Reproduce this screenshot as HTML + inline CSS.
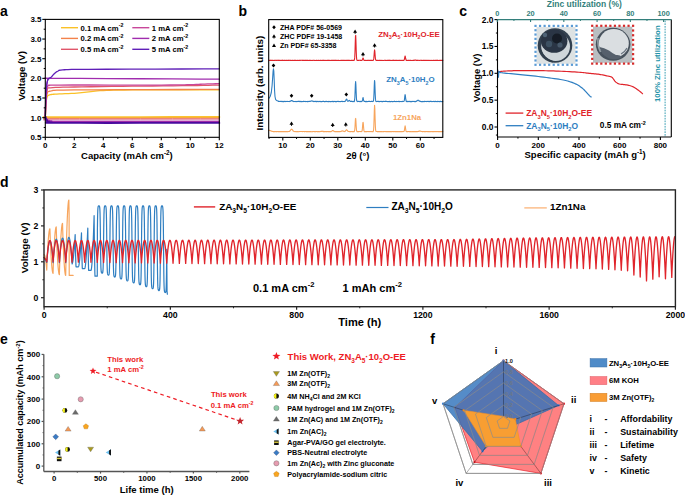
<!DOCTYPE html>
<html><head><meta charset="utf-8"><style>
html,body{margin:0;padding:0;background:#fff;width:685px;height:495px;overflow:hidden}
svg{display:block}
text{font-family:"Liberation Sans",sans-serif;font-weight:bold}
</style></head><body>
<svg width="685" height="495" viewBox="0 0 685 495">
<defs><filter id="pb" x="-10%" y="-10%" width="120%" height="120%"><feGaussianBlur stdDeviation="0.55"/></filter></defs>
<rect width="685" height="495" fill="#fff"/>
<text x="0.00" y="16.00" font-size="14" text-anchor="start" fill="#000" >a</text>
<path d="M45.30,116.47 L45.32,116.53 L45.25,116.62 L45.21,116.72 L45.35,116.83 L45.82,116.93 L46.75,117.00 L46.56,117.06 L44.82,117.11 L43.40,117.14 L44.17,117.17 L49.02,117.19 L59.80,117.20 L79.75,117.20 L108.03,117.18 L140.37,117.15 L172.52,117.12 L200.25,117.10 L219.30,117.08" stroke="#FBC22E" stroke-width="2.0" fill="none" stroke-linejoin="round" stroke-linecap="round" />
<path d="M45.30,116.47 L45.32,116.67 L45.25,116.95 L45.21,117.27 L45.35,117.61 L45.82,117.90 L46.75,118.10 L46.56,118.22 L44.82,118.29 L43.40,118.31 L44.17,118.31 L49.02,118.30 L59.80,118.30 L79.75,118.30 L108.03,118.28 L140.37,118.25 L172.52,118.22 L200.25,118.20 L219.30,118.18" stroke="#F2804F" stroke-width="1.0" fill="none" stroke-linejoin="round" stroke-linecap="round" />
<path d="M45.30,116.47 L45.32,116.77 L45.25,117.21 L45.21,117.72 L45.35,118.24 L45.82,118.69 L46.75,119.00 L46.56,119.18 L44.82,119.25 L43.40,119.27 L44.17,119.24 L49.02,119.21 L59.80,119.20 L79.75,119.20 L108.03,119.18 L140.37,119.15 L172.52,119.12 L200.25,119.10 L219.30,119.08" stroke="#E0586C" stroke-width="1.0" fill="none" stroke-linejoin="round" stroke-linecap="round" />
<path d="M45.30,116.47 L45.32,116.88 L45.25,117.48 L45.21,118.17 L45.35,118.87 L45.82,119.48 L46.75,119.90 L46.56,120.13 L44.82,120.22 L43.40,120.22 L44.17,120.18 L49.02,120.12 L59.80,120.10 L79.75,120.10 L108.03,120.08 L140.37,120.05 L172.52,120.02 L200.25,120.00 L219.30,119.98" stroke="#EBA8C8" stroke-width="0.9" fill="none" stroke-linejoin="round" stroke-linecap="round" />
<path d="M45.30,116.47 L45.51,116.85 L45.78,117.39 L46.12,118.03 L46.51,118.68 L46.96,119.27 L47.47,119.73 L48.03,120.05 L48.63,120.30 L49.29,120.50 L50.03,120.65 L50.87,120.78 L51.82,120.91 L51.19,121.02 L48.60,121.11 L46.12,121.18 L45.78,121.23 L49.66,121.27 L59.80,121.30 L79.46,121.32 L107.65,121.33 L140.05,121.32 L172.34,121.31 L200.19,121.30 L219.30,121.30" stroke="#A02CA8" stroke-width="1.3" fill="none" stroke-linejoin="round" stroke-linecap="round" />
<path d="M45.30,116.47 L45.51,117.04 L45.78,117.87 L46.12,118.83 L46.51,119.80 L46.96,120.68 L47.47,121.33 L48.03,121.75 L48.63,122.02 L49.29,122.20 L50.03,122.31 L50.87,122.40 L51.82,122.51 L51.19,122.62 L48.60,122.71 L46.12,122.78 L45.78,122.83 L49.66,122.87 L59.80,122.90 L79.46,122.92 L107.65,122.93 L140.05,122.92 L172.34,122.91 L200.19,122.90 L219.30,122.90" stroke="#4A0A9E" stroke-width="1.9" fill="none" stroke-linejoin="round" stroke-linecap="round" />
<path d="M45.30,117.65 L45.36,116.33 L45.43,114.48 L45.52,112.30 L45.62,109.99 L45.74,107.78 L45.88,105.86 L46.02,104.16 L46.17,102.51 L46.33,100.95 L46.52,99.51 L46.76,98.25 L47.04,97.21 L47.34,96.44 L47.63,95.90 L47.96,95.54 L48.38,95.29 L48.93,95.09 L49.65,94.86 L50.47,94.63 L51.35,94.48 L52.35,94.36 L53.56,94.27 L55.05,94.18 L56.90,94.07 L59.25,93.95 L62.06,93.83 L65.15,93.71 L68.34,93.59 L71.45,93.45 L74.30,93.28 L76.88,93.09 L79.35,92.87 L81.73,92.63 L84.07,92.39 L86.42,92.14 L88.80,91.91 L91.05,91.67 L93.10,91.42 L95.14,91.17 L97.39,90.93 L100.04,90.72 L103.30,90.53 L106.62,90.38 L109.74,90.26 L113.27,90.16 L117.80,90.08 L123.94,90.01 L132.30,89.94 L144.45,89.89 L160.23,89.84 L177.61,89.81 L194.60,89.78 L209.16,89.76 L219.30,89.75" stroke="#FAC127" stroke-width="1.3" fill="none" stroke-linejoin="round" stroke-linecap="round" />
<path d="M45.30,117.65 L45.36,116.11 L45.43,113.94 L45.52,111.39 L45.62,108.70 L45.74,106.12 L45.88,103.90 L46.01,101.95 L46.12,100.08 L46.24,98.32 L46.42,96.70 L46.67,95.28 L47.04,94.07 L47.33,93.13 L47.47,92.45 L47.69,91.95 L48.22,91.57 L49.28,91.25 L51.10,90.93 L52.45,90.63 L52.90,90.42 L53.89,90.28 L56.84,90.16 L63.16,90.06 L74.30,89.94 L93.10,89.82 L118.98,89.70 L148.25,89.59 L177.20,89.49 L202.11,89.41 L219.30,89.35" stroke="#F3824B" stroke-width="1.3" fill="none" stroke-linejoin="round" stroke-linecap="round" />
<path d="M45.30,117.65 L45.35,115.89 L45.42,113.43 L45.51,110.53 L45.61,107.46 L45.73,104.50 L45.88,101.93 L46.03,99.63 L46.19,97.36 L46.37,95.20 L46.58,93.23 L46.85,91.51 L47.18,90.14 L47.37,89.18 L47.34,88.60 L47.37,88.27 L47.71,88.10 L48.62,87.97 L50.38,87.78 L52.77,87.56 L55.55,87.40 L58.91,87.29 L63.03,87.20 L68.10,87.11 L74.30,87.00 L81.99,86.86 L91.11,86.73 L101.17,86.59 L111.70,86.46 L122.24,86.33 L132.30,86.21 L142.30,86.10 L152.71,86.00 L163.11,85.90 L173.11,85.81 L182.31,85.72 L190.30,85.62 L197.15,85.52 L203.19,85.40 L208.43,85.29 L212.86,85.18 L216.48,85.10 L219.30,85.03" stroke="#E0566A" stroke-width="1.3" fill="none" stroke-linejoin="round" stroke-linecap="round" />
<path d="M45.30,117.65 L45.36,115.66 L45.43,112.86 L45.52,109.57 L45.62,106.11 L45.74,102.80 L45.88,99.97 L46.02,97.50 L46.17,95.13 L46.33,92.92 L46.52,90.91 L46.76,89.18 L47.04,87.78 L47.30,86.80 L47.52,86.20 L47.78,85.87 L48.17,85.70 L48.76,85.59 L49.65,85.42 L49.85,85.24 L49.09,85.13 L48.54,85.08 L49.37,85.06 L52.73,85.05 L59.80,85.03 L72.27,85.01 L89.55,85.02 L109.37,85.03 L129.45,85.05 L147.52,85.05 L161.30,85.03 L170.50,84.99 L176.87,84.94 L181.24,84.87 L184.39,84.80 L187.14,84.72 L190.30,84.64 L193.56,84.55 L196.21,84.45 L198.46,84.34 L200.50,84.24 L202.55,84.14 L204.80,84.05 L207.38,83.97 L210.17,83.89 L212.96,83.82 L215.54,83.75 L217.72,83.70 L219.30,83.66" stroke="#C8479A" stroke-width="1.3" fill="none" stroke-linejoin="round" stroke-linecap="round" />
<path d="M45.30,117.65 L45.35,115.22 L45.42,111.78 L45.50,107.75 L45.60,103.52 L45.73,99.48 L45.88,96.03 L46.06,93.07 L46.28,90.23 L46.51,87.60 L46.77,85.22 L47.04,83.16 L47.33,81.49 L47.54,80.30 L47.65,79.55 L47.78,79.12 L48.04,78.90 L48.53,78.74 L49.36,78.55 L48.89,78.34 L46.70,78.24 L44.74,78.21 L44.97,78.24 L49.34,78.29 L59.80,78.35 L79.60,78.43 L107.83,78.57 L140.20,78.73 L172.43,78.90 L200.22,79.04 L219.30,79.14" stroke="#A02CAE" stroke-width="1.3" fill="none" stroke-linejoin="round" stroke-linecap="round" />
<path d="M45.30,119.62 L45.36,116.91 L45.44,113.06 L45.54,108.56 L45.64,103.89 L45.76,99.56 L45.88,96.03 L46.00,93.31 L46.12,91.00 L46.24,89.01 L46.38,87.27 L46.55,85.71 L46.75,84.25 L46.98,82.92 L47.23,81.80 L47.51,80.86 L47.81,80.05 L48.14,79.36 L48.49,78.74 L48.87,78.27 L49.28,77.99 L49.72,77.81 L50.18,77.67 L50.64,77.48 L51.10,77.17 L51.56,76.73 L52.02,76.22 L52.49,75.67 L52.97,75.10 L53.47,74.55 L54.00,74.03 L54.55,73.53 L55.10,73.03 L55.68,72.54 L56.28,72.08 L56.93,71.65 L57.62,71.28 L58.14,70.96 L58.43,70.69 L58.76,70.45 L59.40,70.25 L60.62,70.07 L62.70,69.90 L64.62,69.75 L65.98,69.64 L67.91,69.54 L71.59,69.46 L78.16,69.39 L88.80,69.31 L106.02,69.23 L129.40,69.15 L155.68,69.08 L181.60,69.01 L203.89,68.96 L219.30,68.92" stroke="#5F1FB8" stroke-width="1.3" fill="none" stroke-linejoin="round" stroke-linecap="round" />
<rect x="45.3" y="19.4" width="174.0" height="117.9" fill="none" stroke="#000" stroke-width="1.1"/>
<line x1="42.30" y1="137.30" x2="45.30" y2="137.30" stroke="#000" stroke-width="1.1" />
<text x="41.50" y="140.20" font-size="8" text-anchor="end" fill="#000" >0.5</text>
<line x1="43.70" y1="127.48" x2="45.30" y2="127.48" stroke="#000" stroke-width="1" />
<line x1="42.30" y1="117.65" x2="45.30" y2="117.65" stroke="#000" stroke-width="1.1" />
<text x="41.50" y="120.55" font-size="8" text-anchor="end" fill="#000" >1.0</text>
<line x1="43.70" y1="107.83" x2="45.30" y2="107.83" stroke="#000" stroke-width="1" />
<line x1="42.30" y1="98.00" x2="45.30" y2="98.00" stroke="#000" stroke-width="1.1" />
<text x="41.50" y="100.90" font-size="8" text-anchor="end" fill="#000" >1.5</text>
<line x1="43.70" y1="88.18" x2="45.30" y2="88.18" stroke="#000" stroke-width="1" />
<line x1="42.30" y1="78.35" x2="45.30" y2="78.35" stroke="#000" stroke-width="1.1" />
<text x="41.50" y="81.25" font-size="8" text-anchor="end" fill="#000" >2.0</text>
<line x1="43.70" y1="68.53" x2="45.30" y2="68.53" stroke="#000" stroke-width="1" />
<line x1="42.30" y1="58.70" x2="45.30" y2="58.70" stroke="#000" stroke-width="1.1" />
<text x="41.50" y="61.60" font-size="8" text-anchor="end" fill="#000" >2.5</text>
<line x1="43.70" y1="48.88" x2="45.30" y2="48.88" stroke="#000" stroke-width="1" />
<line x1="42.30" y1="39.05" x2="45.30" y2="39.05" stroke="#000" stroke-width="1.1" />
<text x="41.50" y="41.95" font-size="8" text-anchor="end" fill="#000" >3.0</text>
<line x1="43.70" y1="29.23" x2="45.30" y2="29.23" stroke="#000" stroke-width="1" />
<line x1="42.30" y1="19.40" x2="45.30" y2="19.40" stroke="#000" stroke-width="1.1" />
<text x="41.50" y="22.30" font-size="8" text-anchor="end" fill="#000" >3.5</text>
<line x1="45.30" y1="137.30" x2="45.30" y2="140.30" stroke="#000" stroke-width="1.1" />
<text x="45.30" y="147.80" font-size="8" text-anchor="middle" fill="#000" >0</text>
<line x1="59.80" y1="137.30" x2="59.80" y2="138.90" stroke="#000" stroke-width="1" />
<line x1="74.30" y1="137.30" x2="74.30" y2="140.30" stroke="#000" stroke-width="1.1" />
<text x="74.30" y="147.80" font-size="8" text-anchor="middle" fill="#000" >2</text>
<line x1="88.80" y1="137.30" x2="88.80" y2="138.90" stroke="#000" stroke-width="1" />
<line x1="103.30" y1="137.30" x2="103.30" y2="140.30" stroke="#000" stroke-width="1.1" />
<text x="103.30" y="147.80" font-size="8" text-anchor="middle" fill="#000" >4</text>
<line x1="117.80" y1="137.30" x2="117.80" y2="138.90" stroke="#000" stroke-width="1" />
<line x1="132.30" y1="137.30" x2="132.30" y2="140.30" stroke="#000" stroke-width="1.1" />
<text x="132.30" y="147.80" font-size="8" text-anchor="middle" fill="#000" >6</text>
<line x1="146.80" y1="137.30" x2="146.80" y2="138.90" stroke="#000" stroke-width="1" />
<line x1="161.30" y1="137.30" x2="161.30" y2="140.30" stroke="#000" stroke-width="1.1" />
<text x="161.30" y="147.80" font-size="8" text-anchor="middle" fill="#000" >8</text>
<line x1="175.80" y1="137.30" x2="175.80" y2="138.90" stroke="#000" stroke-width="1" />
<line x1="190.30" y1="137.30" x2="190.30" y2="140.30" stroke="#000" stroke-width="1.1" />
<text x="190.30" y="147.80" font-size="8" text-anchor="middle" fill="#000" >10</text>
<line x1="204.80" y1="137.30" x2="204.80" y2="138.90" stroke="#000" stroke-width="1" />
<line x1="219.30" y1="137.30" x2="219.30" y2="140.30" stroke="#000" stroke-width="1.1" />
<text x="219.30" y="147.80" font-size="8" text-anchor="middle" fill="#000" >12</text>
<text x="81.10" y="159.00" font-size="9.5" text-anchor="start" fill="#000" >Capacity (mAh cm<tspan font-size="6.3" dy="-3.8">-2</tspan><tspan dy="3.8">)</tspan></text>
<text transform="translate(25.4,75.8) rotate(-90)" font-size="9.6" text-anchor="middle">Voltage (V)</text>
<line x1="61.00" y1="27.70" x2="78.00" y2="27.70" stroke="#FAC127" stroke-width="1.4" />
<text x="80.50" y="30.50" font-size="7.7" text-anchor="start" fill="#000" >0.1 mA cm<tspan font-size="5.3" dy="-3.1">-2</tspan></text>
<line x1="61.00" y1="38.40" x2="78.00" y2="38.40" stroke="#F3824B" stroke-width="1.4" />
<text x="80.50" y="41.20" font-size="7.7" text-anchor="start" fill="#000" >0.2 mA cm<tspan font-size="5.3" dy="-3.1">-2</tspan></text>
<line x1="61.00" y1="49.30" x2="78.00" y2="49.30" stroke="#E0566A" stroke-width="1.4" />
<text x="80.50" y="52.10" font-size="7.7" text-anchor="start" fill="#000" >0.5 mA cm<tspan font-size="5.3" dy="-3.1">-2</tspan></text>
<line x1="132.30" y1="27.70" x2="149.30" y2="27.70" stroke="#C8479A" stroke-width="1.4" />
<text x="151.80" y="30.50" font-size="7.7" text-anchor="start" fill="#000" >1 mA cm<tspan font-size="5.3" dy="-3.1">-2</tspan></text>
<line x1="132.30" y1="38.40" x2="149.30" y2="38.40" stroke="#A02CAE" stroke-width="1.4" />
<text x="151.80" y="41.20" font-size="7.7" text-anchor="start" fill="#000" >2 mA cm<tspan font-size="5.3" dy="-3.1">-2</tspan></text>
<line x1="132.30" y1="49.30" x2="149.30" y2="49.30" stroke="#5F1FB8" stroke-width="1.4" />
<text x="151.80" y="52.10" font-size="7.7" text-anchor="start" fill="#000" >5 mA cm<tspan font-size="5.3" dy="-3.1">-2</tspan></text>
<text x="238.40" y="16.00" font-size="14" text-anchor="start" fill="#000" >b</text>
<path d="M269.05,60.36 L269.30,60.31 L269.55,60.44 L269.79,60.29 L270.04,60.41 L270.29,60.37 L270.54,60.29 L270.79,60.40 L271.04,60.28 L271.28,60.38 L271.53,60.29 L271.78,60.30 L272.03,60.38 L272.28,60.48 L272.53,60.31 L272.77,60.33 L273.02,60.43 L273.27,60.51 L273.52,60.42 L273.77,60.37 L274.02,60.52 L274.26,60.29 L274.51,60.49 L274.76,60.35 L275.01,60.31 L275.26,60.30 L275.51,60.35 L275.75,60.48 L276.00,60.32 L276.25,60.42 L276.50,60.43 L276.75,60.37 L277.00,60.41 L277.24,60.29 L277.49,60.29 L277.74,60.33 L277.99,60.45 L278.24,60.38 L278.48,60.35 L278.73,60.42 L278.98,60.39 L279.23,60.35 L279.48,60.47 L279.73,60.45 L279.97,60.34 L280.22,60.42 L280.47,60.41 L280.72,60.49 L280.97,60.46 L281.22,60.35 L281.46,60.52 L281.71,60.30 L281.96,60.38 L282.21,60.46 L282.46,60.31 L282.71,60.40 L282.95,60.28 L283.20,60.44 L283.45,60.47 L283.70,60.42 L283.95,60.49 L284.20,60.35 L284.44,60.45 L284.69,60.42 L284.94,60.42 L285.19,60.39 L285.44,60.48 L285.69,60.51 L285.93,60.39 L286.18,60.44 L286.43,60.29 L286.68,60.45 L286.93,60.44 L287.17,60.52 L287.42,60.48 L287.67,60.35 L287.92,60.37 L288.17,60.44 L288.42,60.28 L288.66,60.39 L288.91,60.32 L289.16,60.30 L289.41,60.29 L289.66,60.47 L289.91,60.31 L290.15,60.34 L290.40,60.37 L290.65,60.49 L290.90,60.30 L291.15,60.39 L291.40,60.41 L291.64,60.50 L291.89,60.48 L292.14,60.49 L292.39,60.34 L292.64,60.38 L292.89,60.36 L293.13,60.50 L293.38,60.51 L293.63,60.31 L293.88,60.32 L294.13,60.33 L294.38,60.33 L294.62,60.40 L294.87,60.42 L295.12,60.34 L295.37,60.28 L295.62,60.38 L295.86,60.37 L296.11,60.42 L296.36,60.51 L296.61,60.45 L296.86,60.40 L297.11,60.43 L297.35,60.44 L297.60,60.29 L297.85,60.50 L298.10,60.47 L298.35,60.49 L298.60,60.47 L298.84,60.37 L299.09,60.37 L299.34,60.30 L299.59,60.43 L299.84,60.29 L300.09,60.29 L300.33,60.33 L300.58,60.32 L300.83,60.36 L301.08,60.29 L301.33,60.28 L301.58,60.31 L301.82,60.30 L302.07,60.37 L302.32,60.28 L302.57,60.49 L302.82,60.43 L303.07,60.31 L303.31,60.34 L303.56,60.36 L303.81,60.37 L304.06,60.31 L304.31,60.49 L304.55,60.52 L304.80,60.39 L305.05,60.40 L305.30,60.30 L305.55,60.30 L305.80,60.36 L306.04,60.34 L306.29,60.48 L306.54,60.32 L306.79,60.28 L307.04,60.51 L307.29,60.41 L307.53,60.31 L307.78,60.41 L308.03,60.28 L308.28,60.41 L308.53,60.52 L308.78,60.49 L309.02,60.45 L309.27,60.34 L309.52,60.37 L309.77,60.32 L310.02,60.47 L310.27,60.41 L310.51,60.47 L310.76,60.36 L311.01,60.33 L311.26,60.48 L311.51,60.52 L311.76,60.49 L312.00,60.48 L312.25,60.48 L312.50,60.46 L312.75,60.33 L313.00,60.40 L313.24,60.36 L313.49,60.28 L313.74,60.28 L313.99,60.34 L314.24,60.34 L314.49,60.45 L314.73,60.51 L314.98,60.39 L315.23,60.51 L315.48,60.52 L315.73,60.51 L315.98,60.37 L316.22,60.33 L316.47,60.33 L316.72,60.32 L316.97,60.33 L317.22,60.43 L317.47,60.50 L317.71,60.49 L317.96,60.39 L318.21,60.44 L318.46,60.47 L318.71,60.30 L318.96,60.44 L319.20,60.50 L319.45,60.47 L319.70,60.46 L319.95,60.39 L320.20,60.32 L320.45,60.47 L320.69,60.36 L320.94,60.48 L321.19,60.52 L321.44,60.37 L321.69,60.38 L321.93,60.51 L322.18,60.46 L322.43,60.32 L322.68,60.31 L322.93,60.31 L323.18,60.50 L323.42,60.48 L323.67,60.31 L323.92,60.48 L324.17,60.52 L324.42,60.44 L324.67,60.36 L324.91,60.41 L325.16,60.31 L325.41,60.28 L325.66,60.52 L325.91,60.44 L326.16,60.41 L326.40,60.51 L326.65,60.38 L326.90,60.49 L327.15,60.48 L327.40,60.33 L327.65,60.34 L327.89,60.35 L328.14,60.34 L328.39,60.42 L328.64,60.34 L328.89,60.38 L329.14,60.31 L329.38,60.50 L329.63,60.36 L329.88,60.39 L330.13,60.42 L330.38,60.50 L330.62,60.38 L330.87,60.50 L331.12,60.40 L331.37,60.41 L331.62,60.41 L331.87,60.28 L332.11,60.39 L332.36,60.32 L332.61,60.28 L332.86,60.47 L333.11,60.32 L333.36,60.39 L333.60,60.46 L333.85,60.41 L334.10,60.36 L334.35,60.40 L334.60,60.41 L334.85,60.47 L335.09,60.30 L335.34,60.42 L335.59,60.34 L335.84,60.34 L336.09,60.47 L336.34,60.40 L336.58,60.42 L336.83,60.46 L337.08,60.50 L337.33,60.39 L337.58,60.43 L337.83,60.40 L338.07,60.40 L338.32,60.45 L338.57,60.39 L338.82,60.41 L339.07,60.39 L339.31,60.51 L339.56,60.45 L339.81,60.49 L340.06,60.51 L340.31,60.34 L340.56,60.41 L340.80,60.51 L341.05,60.48 L341.30,60.31 L341.55,60.31 L341.80,60.39 L342.05,60.29 L342.29,60.34 L342.54,60.29 L342.79,60.44 L343.04,60.47 L343.29,60.50 L343.54,60.31 L343.78,60.45 L344.03,60.44 L344.28,60.31 L344.53,60.50 L344.78,60.52 L345.03,60.33 L345.27,60.51 L345.52,60.37 L345.77,60.40 L346.02,60.52 L346.27,60.48 L346.52,60.32 L346.76,60.38 L347.01,60.40 L347.26,60.36 L347.51,60.32 L347.76,60.35 L348.00,60.46 L348.25,60.28 L348.50,60.41 L348.75,60.39 L349.00,60.28 L349.25,60.36 L349.49,60.43 L349.74,60.40 L349.99,60.29 L350.24,60.52 L350.49,60.47 L350.74,60.52 L350.98,60.30 L351.23,60.34 L351.48,60.28 L351.73,60.47 L351.98,60.34 L352.23,60.31 L352.47,60.38 L352.72,60.50 L352.97,60.48 L353.22,60.34 L353.47,60.31 L353.72,60.50 L353.96,60.40 L354.21,60.34 L354.46,59.65 L354.71,57.63 L354.96,52.72 L355.21,44.32 L355.45,36.47 L355.70,35.27 L355.95,41.35 L356.20,50.17 L356.45,56.32 L356.69,59.39 L356.94,60.08 L357.19,60.46 L357.44,60.39 L357.69,60.36 L357.94,60.41 L358.18,60.51 L358.43,60.34 L358.68,60.31 L358.93,60.41 L359.18,60.33 L359.43,60.30 L359.67,60.32 L359.92,60.29 L360.17,60.33 L360.42,60.35 L360.67,60.35 L360.92,60.46 L361.16,60.35 L361.41,60.40 L361.66,60.32 L361.91,60.33 L362.16,60.09 L362.41,59.69 L362.65,58.77 L362.90,58.12 L363.15,58.00 L363.40,58.67 L363.65,59.64 L363.90,60.28 L364.14,60.26 L364.39,60.47 L364.64,60.38 L364.89,60.40 L365.14,60.48 L365.38,60.37 L365.63,60.40 L365.88,60.45 L366.13,60.52 L366.38,60.36 L366.63,60.48 L366.87,60.45 L367.12,60.43 L367.37,60.38 L367.62,60.36 L367.87,60.29 L368.12,60.31 L368.36,60.29 L368.61,60.46 L368.86,60.34 L369.11,60.32 L369.36,60.30 L369.61,60.49 L369.85,60.49 L370.10,60.44 L370.35,60.35 L370.60,60.34 L370.85,60.35 L371.10,60.39 L371.34,60.31 L371.59,60.39 L371.84,60.34 L372.09,60.52 L372.34,60.52 L372.59,60.41 L372.83,60.33 L373.08,60.50 L373.33,60.22 L373.58,59.73 L373.83,58.16 L374.07,55.31 L374.32,51.73 L374.57,49.82 L374.82,51.09 L375.07,54.65 L375.32,57.72 L375.56,59.53 L375.81,60.11 L376.06,60.35 L376.31,60.28 L376.56,60.28 L376.81,60.35 L377.05,60.33 L377.30,60.42 L377.55,60.41 L377.80,60.46 L378.05,60.44 L378.30,60.45 L378.54,60.49 L378.79,60.37 L379.04,60.36 L379.29,60.52 L379.54,60.31 L379.79,60.46 L380.03,60.44 L380.28,60.29 L380.53,60.48 L380.78,60.50 L381.03,60.43 L381.28,60.46 L381.52,60.48 L381.77,60.31 L382.02,60.41 L382.27,60.40 L382.52,60.48 L382.76,60.48 L383.01,60.48 L383.26,60.42 L383.51,60.50 L383.76,60.45 L384.01,60.45 L384.25,60.33 L384.50,60.28 L384.75,60.31 L385.00,60.37 L385.25,60.30 L385.50,60.48 L385.74,60.41 L385.99,60.43 L386.24,60.43 L386.49,60.45 L386.74,60.40 L386.99,60.28 L387.23,60.47 L387.48,60.46 L387.73,60.40 L387.98,60.41 L388.23,60.44 L388.48,60.29 L388.72,60.46 L388.97,60.34 L389.22,60.29 L389.47,60.34 L389.72,60.46 L389.97,60.33 L390.21,60.46 L390.46,60.52 L390.71,60.40 L390.96,60.37 L391.21,60.39 L391.45,60.45 L391.70,60.47 L391.95,60.43 L392.20,60.44 L392.45,60.29 L392.70,60.31 L392.94,60.34 L393.19,60.46 L393.44,60.35 L393.69,60.42 L393.94,60.28 L394.19,60.29 L394.43,60.34 L394.68,60.44 L394.93,60.45 L395.18,60.44 L395.43,60.35 L395.68,60.40 L395.92,60.39 L396.17,60.39 L396.42,60.30 L396.67,60.50 L396.92,60.32 L397.17,60.52 L397.41,60.51 L397.66,60.28 L397.91,60.39 L398.16,60.48 L398.41,60.52 L398.66,60.39 L398.90,60.34 L399.15,60.33 L399.40,60.51 L399.65,60.33 L399.90,60.42 L400.14,60.31 L400.39,60.41 L400.64,60.51 L400.89,60.31 L401.14,60.48 L401.39,60.40 L401.63,60.50 L401.88,60.45 L402.13,60.33 L402.38,60.50 L402.63,60.40 L402.88,60.28 L403.12,60.28 L403.37,60.40 L403.62,60.38 L403.87,60.29 L404.12,60.03 L404.37,59.45 L404.61,58.22 L404.86,56.90 L405.11,55.98 L405.36,56.78 L405.61,58.24 L405.86,59.32 L406.10,60.20 L406.35,60.39 L406.60,60.49 L406.85,60.35 L407.10,60.37 L407.35,60.37 L407.59,60.52 L407.84,60.42 L408.09,60.37 L408.34,60.38 L408.59,60.34 L408.83,60.29 L409.08,60.30 L409.33,60.48 L409.58,60.35 L409.83,60.51 L410.08,60.34 L410.32,60.34 L410.57,60.40 L410.82,60.32 L411.07,60.37 L411.32,60.51 L411.57,60.50 L411.81,60.48 L412.06,60.43 L412.31,60.50 L412.56,60.51 L412.81,60.41 L413.06,60.45 L413.30,60.29 L413.55,60.45 L413.80,60.38 L414.05,60.43 L414.30,60.37 L414.55,60.22 L414.79,60.08 L415.04,60.23 L415.29,60.01 L415.54,60.12 L415.79,60.15 L416.04,60.22 L416.28,60.39 L416.53,60.49 L416.78,60.33 L417.03,60.44 L417.28,60.35 L417.52,60.41 L417.77,60.37 L418.02,60.32 L418.27,60.32 L418.52,60.33 L418.77,60.50 L419.01,60.40 L419.26,60.33 L419.51,60.50 L419.76,60.52 L420.01,60.39 L420.26,60.31 L420.50,60.32 L420.75,60.30 L421.00,60.36 L421.25,60.30 L421.50,60.33 L421.75,60.34 L421.99,60.42 L422.24,60.50 L422.49,60.46 L422.74,60.38 L422.99,60.38 L423.24,60.41 L423.48,60.37 L423.73,60.36 L423.98,60.29 L424.23,60.34 L424.48,60.52 L424.73,60.31 L424.97,60.40 L425.22,60.43 L425.47,60.49 L425.72,60.33 L425.97,60.34 L426.21,60.34 L426.46,60.37 L426.71,60.39 L426.96,60.51 L427.21,60.49 L427.46,60.49 L427.70,60.28 L427.95,60.28 L428.20,60.45 L428.45,60.50 L428.70,60.39 L428.95,60.42 L429.19,60.28 L429.44,60.37 L429.69,60.51 L429.94,60.48 L430.19,60.49 L430.44,60.52 L430.68,60.34 L430.93,60.30 L431.18,60.31 L431.43,60.41 L431.68,60.45 L431.93,60.51 L432.17,60.46 L432.42,60.44 L432.67,60.47 L432.92,60.39 L433.17,60.41 L433.42,60.28 L433.66,60.47 L433.91,60.33 L434.16,60.50 L434.41,60.44 L434.66,60.35 L434.90,60.31 L435.15,60.34 L435.40,60.43 L435.65,60.45 L435.90,60.30 L436.15,60.29 L436.39,60.41 L436.64,60.42 L436.89,60.37 L437.14,60.33 L437.39,60.43 L437.64,60.28 L437.88,60.35 L438.13,60.39 L438.38,60.51 L438.63,60.44 L438.88,60.50 L439.13,60.39 L439.37,60.33 L439.62,60.34 L439.87,60.52 L440.12,60.45 L440.37,60.35 L440.62,60.28 L440.86,60.40 L441.11,60.44 L441.36,60.38 L441.61,60.34 L441.86,60.44 L442.11,60.51 L442.35,60.33 L442.60,60.28 L442.85,60.36" stroke="#E0242B" stroke-width="1.1" fill="none" stroke-linejoin="round" stroke-linecap="round" />
<path d="M269.10,98.10 L270.30,96.20 L271.30,92.50 L272.10,85.50 L272.70,77.00 L273.10,71.00 L273.45,68.80 L273.80,71.00 L274.20,80.00 L274.60,91.00 L275.00,96.50 L275.60,99.30 L276.50,100.50 L278.00,101.00 L278.60,101.44 L278.85,101.38 L279.10,101.55 L279.35,101.35 L279.59,101.51 L279.84,101.45 L280.09,101.35 L280.34,101.50 L280.59,101.34 L280.84,101.48 L281.08,101.35 L281.33,101.36 L281.58,101.47 L281.83,101.61 L282.08,101.37 L282.33,101.40 L282.58,101.54 L282.82,101.66 L283.07,101.53 L283.32,101.46 L283.57,101.67 L283.82,101.34 L284.07,101.63 L284.32,101.43 L284.56,101.38 L284.81,101.37 L285.06,101.43 L285.31,101.61 L285.56,101.39 L285.81,101.53 L286.05,101.55 L286.30,101.46 L286.55,101.52 L286.80,101.35 L287.05,101.35 L287.30,101.40 L287.55,101.56 L287.79,101.47 L288.04,101.43 L288.29,101.53 L288.54,101.48 L288.79,101.43 L289.04,101.60 L289.28,101.56 L289.53,101.38 L289.78,101.46 L290.03,101.38 L290.28,101.39 L290.53,101.19 L290.78,100.86 L291.02,100.91 L291.27,100.45 L291.52,100.48 L291.77,100.61 L292.02,100.51 L292.27,100.80 L292.52,100.84 L292.76,101.23 L293.01,101.40 L293.26,101.42 L293.51,101.58 L293.76,101.41 L294.01,101.56 L294.25,101.53 L294.50,101.53 L294.75,101.48 L295.00,101.62 L295.25,101.66 L295.50,101.49 L295.75,101.56 L295.99,101.35 L296.24,101.57 L296.49,101.55 L296.74,101.67 L296.99,101.61 L297.24,101.42 L297.49,101.46 L297.73,101.56 L297.98,101.33 L298.23,101.49 L298.48,101.38 L298.73,101.37 L298.98,101.35 L299.22,101.59 L299.47,101.37 L299.72,101.41 L299.97,101.46 L300.22,101.63 L300.47,101.35 L300.72,101.48 L300.96,101.52 L301.21,101.63 L301.46,101.61 L301.71,101.63 L301.96,101.42 L302.21,101.47 L302.45,101.45 L302.70,101.63 L302.95,101.66 L303.20,101.38 L303.45,101.39 L303.70,101.41 L303.95,101.41 L304.19,101.49 L304.44,101.53 L304.69,101.42 L304.94,101.33 L305.19,101.47 L305.44,101.45 L305.69,101.52 L305.93,101.66 L306.18,101.57 L306.43,101.51 L306.68,101.54 L306.93,101.56 L307.18,101.34 L307.42,101.64 L307.67,101.60 L307.92,101.63 L308.17,101.60 L308.42,101.46 L308.67,101.46 L308.92,101.36 L309.16,101.55 L309.41,101.34 L309.66,101.34 L309.91,101.38 L310.16,101.35 L310.41,101.37 L310.65,101.22 L310.90,101.12 L311.15,101.08 L311.40,100.97 L311.65,100.99 L311.90,100.84 L312.15,101.15 L312.39,101.12 L312.64,101.04 L312.89,101.17 L313.14,101.29 L313.39,101.36 L313.64,101.32 L313.89,101.60 L314.13,101.66 L314.38,101.48 L314.63,101.49 L314.88,101.35 L315.13,101.36 L315.38,101.44 L315.62,101.42 L315.87,101.62 L316.12,101.38 L316.37,101.33 L316.62,101.66 L316.87,101.51 L317.12,101.38 L317.36,101.52 L317.61,101.33 L317.86,101.51 L318.11,101.67 L318.36,101.63 L318.61,101.57 L318.85,101.42 L319.10,101.45 L319.35,101.38 L319.60,101.60 L319.85,101.51 L320.10,101.60 L320.35,101.44 L320.59,101.40 L320.84,101.61 L321.09,101.67 L321.34,101.62 L321.59,101.61 L321.84,101.61 L322.09,101.58 L322.33,101.40 L322.58,101.51 L322.83,101.45 L323.08,101.34 L323.33,101.33 L323.58,101.42 L323.82,101.42 L324.07,101.57 L324.32,101.66 L324.57,101.48 L324.82,101.65 L325.07,101.67 L325.32,101.66 L325.56,101.45 L325.81,101.40 L326.06,101.40 L326.31,101.39 L326.56,101.40 L326.81,101.54 L327.05,101.64 L327.30,101.62 L327.55,101.49 L327.80,101.55 L328.05,101.60 L328.30,101.35 L328.55,101.56 L328.79,101.64 L329.04,101.60 L329.29,101.59 L329.54,101.49 L329.79,101.39 L330.04,101.60 L330.29,101.44 L330.53,101.61 L330.78,101.67 L331.03,101.46 L331.28,101.47 L331.53,101.66 L331.78,101.58 L332.02,101.38 L332.27,101.37 L332.52,101.38 L332.77,101.64 L333.02,101.61 L333.27,101.38 L333.52,101.61 L333.76,101.67 L334.01,101.56 L334.26,101.45 L334.51,101.52 L334.76,101.37 L335.01,101.33 L335.26,101.66 L335.50,101.55 L335.75,101.51 L336.00,101.65 L336.25,101.48 L336.50,101.63 L336.75,101.61 L336.99,101.40 L337.24,101.41 L337.49,101.43 L337.74,101.41 L337.99,101.53 L338.24,101.42 L338.49,101.47 L338.73,101.37 L338.98,101.64 L339.23,101.45 L339.48,101.49 L339.73,101.53 L339.98,101.64 L340.22,101.47 L340.47,101.65 L340.72,101.50 L340.97,101.51 L341.22,101.51 L341.47,101.33 L341.72,101.48 L341.96,101.39 L342.21,101.33 L342.46,101.60 L342.71,101.39 L342.96,101.49 L343.21,101.58 L343.46,101.52 L343.70,101.44 L343.95,101.51 L344.20,101.52 L344.45,101.60 L344.70,101.35 L344.95,101.46 L345.19,101.24 L345.44,101.00 L345.69,100.74 L345.94,100.04 L346.19,99.45 L346.44,99.13 L346.69,99.22 L346.93,99.48 L347.18,100.16 L347.43,100.71 L347.68,101.10 L347.93,101.34 L348.18,101.24 L348.42,101.10 L348.67,100.81 L348.92,100.68 L349.17,100.40 L349.42,100.46 L349.67,100.68 L349.92,100.73 L350.16,101.13 L350.41,101.46 L350.66,101.54 L350.91,101.35 L351.16,101.36 L351.41,101.48 L351.66,101.35 L351.90,101.41 L352.15,101.35 L352.40,101.56 L352.65,101.60 L352.90,101.64 L353.15,101.38 L353.39,101.58 L353.64,101.56 L353.89,101.37 L354.14,101.58 L354.39,101.34 L354.64,99.96 L354.89,97.03 L355.13,90.87 L355.38,84.18 L355.63,81.48 L355.88,84.81 L356.13,91.40 L356.38,97.25 L356.62,100.23 L356.87,101.17 L357.12,101.35 L357.37,101.43 L357.62,101.58 L357.87,101.33 L358.12,101.52 L358.36,101.48 L358.61,101.33 L358.86,101.44 L359.11,101.54 L359.36,101.50 L359.61,101.35 L359.86,101.67 L360.10,101.60 L360.35,101.67 L360.60,101.36 L360.85,101.42 L361.10,101.34 L361.35,101.60 L361.59,101.42 L361.84,101.34 L362.09,101.28 L362.34,100.91 L362.59,99.70 L362.84,98.12 L363.09,97.60 L363.33,98.76 L363.58,100.06 L363.83,101.08 L364.08,101.25 L364.33,101.33 L364.58,101.56 L364.83,101.47 L365.07,101.35 L365.32,101.65 L365.57,101.55 L365.82,101.61 L366.07,101.35 L366.32,101.62 L366.56,101.35 L366.81,101.63 L367.06,101.48 L367.31,101.44 L367.56,101.52 L367.81,101.65 L368.06,101.42 L368.30,101.37 L368.55,101.51 L368.80,101.41 L369.05,101.36 L369.30,101.38 L369.55,101.34 L369.79,101.40 L370.04,101.43 L370.29,101.43 L370.54,101.59 L370.79,101.43 L371.04,101.50 L371.29,101.39 L371.53,101.45 L371.78,101.33 L372.03,101.41 L372.28,101.33 L372.53,101.58 L372.78,101.52 L373.03,101.37 L373.27,101.31 L373.52,100.73 L373.77,98.02 L374.02,92.97 L374.27,85.51 L374.52,80.46 L374.76,81.83 L375.01,88.19 L375.26,95.14 L375.51,99.39 L375.76,101.14 L376.01,101.35 L376.26,101.60 L376.50,101.57 L376.75,101.55 L377.00,101.47 L377.25,101.45 L377.50,101.34 L377.75,101.37 L377.99,101.35 L378.24,101.58 L378.49,101.41 L378.74,101.38 L378.99,101.35 L379.24,101.62 L379.49,101.63 L379.73,101.56 L379.98,101.42 L380.23,101.41 L380.48,101.43 L380.73,101.49 L380.98,101.38 L381.23,101.48 L381.47,101.42 L381.72,101.66 L381.97,101.67 L382.22,101.52 L382.47,101.41 L382.72,101.66 L382.96,101.43 L383.21,101.45 L383.46,101.33 L383.71,101.46 L383.96,101.49 L384.21,101.50 L384.46,101.40 L384.70,101.50 L384.95,101.33 L385.20,101.42 L385.45,101.36 L385.70,101.46 L385.95,101.34 L386.19,101.33 L386.44,101.43 L386.69,101.41 L386.94,101.53 L387.19,101.51 L387.44,101.59 L387.69,101.56 L387.93,101.58 L388.18,101.63 L388.43,101.46 L388.68,101.44 L388.93,101.67 L389.18,101.38 L389.43,101.58 L389.67,101.55 L389.92,101.34 L390.17,101.62 L390.42,101.64 L390.67,101.54 L390.92,101.58 L391.16,101.61 L391.41,101.37 L391.66,101.51 L391.91,101.50 L392.16,101.62 L392.41,101.61 L392.66,101.61 L392.90,101.53 L393.15,101.64 L393.40,101.56 L393.65,101.57 L393.90,101.41 L394.15,101.34 L394.40,101.37 L394.64,101.45 L394.89,101.36 L395.14,101.62 L395.39,101.52 L395.64,101.54 L395.89,101.54 L396.13,101.56 L396.38,101.50 L396.63,101.33 L396.88,101.60 L397.13,101.59 L397.38,101.50 L397.63,101.51 L397.87,101.56 L398.12,101.35 L398.37,101.58 L398.62,101.41 L398.87,101.35 L399.12,101.42 L399.36,101.58 L399.61,101.40 L399.86,101.58 L400.11,101.67 L400.36,101.50 L400.61,101.46 L400.86,101.49 L401.10,101.56 L401.35,101.59 L401.60,101.54 L401.85,101.55 L402.10,101.35 L402.35,101.38 L402.60,101.41 L402.84,101.59 L403.09,101.43 L403.34,101.52 L403.59,101.32 L403.84,101.27 L404.09,101.05 L404.33,100.30 L404.58,98.47 L404.83,96.14 L405.08,94.66 L405.33,95.47 L405.58,97.64 L405.83,99.74 L406.07,100.80 L406.32,101.51 L406.57,101.37 L406.82,101.66 L407.07,101.65 L407.32,101.33 L407.56,101.49 L407.81,101.61 L408.06,101.66 L408.31,101.48 L408.56,101.42 L408.81,101.40 L409.06,101.66 L409.30,101.40 L409.55,101.53 L409.80,101.37 L410.05,101.51 L410.30,101.66 L410.55,101.37 L410.80,101.61 L411.04,101.50 L411.29,101.64 L411.54,101.57 L411.79,101.41 L412.04,101.64 L412.29,101.50 L412.53,101.33 L412.78,101.33 L413.03,101.50 L413.28,101.48 L413.53,101.43 L413.78,101.37 L414.03,101.45 L414.27,101.43 L414.52,101.62 L414.77,101.32 L415.02,101.58 L415.27,101.60 L415.52,101.33 L415.76,101.57 L416.01,101.44 L416.26,101.42 L416.51,101.08 L416.76,100.96 L417.01,100.78 L417.26,100.81 L417.50,100.50 L417.75,100.30 L418.00,100.28 L418.25,100.25 L418.50,100.27 L418.75,100.44 L419.00,100.87 L419.24,100.86 L419.49,101.26 L419.74,101.15 L419.99,101.26 L420.24,101.41 L420.49,101.34 L420.73,101.43 L420.98,101.65 L421.23,101.63 L421.48,101.61 L421.73,101.54 L421.98,101.64 L422.23,101.65 L422.47,101.52 L422.72,101.58 L422.97,101.34 L423.22,101.58 L423.47,101.48 L423.72,101.59 L423.96,101.55 L424.21,101.43 L424.46,101.34 L424.71,101.65 L424.96,101.37 L425.21,101.49 L425.46,101.45 L425.70,101.43 L425.95,101.58 L426.20,101.67 L426.45,101.42 L426.70,101.55 L426.95,101.43 L427.20,101.52 L427.44,101.46 L427.69,101.38 L427.94,101.38 L428.19,101.40 L428.44,101.64 L428.69,101.50 L428.93,101.40 L429.18,101.64 L429.43,101.67 L429.68,101.48 L429.93,101.37 L430.18,101.39 L430.43,101.36 L430.67,101.44 L430.92,101.36 L431.17,101.41 L431.42,101.42 L431.67,101.52 L431.92,101.64 L432.17,101.59 L432.41,101.47 L432.66,101.47 L432.91,101.51 L433.16,101.46 L433.41,101.44 L433.66,101.35 L433.90,101.42 L434.15,101.66 L434.40,101.37 L434.65,101.50 L434.90,101.55 L435.15,101.63 L435.40,101.40 L435.64,101.42 L435.89,101.41 L436.14,101.46 L436.39,101.48 L436.64,101.66 L436.89,101.62 L437.13,101.63 L437.38,101.33 L437.63,101.34 L437.88,101.57 L438.13,101.64 L438.38,101.49 L438.63,101.53 L438.87,101.33 L439.12,101.46 L439.37,101.65 L439.62,101.61 L439.87,101.62 L440.12,101.67 L440.37,101.41 L440.61,101.36 L440.86,101.38 L441.11,101.51 L441.36,101.56 L441.61,101.65 L441.86,101.58 L442.10,101.55 L442.35,101.59 L442.60,101.49 L442.85,101.52" stroke="#2E7EC1" stroke-width="1.1" fill="none" stroke-linejoin="round" stroke-linecap="round" />
<path d="M269.05,130.35 L269.30,130.31 L269.55,130.50 L269.79,130.40 L270.04,130.63 L270.29,130.69 L270.54,130.71 L270.79,130.96 L271.04,130.93 L271.28,131.15 L271.53,131.14 L271.78,131.22 L272.03,131.39 L272.28,131.56 L272.53,131.39 L272.77,131.45 L273.02,131.59 L273.27,131.70 L273.52,131.60 L273.77,131.56 L274.02,131.74 L274.26,131.46 L274.51,131.71 L274.76,131.54 L275.01,131.49 L275.26,131.48 L275.51,131.54 L275.75,131.69 L276.00,131.50 L276.25,131.62 L276.50,131.64 L276.75,131.56 L277.00,131.61 L277.24,131.47 L277.49,131.47 L277.74,131.51 L277.99,131.65 L278.24,131.58 L278.48,131.54 L278.73,131.63 L278.98,131.59 L279.23,131.54 L279.48,131.69 L279.73,131.66 L279.97,131.52 L280.22,131.62 L280.47,131.61 L280.72,131.71 L280.97,131.67 L281.22,131.54 L281.46,131.74 L281.71,131.49 L281.96,131.58 L282.21,131.68 L282.46,131.50 L282.71,131.60 L282.95,131.46 L283.20,131.65 L283.45,131.68 L283.70,131.62 L283.95,131.71 L284.20,131.54 L284.44,131.66 L284.69,131.63 L284.94,131.62 L285.19,131.59 L285.44,131.70 L285.69,131.73 L285.93,131.59 L286.18,131.65 L286.43,131.47 L286.68,131.66 L286.93,131.64 L287.17,131.75 L287.42,131.70 L287.67,131.53 L287.92,131.56 L288.17,131.65 L288.42,131.45 L288.66,131.56 L288.91,131.45 L289.16,131.38 L289.41,131.27 L289.66,131.34 L289.91,130.94 L290.15,130.70 L290.40,130.40 L290.65,130.16 L290.90,129.55 L291.15,129.34 L291.40,129.17 L291.64,129.22 L291.89,129.31 L292.14,129.57 L292.39,129.73 L292.64,130.16 L292.89,130.51 L293.13,130.99 L293.38,131.27 L293.63,131.21 L293.88,131.34 L294.13,131.43 L294.38,131.48 L294.62,131.58 L294.87,131.62 L295.12,131.53 L295.37,131.45 L295.62,131.58 L295.86,131.56 L296.11,131.62 L296.36,131.74 L296.61,131.66 L296.86,131.60 L297.11,131.64 L297.35,131.65 L297.60,131.47 L297.85,131.72 L298.10,131.68 L298.35,131.71 L298.60,131.69 L298.84,131.57 L299.09,131.57 L299.34,131.48 L299.59,131.64 L299.84,131.47 L300.09,131.47 L300.33,131.51 L300.58,131.50 L300.83,131.55 L301.08,131.47 L301.33,131.45 L301.58,131.50 L301.82,131.48 L302.07,131.56 L302.32,131.46 L302.57,131.71 L302.82,131.63 L303.07,131.49 L303.31,131.53 L303.56,131.55 L303.81,131.56 L304.06,131.49 L304.31,131.70 L304.55,131.75 L304.80,131.59 L305.05,131.60 L305.30,131.48 L305.55,131.48 L305.80,131.55 L306.04,131.53 L306.29,131.70 L306.54,131.50 L306.79,131.46 L307.04,131.74 L307.29,131.61 L307.53,131.49 L307.78,131.61 L308.03,131.46 L308.28,131.61 L308.53,131.74 L308.78,131.71 L309.02,131.66 L309.27,131.53 L309.52,131.56 L309.77,131.50 L310.02,131.68 L310.27,131.61 L310.51,131.68 L310.76,131.55 L311.01,131.52 L311.26,131.69 L311.51,131.75 L311.76,131.71 L312.00,131.69 L312.25,131.70 L312.50,131.67 L312.75,131.52 L313.00,131.61 L313.24,131.56 L313.49,131.46 L313.74,131.46 L313.99,131.53 L314.24,131.53 L314.49,131.66 L314.73,131.74 L314.98,131.58 L315.23,131.73 L315.48,131.75 L315.73,131.74 L315.98,131.56 L316.22,131.52 L316.47,131.52 L316.72,131.51 L316.97,131.51 L317.22,131.64 L317.47,131.72 L317.71,131.70 L317.96,131.59 L318.21,131.65 L318.46,131.69 L318.71,131.47 L318.96,131.64 L319.20,131.72 L319.45,131.67 L319.70,131.65 L319.95,131.55 L320.20,131.43 L320.45,131.58 L320.69,131.40 L320.94,131.50 L321.19,131.50 L321.44,131.29 L321.69,131.27 L321.93,131.44 L322.18,131.38 L322.43,131.25 L322.68,131.28 L322.93,131.33 L323.18,131.60 L323.42,131.61 L323.67,131.44 L323.92,131.67 L324.17,131.73 L324.42,131.64 L324.67,131.55 L324.91,131.61 L325.16,131.49 L325.41,131.45 L325.66,131.74 L325.91,131.64 L326.16,131.61 L326.40,131.73 L326.65,131.58 L326.90,131.71 L327.15,131.70 L327.40,131.51 L327.65,131.53 L327.89,131.54 L328.14,131.52 L328.39,131.63 L328.64,131.53 L328.89,131.58 L329.14,131.49 L329.38,131.72 L329.63,131.56 L329.88,131.59 L330.13,131.62 L330.38,131.71 L330.62,131.56 L330.87,131.69 L331.12,131.52 L331.37,131.45 L331.62,131.32 L331.87,131.01 L332.11,130.94 L332.36,130.68 L332.61,130.50 L332.86,130.69 L333.11,130.56 L333.36,130.78 L333.60,131.04 L333.85,131.18 L334.10,131.27 L334.35,131.45 L334.60,131.54 L334.85,131.65 L335.09,131.47 L335.34,131.61 L335.59,131.52 L335.84,131.53 L336.09,131.68 L336.34,131.60 L336.58,131.62 L336.83,131.68 L337.08,131.72 L337.33,131.58 L337.58,131.63 L337.83,131.60 L338.07,131.60 L338.32,131.66 L338.57,131.59 L338.82,131.61 L339.07,131.59 L339.31,131.73 L339.56,131.65 L339.81,131.70 L340.06,131.70 L340.31,131.47 L340.56,131.52 L340.80,131.58 L341.05,131.48 L341.30,131.18 L341.55,131.08 L341.80,131.09 L342.05,130.91 L342.29,130.93 L342.54,130.88 L342.79,131.09 L343.04,131.20 L343.29,131.32 L343.54,131.18 L343.78,131.44 L344.03,131.49 L344.28,131.37 L344.53,131.60 L344.78,131.57 L345.03,131.23 L345.27,131.25 L345.52,130.81 L345.77,130.50 L346.02,130.31 L346.27,130.01 L346.52,129.70 L346.76,129.85 L347.01,130.10 L347.26,130.37 L347.51,130.67 L347.76,131.01 L348.00,131.36 L348.25,131.29 L348.50,131.54 L348.75,131.55 L349.00,131.44 L349.25,131.55 L349.49,131.64 L349.74,131.60 L349.99,131.47 L350.24,131.75 L350.49,131.69 L350.74,131.74 L350.98,131.48 L351.23,131.53 L351.48,131.46 L351.73,131.68 L351.98,131.53 L352.23,131.49 L352.47,131.58 L352.72,131.72 L352.97,131.70 L353.22,131.53 L353.47,131.49 L353.72,131.73 L353.96,131.61 L354.21,131.60 L354.46,131.13 L354.71,130.06 L354.96,127.57 L355.21,123.08 L355.45,118.86 L355.70,118.38 L355.95,121.54 L356.20,126.24 L356.45,129.37 L356.69,131.13 L356.94,131.36 L357.19,131.69 L357.44,131.58 L357.69,131.55 L357.94,131.62 L358.18,131.73 L358.43,131.53 L358.68,131.49 L358.93,131.61 L359.18,131.52 L359.43,131.48 L359.67,131.50 L359.92,131.47 L360.17,131.51 L360.42,131.54 L360.67,131.54 L360.92,131.68 L361.16,131.54 L361.41,131.59 L361.66,131.45 L361.91,131.27 L362.16,130.34 L362.41,128.39 L362.65,125.14 L362.90,122.59 L363.15,122.30 L363.40,124.68 L363.65,128.02 L363.90,130.40 L364.14,131.13 L364.39,131.63 L364.64,131.57 L364.89,131.60 L365.14,131.70 L365.38,131.57 L365.63,131.60 L365.88,131.66 L366.13,131.74 L366.38,131.55 L366.63,131.70 L366.87,131.66 L367.12,131.64 L367.37,131.57 L367.62,131.55 L367.87,131.47 L368.12,131.49 L368.36,131.47 L368.61,131.67 L368.86,131.53 L369.11,131.50 L369.36,131.48 L369.61,131.70 L369.85,131.71 L370.10,131.65 L370.35,131.53 L370.60,131.52 L370.85,131.54 L371.10,131.59 L371.34,131.50 L371.59,131.58 L371.84,131.53 L372.09,131.74 L372.34,131.74 L372.59,131.61 L372.83,131.52 L373.08,131.69 L373.33,131.21 L373.58,130.00 L373.83,126.21 L374.07,119.01 L374.32,110.10 L374.57,105.34 L374.82,108.60 L375.07,117.33 L375.32,125.10 L375.56,129.51 L375.81,131.02 L376.06,131.50 L376.31,131.45 L376.56,131.46 L376.81,131.54 L377.05,131.52 L377.30,131.63 L377.55,131.61 L377.80,131.68 L378.05,131.65 L378.30,131.66 L378.54,131.71 L378.79,131.57 L379.04,131.55 L379.29,131.75 L379.54,131.49 L379.79,131.67 L380.03,131.64 L380.28,131.46 L380.53,131.70 L380.78,131.72 L381.03,131.64 L381.28,131.67 L381.52,131.69 L381.77,131.49 L382.02,131.61 L382.27,131.60 L382.52,131.70 L382.76,131.69 L383.01,131.70 L383.26,131.63 L383.51,131.72 L383.76,131.65 L384.01,131.66 L384.25,131.52 L384.50,131.46 L384.75,131.49 L385.00,131.56 L385.25,131.48 L385.50,131.70 L385.74,131.62 L385.99,131.64 L386.24,131.64 L386.49,131.65 L386.74,131.60 L386.99,131.45 L387.23,131.69 L387.48,131.67 L387.73,131.60 L387.98,131.61 L388.23,131.65 L388.48,131.47 L388.72,131.67 L388.97,131.53 L389.22,131.47 L389.47,131.53 L389.72,131.67 L389.97,131.51 L390.21,131.67 L390.46,131.74 L390.71,131.60 L390.96,131.56 L391.21,131.59 L391.45,131.66 L391.70,131.68 L391.95,131.64 L392.20,131.64 L392.45,131.47 L392.70,131.49 L392.94,131.53 L393.19,131.67 L393.44,131.54 L393.69,131.62 L393.94,131.45 L394.19,131.47 L394.43,131.53 L394.68,131.65 L394.93,131.66 L395.18,131.65 L395.43,131.54 L395.68,131.60 L395.92,131.59 L396.17,131.59 L396.42,131.49 L396.67,131.72 L396.92,131.51 L397.17,131.74 L397.41,131.73 L397.66,131.46 L397.91,131.59 L398.16,131.70 L398.41,131.74 L398.66,131.58 L398.90,131.53 L399.15,131.51 L399.40,131.73 L399.65,131.51 L399.90,131.62 L400.14,131.49 L400.39,131.61 L400.64,131.74 L400.89,131.49 L401.14,131.70 L401.39,131.60 L401.63,131.72 L401.88,131.66 L402.13,131.52 L402.38,131.72 L402.63,131.60 L402.88,131.46 L403.12,131.45 L403.37,131.60 L403.62,131.57 L403.87,131.46 L404.12,131.13 L404.37,130.37 L404.61,128.76 L404.86,127.03 L405.11,125.85 L405.36,126.88 L405.61,128.77 L405.86,130.21 L406.10,131.33 L406.35,131.58 L406.60,131.71 L406.85,131.54 L407.10,131.56 L407.35,131.57 L407.59,131.75 L407.84,131.63 L408.09,131.56 L408.34,131.58 L408.59,131.53 L408.83,131.46 L409.08,131.48 L409.33,131.70 L409.58,131.54 L409.83,131.73 L410.08,131.52 L410.32,131.53 L410.57,131.60 L410.82,131.51 L411.07,131.56 L411.32,131.74 L411.57,131.72 L411.81,131.69 L412.06,131.64 L412.31,131.72 L412.56,131.73 L412.81,131.61 L413.06,131.67 L413.30,131.46 L413.55,131.67 L413.80,131.59 L414.05,131.68 L414.30,131.64 L414.55,131.54 L414.79,131.46 L415.04,131.73 L415.29,131.49 L415.54,131.59 L415.79,131.55 L416.04,131.54 L416.28,131.67 L416.53,131.74 L416.78,131.53 L417.03,131.65 L417.28,131.54 L417.52,131.60 L417.77,131.54 L418.02,131.44 L418.27,131.39 L418.52,131.32 L418.77,131.43 L419.01,131.19 L419.26,131.00 L419.51,131.14 L419.76,131.15 L420.01,131.03 L420.26,131.03 L420.50,131.16 L420.75,131.24 L421.00,131.41 L421.25,131.40 L421.50,131.48 L421.75,131.51 L421.99,131.61 L422.24,131.71 L422.49,131.67 L422.74,131.57 L422.99,131.57 L423.24,131.61 L423.48,131.56 L423.73,131.55 L423.98,131.47 L424.23,131.53 L424.48,131.74 L424.73,131.49 L424.97,131.60 L425.22,131.64 L425.47,131.71 L425.72,131.51 L425.97,131.53 L426.21,131.52 L426.46,131.57 L426.71,131.58 L426.96,131.74 L427.21,131.70 L427.46,131.71 L427.70,131.46 L427.95,131.46 L428.20,131.66 L428.45,131.72 L428.70,131.59 L428.95,131.63 L429.19,131.45 L429.44,131.57 L429.69,131.73 L429.94,131.70 L430.19,131.71 L430.44,131.74 L430.68,131.52 L430.93,131.48 L431.18,131.50 L431.43,131.61 L431.68,131.65 L431.93,131.73 L432.17,131.67 L432.42,131.64 L432.67,131.68 L432.92,131.59 L433.17,131.62 L433.42,131.46 L433.66,131.68 L433.91,131.52 L434.16,131.73 L434.41,131.64 L434.66,131.54 L434.90,131.49 L435.15,131.53 L435.40,131.64 L435.65,131.66 L435.90,131.48 L436.15,131.47 L436.39,131.61 L436.64,131.62 L436.89,131.57 L437.14,131.52 L437.39,131.63 L437.64,131.45 L437.88,131.54 L438.13,131.59 L438.38,131.74 L438.63,131.64 L438.88,131.72 L439.13,131.59 L439.37,131.52 L439.62,131.52 L439.87,131.74 L440.12,131.66 L440.37,131.54 L440.62,131.46 L440.86,131.60 L441.11,131.65 L441.36,131.58 L441.61,131.53 L441.86,131.65 L442.11,131.73 L442.35,131.52 L442.60,131.46 L442.85,131.55" stroke="#F7A55D" stroke-width="1.1" fill="none" stroke-linejoin="round" stroke-linecap="round" />
<rect x="268.7" y="19.6" width="174.10000000000002" height="117.80000000000001" fill="none" stroke="#000" stroke-width="1.1"/>
<line x1="269.05" y1="137.40" x2="269.05" y2="139.00" stroke="#000" stroke-width="1" />
<line x1="282.80" y1="137.40" x2="282.80" y2="140.40" stroke="#000" stroke-width="1.1" />
<text x="282.80" y="147.90" font-size="8" text-anchor="middle" fill="#000" >10</text>
<line x1="296.55" y1="137.40" x2="296.55" y2="139.00" stroke="#000" stroke-width="1" />
<line x1="310.30" y1="137.40" x2="310.30" y2="140.40" stroke="#000" stroke-width="1.1" />
<text x="310.30" y="147.90" font-size="8" text-anchor="middle" fill="#000" >20</text>
<line x1="324.05" y1="137.40" x2="324.05" y2="139.00" stroke="#000" stroke-width="1" />
<line x1="337.80" y1="137.40" x2="337.80" y2="140.40" stroke="#000" stroke-width="1.1" />
<text x="337.80" y="147.90" font-size="8" text-anchor="middle" fill="#000" >30</text>
<line x1="351.55" y1="137.40" x2="351.55" y2="139.00" stroke="#000" stroke-width="1" />
<line x1="365.30" y1="137.40" x2="365.30" y2="140.40" stroke="#000" stroke-width="1.1" />
<text x="365.30" y="147.90" font-size="8" text-anchor="middle" fill="#000" >40</text>
<line x1="379.05" y1="137.40" x2="379.05" y2="139.00" stroke="#000" stroke-width="1" />
<line x1="392.80" y1="137.40" x2="392.80" y2="140.40" stroke="#000" stroke-width="1.1" />
<text x="392.80" y="147.90" font-size="8" text-anchor="middle" fill="#000" >50</text>
<line x1="406.55" y1="137.40" x2="406.55" y2="139.00" stroke="#000" stroke-width="1" />
<line x1="420.30" y1="137.40" x2="420.30" y2="140.40" stroke="#000" stroke-width="1.1" />
<text x="420.30" y="147.90" font-size="8" text-anchor="middle" fill="#000" >60</text>
<line x1="434.05" y1="137.40" x2="434.05" y2="139.00" stroke="#000" stroke-width="1" />
<text x="357.90" y="158.60" font-size="9.5" text-anchor="middle" fill="#000" >2θ (°)</text>
<text transform="translate(262.6,83.1) rotate(-90)" font-size="9.95" text-anchor="middle">Intensity (arb. units)</text>
<path d="M274,25.2 L275.8,27.2 L274,29.2 L272.2,27.2 Z" fill="#000"/>
<text x="280.00" y="29.80" font-size="7.05" text-anchor="start" fill="#000" >ZHA PDF# 56-0569</text>
<path d="M274,34.3 L276.0,37.5 L272.0,37.5 Z" fill="#000"/>
<rect x="273.5" y="36.3" width="1" height="2.2" fill="#000"/>
<text x="280.00" y="38.90" font-size="7.05" text-anchor="start" fill="#000" >ZHC PDF# 19-1458</text>
<path d="M274,43.5 L276.0,46.9 L272.0,46.9 Z" fill="#000"/>
<text x="280.00" y="48.10" font-size="7.05" text-anchor="start" fill="#000" >Zn PDF# 65-3358</text>
<path d="M355.1,29.6 L357.1,32.800000000000004 L353.1,32.800000000000004 Z" fill="#000"/>
<rect x="354.6" y="31.6" width="1" height="2.2" fill="#000"/>
<path d="M363,52.1 L365.0,55.300000000000004 L361.0,55.300000000000004 Z" fill="#000"/>
<rect x="362.5" y="54.1" width="1" height="2.2" fill="#000"/>
<path d="M374.6,43.3 L376.6,46.5 L372.6,46.5 Z" fill="#000"/>
<rect x="374.1" y="45.3" width="1" height="2.2" fill="#000"/>
<path d="M273.5,63.5 L275.3,65.5 L273.5,67.5 L271.7,65.5 Z" fill="#000"/>
<path d="M291.5,93.8 L293.3,95.8 L291.5,97.8 L289.7,95.8 Z" fill="#000"/>
<path d="M311.7,93.8 L313.5,95.8 L311.7,97.8 L309.9,95.8 Z" fill="#000"/>
<path d="M346.3,92.5 L348.1,94.5 L346.3,96.5 L344.5,94.5 Z" fill="#000"/>
<path d="M291.5,121.6 L293.5,124.8 L289.5,124.8 Z" fill="#000"/>
<rect x="291.0" y="123.6" width="1" height="2.2" fill="#000"/>
<path d="M332.7,122.8 L334.7,126.0 L330.7,126.0 Z" fill="#000"/>
<rect x="332.2" y="124.8" width="1" height="2.2" fill="#000"/>
<path d="M345.8,122.3 L347.8,125.5 L343.8,125.5 Z" fill="#000"/>
<rect x="345.3" y="124.3" width="1" height="2.2" fill="#000"/>
<text x="378.30" y="36.80" font-size="7.9" text-anchor="start" fill="#E0242B" >ZN<tspan font-size="5.37" dy="2.37">3</tspan><tspan dy="-2.37">A</tspan><tspan font-size="5.37" dy="2.37">5</tspan><tspan dy="-2.37">·10H</tspan><tspan font-size="5.37" dy="2.37">2</tspan><tspan dy="-2.37">O-EE</tspan></text>
<text x="386.20" y="82.30" font-size="7.9" text-anchor="start" fill="#2E7EC1" >ZN<tspan font-size="5.37" dy="2.37">3</tspan><tspan dy="-2.37">A</tspan><tspan font-size="5.37" dy="2.37">5</tspan><tspan dy="-2.37">·10H</tspan><tspan font-size="5.37" dy="2.37">2</tspan><tspan dy="-2.37">O</tspan></text>
<text x="393.00" y="119.80" font-size="7.8" text-anchor="start" fill="#F7A55D" >1Zn1Na</text>
<text x="459.20" y="16.00" font-size="14" text-anchor="start" fill="#000" >c</text>
<rect x="536.5" y="27" width="39" height="36.8" fill="#dde2e3"/>
<g filter="url(#pb)">
<circle cx="555" cy="45.5" r="17.3" fill="#33414f"/>
<circle cx="555.6" cy="46.6" r="14.4" fill="#cfd6da"/>
<ellipse cx="554.2" cy="41.2" rx="13.2" ry="11.6" fill="#2a3644"/>
<circle cx="557" cy="38.5" r="5" fill="#151d27"/>
<circle cx="549" cy="44" r="3.2" fill="#3d5164"/>
<circle cx="560" cy="45" r="2.6" fill="#46596b"/>
<circle cx="545" cy="35" r="2.2" fill="#4f6477"/>
<path d="M540.5,50 Q544,59 553,61.8" stroke="#2f3d4b" stroke-width="1.6" fill="none"/>
</g>
<rect x="534.40" y="24.80" width="2.2" height="2.2" fill="#5A9BD5"/>
<rect x="534.40" y="63.70" width="2.2" height="2.2" fill="#5A9BD5"/>
<rect x="538.96" y="24.80" width="2.2" height="2.2" fill="#5A9BD5"/>
<rect x="538.96" y="63.70" width="2.2" height="2.2" fill="#5A9BD5"/>
<rect x="543.51" y="24.80" width="2.2" height="2.2" fill="#5A9BD5"/>
<rect x="543.51" y="63.70" width="2.2" height="2.2" fill="#5A9BD5"/>
<rect x="548.07" y="24.80" width="2.2" height="2.2" fill="#5A9BD5"/>
<rect x="548.07" y="63.70" width="2.2" height="2.2" fill="#5A9BD5"/>
<rect x="552.62" y="24.80" width="2.2" height="2.2" fill="#5A9BD5"/>
<rect x="552.62" y="63.70" width="2.2" height="2.2" fill="#5A9BD5"/>
<rect x="557.18" y="24.80" width="2.2" height="2.2" fill="#5A9BD5"/>
<rect x="557.18" y="63.70" width="2.2" height="2.2" fill="#5A9BD5"/>
<rect x="561.73" y="24.80" width="2.2" height="2.2" fill="#5A9BD5"/>
<rect x="561.73" y="63.70" width="2.2" height="2.2" fill="#5A9BD5"/>
<rect x="566.29" y="24.80" width="2.2" height="2.2" fill="#5A9BD5"/>
<rect x="566.29" y="63.70" width="2.2" height="2.2" fill="#5A9BD5"/>
<rect x="570.84" y="24.80" width="2.2" height="2.2" fill="#5A9BD5"/>
<rect x="570.84" y="63.70" width="2.2" height="2.2" fill="#5A9BD5"/>
<rect x="575.40" y="24.80" width="2.2" height="2.2" fill="#5A9BD5"/>
<rect x="575.40" y="63.70" width="2.2" height="2.2" fill="#5A9BD5"/>
<rect x="534.40" y="29.12" width="2.2" height="2.2" fill="#5A9BD5"/>
<rect x="575.40" y="29.12" width="2.2" height="2.2" fill="#5A9BD5"/>
<rect x="534.40" y="33.44" width="2.2" height="2.2" fill="#5A9BD5"/>
<rect x="575.40" y="33.44" width="2.2" height="2.2" fill="#5A9BD5"/>
<rect x="534.40" y="37.77" width="2.2" height="2.2" fill="#5A9BD5"/>
<rect x="575.40" y="37.77" width="2.2" height="2.2" fill="#5A9BD5"/>
<rect x="534.40" y="42.09" width="2.2" height="2.2" fill="#5A9BD5"/>
<rect x="575.40" y="42.09" width="2.2" height="2.2" fill="#5A9BD5"/>
<rect x="534.40" y="46.41" width="2.2" height="2.2" fill="#5A9BD5"/>
<rect x="575.40" y="46.41" width="2.2" height="2.2" fill="#5A9BD5"/>
<rect x="534.40" y="50.73" width="2.2" height="2.2" fill="#5A9BD5"/>
<rect x="575.40" y="50.73" width="2.2" height="2.2" fill="#5A9BD5"/>
<rect x="534.40" y="55.06" width="2.2" height="2.2" fill="#5A9BD5"/>
<rect x="575.40" y="55.06" width="2.2" height="2.2" fill="#5A9BD5"/>
<rect x="534.40" y="59.38" width="2.2" height="2.2" fill="#5A9BD5"/>
<rect x="575.40" y="59.38" width="2.2" height="2.2" fill="#5A9BD5"/>
<rect x="593" y="26.6" width="39.3" height="36.2" fill="#b9bec1"/>
<g filter="url(#pb)">
<ellipse cx="613.1" cy="44.3" rx="17.3" ry="16.5" fill="#46515c"/>
<ellipse cx="613.8" cy="43.4" rx="15.0" ry="14.3" fill="#dadee1"/>
<path d="M599.5,47 Q601,55 609,58.5 Q617,60.5 622,57 Q620,54.5 616,55 Q612,53 609,50.5 Q604,47.5 599.5,47 Z" fill="#56616c"/>
<path d="M598,38 Q597.3,46 600.5,52" stroke="#98a2a8" stroke-width="1.5" fill="none"/>
<path d="M621,54 Q625,52 627,48" stroke="#6a7580" stroke-width="1.3" fill="none"/>
</g>
<rect x="591.10" y="24.70" width="2.2" height="2.2" fill="#D42A2A"/>
<rect x="591.10" y="62.50" width="2.2" height="2.2" fill="#D42A2A"/>
<rect x="595.64" y="24.70" width="2.2" height="2.2" fill="#D42A2A"/>
<rect x="595.64" y="62.50" width="2.2" height="2.2" fill="#D42A2A"/>
<rect x="600.19" y="24.70" width="2.2" height="2.2" fill="#D42A2A"/>
<rect x="600.19" y="62.50" width="2.2" height="2.2" fill="#D42A2A"/>
<rect x="604.73" y="24.70" width="2.2" height="2.2" fill="#D42A2A"/>
<rect x="604.73" y="62.50" width="2.2" height="2.2" fill="#D42A2A"/>
<rect x="609.28" y="24.70" width="2.2" height="2.2" fill="#D42A2A"/>
<rect x="609.28" y="62.50" width="2.2" height="2.2" fill="#D42A2A"/>
<rect x="613.82" y="24.70" width="2.2" height="2.2" fill="#D42A2A"/>
<rect x="613.82" y="62.50" width="2.2" height="2.2" fill="#D42A2A"/>
<rect x="618.37" y="24.70" width="2.2" height="2.2" fill="#D42A2A"/>
<rect x="618.37" y="62.50" width="2.2" height="2.2" fill="#D42A2A"/>
<rect x="622.91" y="24.70" width="2.2" height="2.2" fill="#D42A2A"/>
<rect x="622.91" y="62.50" width="2.2" height="2.2" fill="#D42A2A"/>
<rect x="627.46" y="24.70" width="2.2" height="2.2" fill="#D42A2A"/>
<rect x="627.46" y="62.50" width="2.2" height="2.2" fill="#D42A2A"/>
<rect x="632.00" y="24.70" width="2.2" height="2.2" fill="#D42A2A"/>
<rect x="632.00" y="62.50" width="2.2" height="2.2" fill="#D42A2A"/>
<rect x="591.10" y="29.42" width="2.2" height="2.2" fill="#D42A2A"/>
<rect x="632.00" y="29.42" width="2.2" height="2.2" fill="#D42A2A"/>
<rect x="591.10" y="34.15" width="2.2" height="2.2" fill="#D42A2A"/>
<rect x="632.00" y="34.15" width="2.2" height="2.2" fill="#D42A2A"/>
<rect x="591.10" y="38.88" width="2.2" height="2.2" fill="#D42A2A"/>
<rect x="632.00" y="38.88" width="2.2" height="2.2" fill="#D42A2A"/>
<rect x="591.10" y="43.60" width="2.2" height="2.2" fill="#D42A2A"/>
<rect x="632.00" y="43.60" width="2.2" height="2.2" fill="#D42A2A"/>
<rect x="591.10" y="48.32" width="2.2" height="2.2" fill="#D42A2A"/>
<rect x="632.00" y="48.32" width="2.2" height="2.2" fill="#D42A2A"/>
<rect x="591.10" y="53.05" width="2.2" height="2.2" fill="#D42A2A"/>
<rect x="632.00" y="53.05" width="2.2" height="2.2" fill="#D42A2A"/>
<rect x="591.10" y="57.77" width="2.2" height="2.2" fill="#D42A2A"/>
<rect x="632.00" y="57.77" width="2.2" height="2.2" fill="#D42A2A"/>
<path d="M497.60,70.08 L497.65,70.22 L497.69,70.42 L497.73,70.66 L497.79,70.92 L497.89,71.17 L498.05,71.40 L498.29,71.58 L498.62,71.69 L499.00,71.72 L499.39,71.71 L499.82,71.64 L500.33,71.55 L500.95,71.45 L501.69,71.34 L502.60,71.23 L503.71,71.15 L505.01,71.08 L506.48,71.01 L508.11,70.93 L509.87,70.85 L511.76,70.78 L513.74,70.71 L515.81,70.66 L517.95,70.61 L520.20,70.59 L522.61,70.56 L525.13,70.55 L527.74,70.55 L530.40,70.55 L533.07,70.56 L535.71,70.59 L538.30,70.61 L540.84,70.65 L543.39,70.70 L545.93,70.75 L548.47,70.82 L551.02,70.89 L553.56,70.97 L556.11,71.06 L558.65,71.15 L561.26,71.26 L563.98,71.38 L566.73,71.52 L569.46,71.66 L572.11,71.80 L574.63,71.94 L576.94,72.09 L579.00,72.23 L580.76,72.36 L582.26,72.49 L583.56,72.63 L584.72,72.76 L585.81,72.90 L586.87,73.03 L587.97,73.17 L589.17,73.30 L590.46,73.43 L591.77,73.56 L593.08,73.68 L594.39,73.80 L595.68,73.93 L596.95,74.07 L598.18,74.21 L599.35,74.37 L600.49,74.55 L601.62,74.75 L602.73,74.96 L603.80,75.18 L604.83,75.40 L605.79,75.61 L606.68,75.81 L607.49,75.98 L608.21,76.14 L608.85,76.28 L609.42,76.40 L609.93,76.52 L610.39,76.64 L610.81,76.77 L611.20,76.90 L611.56,77.06 L611.87,77.22 L612.12,77.39 L612.31,77.55 L612.48,77.73 L612.63,77.92 L612.78,78.14 L612.96,78.39 L613.19,78.67 L613.44,79.00 L613.70,79.39 L613.97,79.81 L614.26,80.25 L614.56,80.69 L614.89,81.12 L615.24,81.53 L615.63,81.89 L616.03,82.22 L616.44,82.53 L616.86,82.82 L617.31,83.10 L617.80,83.36 L618.36,83.60 L618.99,83.83 L619.70,84.04 L620.54,84.22 L621.50,84.36 L622.54,84.47 L623.64,84.58 L624.76,84.68 L625.85,84.80 L626.89,84.94 L627.84,85.11 L628.70,85.32 L629.51,85.53 L630.28,85.75 L631.02,85.99 L631.75,86.25 L632.47,86.55 L633.20,86.88 L633.95,87.26 L634.73,87.71 L635.56,88.24 L636.40,88.81 L637.23,89.41 L638.03,90.01 L638.78,90.58 L639.46,91.11 L640.05,91.56 L640.55,91.94 L640.98,92.30 L641.34,92.62 L641.65,92.90 L641.92,93.15 L642.14,93.37 L642.33,93.55 L642.49,93.71" stroke="#E0242B" stroke-width="1.2" fill="none" stroke-linejoin="round" stroke-linecap="round" />
<path d="M497.60,69.54 L497.63,70.07 L497.67,70.82 L497.72,71.72 L497.78,72.70 L497.84,73.68 L497.90,74.60 L497.95,75.39 L498.01,75.98 L498.06,76.42 L498.11,76.77 L498.16,77.04 L498.21,77.23 L498.26,77.32 L498.31,77.33 L498.36,77.24 L498.41,77.06 L498.46,76.71 L498.51,76.17 L498.55,75.49 L498.59,74.74 L498.64,73.98 L498.69,73.27 L498.75,72.66 L498.82,72.23 L498.89,71.94 L498.97,71.75 L499.04,71.64 L499.13,71.59 L499.22,71.58 L499.34,71.61 L499.47,71.65 L499.64,71.69 L499.73,71.74 L499.72,71.83 L499.68,71.95 L499.69,72.09 L499.81,72.25 L500.13,72.42 L500.73,72.59 L501.67,72.76 L503.00,72.94 L504.64,73.12 L506.55,73.30 L508.67,73.50 L510.92,73.71 L513.26,73.92 L515.62,74.14 L517.95,74.37 L520.30,74.61 L522.75,74.86 L525.28,75.12 L527.87,75.38 L530.49,75.65 L533.12,75.93 L535.73,76.22 L538.30,76.52 L540.91,76.84 L543.63,77.17 L546.38,77.51 L549.11,77.86 L551.76,78.22 L554.28,78.56 L556.59,78.89 L558.65,79.21 L560.42,79.49 L561.96,79.76 L563.30,80.00 L564.50,80.25 L565.61,80.49 L566.66,80.76 L567.72,81.04 L568.83,81.35 L569.95,81.70 L571.05,82.06 L572.12,82.44 L573.15,82.83 L574.15,83.24 L575.12,83.67 L576.06,84.12 L576.97,84.58 L577.84,85.06 L578.68,85.58 L579.49,86.11 L580.27,86.66 L581.02,87.21 L581.73,87.77 L582.42,88.33 L583.07,88.87 L583.68,89.42 L584.25,89.97 L584.79,90.53 L585.30,91.09 L585.78,91.64 L586.24,92.17 L586.69,92.68 L587.14,93.17 L587.58,93.64 L588.02,94.11 L588.45,94.57 L588.86,95.01 L589.24,95.43 L589.60,95.80 L589.92,96.12 L590.19,96.39 L590.42,96.59 L590.61,96.73 L590.77,96.81 L590.89,96.86 L590.99,96.88 L591.07,96.89 L591.15,96.90 L591.21,96.93" stroke="#2E7EC1" stroke-width="1.2" fill="none" stroke-linejoin="round" stroke-linecap="round" />
<line x1="665.10" y1="20.60" x2="665.10" y2="137.00" stroke="#3A9EB2" stroke-width="1.0" stroke-dasharray="1.7,1.0"/>
<text transform="translate(660.4,63.7) rotate(-90)" font-size="7.8" text-anchor="middle" fill="#1E93A8">100% Zinc utilization</text>
<line x1="497.50" y1="137.00" x2="671.30" y2="137.00" stroke="#000" stroke-width="1.1" />
<line x1="497.50" y1="19.60" x2="497.50" y2="137.00" stroke="#000" stroke-width="1.1" />
<line x1="671.30" y1="19.60" x2="671.30" y2="137.00" stroke="#000" stroke-width="1.1" />
<line x1="497.50" y1="19.60" x2="671.30" y2="19.60" stroke="#337F7B" stroke-width="1.1" />
<line x1="494.50" y1="127.00" x2="497.50" y2="127.00" stroke="#000" stroke-width="1.1" />
<text x="493.50" y="130.00" font-size="8.4" text-anchor="end" fill="#000" >0.0</text>
<line x1="495.90" y1="113.58" x2="497.50" y2="113.58" stroke="#000" stroke-width="1" />
<line x1="494.50" y1="100.15" x2="497.50" y2="100.15" stroke="#000" stroke-width="1.1" />
<text x="493.50" y="103.15" font-size="8.4" text-anchor="end" fill="#000" >0.5</text>
<line x1="495.90" y1="86.72" x2="497.50" y2="86.72" stroke="#000" stroke-width="1" />
<line x1="494.50" y1="73.30" x2="497.50" y2="73.30" stroke="#000" stroke-width="1.1" />
<text x="493.50" y="76.30" font-size="8.4" text-anchor="end" fill="#000" >1.0</text>
<line x1="495.90" y1="59.88" x2="497.50" y2="59.88" stroke="#000" stroke-width="1" />
<line x1="494.50" y1="46.45" x2="497.50" y2="46.45" stroke="#000" stroke-width="1.1" />
<text x="493.50" y="49.45" font-size="8.4" text-anchor="end" fill="#000" >1.5</text>
<line x1="495.90" y1="33.02" x2="497.50" y2="33.02" stroke="#000" stroke-width="1" />
<line x1="494.50" y1="19.60" x2="497.50" y2="19.60" stroke="#000" stroke-width="1.1" />
<text x="493.50" y="22.60" font-size="8.4" text-anchor="end" fill="#000" >2.0</text>
<line x1="495.90" y1="135.06" x2="497.50" y2="135.06" stroke="#000" stroke-width="1" />
<line x1="497.60" y1="137.00" x2="497.60" y2="140.00" stroke="#000" stroke-width="1.1" />
<text x="497.60" y="147.60" font-size="8" text-anchor="middle" fill="#000" >0</text>
<line x1="517.95" y1="137.00" x2="517.95" y2="138.60" stroke="#000" stroke-width="1" />
<line x1="538.30" y1="137.00" x2="538.30" y2="140.00" stroke="#000" stroke-width="1.1" />
<text x="538.30" y="147.60" font-size="8" text-anchor="middle" fill="#000" >200</text>
<line x1="558.65" y1="137.00" x2="558.65" y2="138.60" stroke="#000" stroke-width="1" />
<line x1="579.00" y1="137.00" x2="579.00" y2="140.00" stroke="#000" stroke-width="1.1" />
<text x="579.00" y="147.60" font-size="8" text-anchor="middle" fill="#000" >400</text>
<line x1="599.35" y1="137.00" x2="599.35" y2="138.60" stroke="#000" stroke-width="1" />
<line x1="619.70" y1="137.00" x2="619.70" y2="140.00" stroke="#000" stroke-width="1.1" />
<text x="619.70" y="147.60" font-size="8" text-anchor="middle" fill="#000" >600</text>
<line x1="640.05" y1="137.00" x2="640.05" y2="138.60" stroke="#000" stroke-width="1" />
<line x1="660.40" y1="137.00" x2="660.40" y2="140.00" stroke="#000" stroke-width="1.1" />
<text x="660.40" y="147.60" font-size="8" text-anchor="middle" fill="#000" >800</text>
<line x1="497.30" y1="19.60" x2="497.30" y2="22.00" stroke="#337F7B" stroke-width="1.1" />
<text x="497.30" y="15.80" font-size="7.4" text-anchor="middle" fill="#337F7B" >0</text>
<line x1="513.93" y1="19.60" x2="513.93" y2="21.00" stroke="#337F7B" stroke-width="1" />
<line x1="530.56" y1="19.60" x2="530.56" y2="22.00" stroke="#337F7B" stroke-width="1.1" />
<text x="530.56" y="15.80" font-size="7.4" text-anchor="middle" fill="#337F7B" >20</text>
<line x1="547.19" y1="19.60" x2="547.19" y2="21.00" stroke="#337F7B" stroke-width="1" />
<line x1="563.82" y1="19.60" x2="563.82" y2="22.00" stroke="#337F7B" stroke-width="1.1" />
<text x="563.82" y="15.80" font-size="7.4" text-anchor="middle" fill="#337F7B" >40</text>
<line x1="580.45" y1="19.60" x2="580.45" y2="21.00" stroke="#337F7B" stroke-width="1" />
<line x1="597.08" y1="19.60" x2="597.08" y2="22.00" stroke="#337F7B" stroke-width="1.1" />
<text x="597.08" y="15.80" font-size="7.4" text-anchor="middle" fill="#337F7B" >60</text>
<line x1="613.71" y1="19.60" x2="613.71" y2="21.00" stroke="#337F7B" stroke-width="1" />
<line x1="630.34" y1="19.60" x2="630.34" y2="22.00" stroke="#337F7B" stroke-width="1.1" />
<text x="630.34" y="15.80" font-size="7.4" text-anchor="middle" fill="#337F7B" >80</text>
<line x1="646.97" y1="19.60" x2="646.97" y2="21.00" stroke="#337F7B" stroke-width="1" />
<line x1="663.60" y1="19.60" x2="663.60" y2="22.00" stroke="#337F7B" stroke-width="1.1" />
<text x="663.60" y="15.80" font-size="7.4" text-anchor="middle" fill="#337F7B" >100</text>
<text x="584.30" y="6.90" font-size="8.5" text-anchor="middle" fill="#337F7B" >Zinc utilization (%)</text>
<text x="524.50" y="158.00" font-size="9.5" text-anchor="start" fill="#000" >Specific capacity (mAh g<tspan font-size="6.3" dy="-3.8">-1</tspan><tspan dy="3.8">)</tspan></text>
<text transform="translate(480.2,77.8) rotate(-90)" font-size="9.4" text-anchor="middle">Voltage (V)</text>
<line x1="505.60" y1="113.10" x2="523.30" y2="113.10" stroke="#E0242B" stroke-width="1.3" />
<line x1="505.60" y1="125.70" x2="523.30" y2="125.70" stroke="#2E7EC1" stroke-width="1.3" />
<text x="526.20" y="116.40" font-size="8.45" text-anchor="start" fill="#E0242B" >ZA<tspan font-size="5.75" dy="2.53">3</tspan><tspan dy="-2.53">N</tspan><tspan font-size="5.75" dy="2.53">5</tspan><tspan dy="-2.53">·10H</tspan><tspan font-size="5.75" dy="2.53">2</tspan><tspan dy="-2.53">O-EE</tspan></text>
<text x="526.20" y="128.80" font-size="8.45" text-anchor="start" fill="#2E7EC1" >ZA<tspan font-size="5.75" dy="2.53">3</tspan><tspan dy="-2.53">N</tspan><tspan font-size="5.75" dy="2.53">5</tspan><tspan dy="-2.53">·10H</tspan><tspan font-size="5.75" dy="2.53">2</tspan><tspan dy="-2.53">O</tspan></text>
<text x="599.80" y="128.00" font-size="8.3" text-anchor="start" fill="#000" >0.5 mA cm<tspan font-size="5.4" dy="-3.3">-2</tspan></text>
<text x="0.00" y="186.70" font-size="14" text-anchor="start" fill="#000" >d</text>
<path d="M44.10,254.62 L44.23,254.65 L44.35,254.76 L44.48,254.93 L44.61,255.18 L44.73,255.49 L44.86,255.88 L44.98,256.33 L45.11,256.86 L45.24,257.45 L45.36,258.12 L45.49,258.85 L45.62,259.66 L45.74,260.53 L45.87,261.48 L45.99,262.49 L46.12,263.58 L46.25,264.73 L46.37,265.95 L46.50,267.25 L46.63,268.61 L46.75,270.05 L46.88,266.80 L47.00,263.31 L47.13,260.23 L47.26,257.41 L47.38,254.77 L47.51,252.29 L47.64,249.95 L47.76,247.73 L47.89,245.64 L48.01,243.67 L48.14,241.81 L48.27,240.08 L48.39,238.46 L48.52,236.97 L48.65,235.59 L48.77,234.34 L48.90,233.21 L49.02,232.21 L49.15,231.33 L49.28,230.58 L49.40,229.96 L49.53,229.47 L49.66,229.10 L49.78,228.87 L49.91,228.78 L50.03,232.64 L50.16,236.37 L50.29,239.66 L50.41,242.67 L50.54,245.49 L50.67,248.15 L50.79,250.65 L50.92,253.02 L51.04,255.26 L51.17,257.36 L51.30,259.35 L51.42,261.20 L51.55,262.93 L51.68,264.53 L51.80,266.00 L51.93,267.34 L52.05,268.54 L52.18,269.62 L52.31,270.56 L52.43,271.36 L52.56,272.02 L52.69,272.55 L52.81,272.93 L52.94,273.18 L53.06,273.28 L53.19,269.27 L53.32,265.38 L53.44,261.96 L53.57,258.83 L53.70,255.89 L53.82,253.13 L53.95,250.53 L54.07,248.06 L54.20,245.74 L54.33,243.54 L54.45,241.48 L54.58,239.55 L54.71,237.75 L54.83,236.09 L54.96,234.56 L55.08,233.17 L55.21,231.91 L55.34,230.80 L55.46,229.82 L55.59,228.99 L55.72,228.29 L55.84,227.75 L55.97,227.35 L56.09,227.09 L56.22,226.98 L56.35,231.12 L56.47,235.13 L56.60,238.65 L56.73,241.89 L56.85,244.91 L56.98,247.76 L57.10,250.44 L57.23,252.98 L57.36,255.38 L57.48,257.64 L57.61,259.77 L57.74,261.76 L57.86,263.61 L57.99,265.33 L58.11,266.91 L58.24,268.34 L58.37,269.64 L58.49,270.79 L58.62,271.79 L58.75,272.65 L58.87,273.37 L59.00,273.93 L59.12,274.34 L59.25,274.61 L59.38,274.72 L59.50,270.27 L59.63,265.96 L59.76,262.17 L59.88,258.69 L60.01,255.44 L60.14,252.38 L60.26,249.49 L60.39,246.76 L60.51,244.18 L60.64,241.75 L60.77,239.47 L60.89,237.33 L61.02,235.33 L61.15,233.49 L61.27,231.79 L61.40,230.25 L61.52,228.86 L61.65,227.62 L61.78,226.54 L61.90,225.61 L62.03,224.85 L62.16,224.24 L62.28,223.80 L62.41,223.51 L62.53,223.39 L62.66,227.90 L62.79,232.27 L62.91,236.11 L63.04,239.64 L63.17,242.94 L63.29,246.04 L63.42,248.97 L63.54,251.74 L63.67,254.36 L63.80,256.82 L63.92,259.14 L64.05,261.31 L64.18,263.33 L64.30,265.20 L64.43,266.92 L64.55,268.48 L64.68,269.90 L64.81,271.15 L64.93,272.25 L65.06,273.18 L65.19,273.96 L65.31,274.57 L65.44,275.03 L65.56,275.31 L65.69,275.44 L65.82,268.90 L65.94,262.57 L66.07,257.01 L66.20,251.90 L66.32,247.13 L66.45,242.63 L66.57,238.39 L66.70,234.38 L66.83,230.59 L66.95,227.02 L67.08,223.66 L67.21,220.52 L67.33,217.60 L67.46,214.89 L67.58,212.40 L67.71,210.13 L67.84,208.09 L67.96,206.27 L68.09,204.68 L68.22,203.32 L68.34,202.20 L68.47,201.31 L68.59,200.65 L68.72,200.24 L68.85,200.06 L68.97,206.60 L69.10,212.92 L69.23,275.44 L69.35,275.44 L69.48,275.44 L69.60,275.44 L69.73,275.44 L69.86,275.44 L69.98,275.44 L70.11,275.44 L70.24,275.44 L70.36,275.44 L70.49,275.44 L70.61,275.44 L70.74,275.44 L70.87,275.44 L70.99,275.44 L71.12,275.44 L71.25,275.44 L71.37,275.44 L71.50,275.44 L71.62,275.44 L71.75,275.44 L71.88,275.44 L72.00,275.44 L72.13,275.44 L72.26,275.44 L72.38,275.44 L72.51,275.44 L72.63,275.44 L72.76,275.44 L72.89,275.44 L73.01,275.44 L73.14,275.44" stroke="#F7A55D" stroke-width="1.2" fill="none" stroke-linejoin="round" stroke-linecap="round" />
<path d="M44.10,257.49 L44.23,257.73 L44.35,257.97 L44.48,258.20 L44.61,258.44 L44.73,258.67 L44.86,258.91 L44.98,259.15 L45.11,259.38 L45.24,259.62 L45.36,259.86 L45.49,260.09 L45.62,260.33 L45.74,260.57 L45.87,260.80 L45.99,261.04 L46.12,261.28 L46.25,261.51 L46.37,261.75 L46.50,261.99 L46.63,262.22 L46.75,262.46 L46.88,261.57 L47.00,259.82 L47.13,258.24 L47.26,256.76 L47.38,255.36 L47.51,254.03 L47.64,252.76 L47.76,251.56 L47.89,250.41 L48.02,249.32 L48.14,248.30 L48.27,247.33 L48.39,246.43 L48.52,245.59 L48.65,244.82 L48.77,244.12 L48.90,243.48 L49.03,242.92 L49.15,242.42 L49.28,242.00 L49.40,241.65 L49.53,241.37 L49.66,241.16 L49.78,241.04 L49.91,240.98 L50.04,241.00 L50.16,241.09 L50.29,241.26 L50.41,241.51 L50.54,241.82 L50.67,242.21 L50.79,242.67 L50.92,243.21 L51.05,243.81 L51.17,244.48 L51.30,245.22 L51.42,246.02 L51.55,246.89 L51.68,247.83 L51.80,248.83 L51.93,249.88 L52.06,251.00 L52.18,252.18 L52.31,253.42 L52.44,254.72 L52.56,256.09 L52.69,257.53 L52.81,259.06 L52.94,260.71 L53.07,262.62 L53.19,261.41 L53.32,259.53 L53.45,257.82 L53.57,256.22 L53.70,254.71 L53.82,253.27 L53.95,251.90 L54.08,250.60 L54.20,249.36 L54.33,248.18 L54.46,247.08 L54.58,246.04 L54.71,245.06 L54.83,244.16 L54.96,243.33 L55.09,242.57 L55.21,241.88 L55.34,241.27 L55.47,240.74 L55.59,240.28 L55.72,239.90 L55.85,239.60 L55.97,239.38 L56.10,239.24 L56.22,239.19 L56.35,239.21 L56.48,239.31 L56.60,239.49 L56.73,239.76 L56.86,240.10 L56.98,240.52 L57.11,241.02 L57.23,241.60 L57.36,242.25 L57.49,242.98 L57.61,243.78 L57.74,244.65 L57.87,245.59 L57.99,246.60 L58.12,247.68 L58.24,248.82 L58.37,250.03 L58.50,251.31 L58.62,252.65 L58.75,254.05 L58.88,255.53 L59.00,257.09 L59.13,258.74 L59.26,260.53 L59.38,262.61 L59.51,261.30 L59.63,259.34 L59.76,257.55 L59.89,255.89 L60.01,254.31 L60.14,252.81 L60.27,251.38 L60.39,250.01 L60.52,248.72 L60.64,247.50 L60.77,246.34 L60.90,245.25 L61.02,244.24 L61.15,243.29 L61.28,242.43 L61.40,241.63 L61.53,240.92 L61.65,240.28 L61.78,239.72 L61.91,239.25 L62.03,238.85 L62.16,238.54 L62.29,238.31 L62.41,238.17 L62.54,238.11 L62.66,238.13 L62.79,238.24 L62.92,238.43 L63.04,238.71 L63.17,239.07 L63.30,239.51 L63.42,240.03 L63.55,240.64 L63.68,241.32 L63.80,242.08 L63.93,242.92 L64.05,243.83 L64.18,244.81 L64.31,245.87 L64.43,247.00 L64.56,248.19 L64.69,249.46 L64.81,250.79 L64.94,252.19 L65.06,253.66 L65.19,255.21 L65.32,256.83 L65.44,258.56 L65.57,260.43 L65.70,262.61 L65.82,261.21 L65.95,259.20 L66.07,257.37 L66.20,255.66 L66.33,254.03 L66.45,252.49 L66.58,251.02 L66.71,249.62 L66.83,248.29 L66.96,247.03 L67.09,245.84 L67.21,244.72 L67.34,243.68 L67.46,242.71 L67.59,241.82 L67.72,241.01 L67.84,240.27 L67.97,239.62 L68.10,239.04 L68.22,238.56 L68.35,238.15 L68.47,237.83 L68.60,237.60 L68.73,237.45 L68.85,237.39 L68.98,237.42 L69.11,237.53 L69.23,237.73 L69.36,238.01 L69.48,238.38 L69.61,238.84 L69.74,239.38 L69.86,240.00 L69.99,240.70 L70.12,241.49 L70.24,242.35 L70.37,243.29 L70.50,244.30 L70.62,245.39 L70.75,246.55 L70.87,247.78 L71.00,249.08 L71.13,250.45 L71.25,251.89 L71.38,253.41 L71.51,255.00 L71.63,256.67 L71.76,258.45 L71.88,260.38 L72.01,262.63 L72.14,263.89 L72.26,263.69 L72.39,263.37 L72.52,262.95 L72.64,262.42 L72.77,261.80 L72.89,261.09 L73.02,260.28 L73.15,259.40 L73.27,258.42 L73.40,257.37 L73.53,256.23 L73.65,255.01 L73.78,253.71 L73.91,252.34 L74.03,250.89 L74.16,249.37 L74.28,247.77 L74.41,246.10 L74.54,244.35 L74.66,242.53 L74.79,240.64 L74.92,238.68 L75.04,236.65 L75.17,234.56 L75.29,242.00 L75.42,247.90 L75.55,252.84 L75.67,257.28 L75.80,261.37 L75.93,265.22 L76.05,266.83 L76.18,266.83 L76.30,266.83 L76.43,266.83 L76.56,266.83 L76.68,266.83 L76.81,266.83 L76.94,266.83 L77.06,266.83 L77.19,266.83 L77.31,266.83 L77.44,266.83 L77.57,266.83 L77.69,266.83 L77.82,266.83 L77.95,266.83 L78.07,266.83 L78.20,266.83 L78.33,266.83 L78.45,266.75 L78.58,266.52 L78.70,266.15 L78.83,265.65 L78.96,265.04 L79.08,264.33 L79.21,263.50 L79.34,262.57 L79.46,261.54 L79.59,260.41 L79.71,259.19 L79.84,257.87 L79.97,256.46 L80.09,254.96 L80.22,253.37 L80.35,251.70 L80.47,249.93 L80.60,248.08 L80.72,246.14 L80.85,244.12 L80.98,242.02 L81.10,239.84 L81.23,237.57 L81.36,235.22 L81.48,232.79 L81.61,241.16 L81.74,247.69 L81.86,253.17 L81.99,258.08 L82.11,262.62 L82.24,266.89 L82.37,268.62 L82.49,268.62 L82.62,268.62 L82.75,268.62 L82.87,268.62 L83.00,268.62 L83.12,268.62 L83.25,268.62 L83.38,268.62 L83.50,268.62 L83.63,268.62 L83.76,268.62 L83.88,268.62 L84.01,268.62 L84.13,268.62 L84.26,268.62 L84.39,268.62 L84.51,268.62 L84.64,268.62 L84.77,268.53 L84.89,268.25 L85.02,267.81 L85.15,267.22 L85.27,266.50 L85.40,265.64 L85.52,264.66 L85.65,263.55 L85.78,262.33 L85.90,260.99 L86.03,259.53 L86.16,257.97 L86.28,256.29 L86.41,254.51 L86.53,252.62 L86.66,250.63 L86.79,248.53 L86.91,246.33 L87.04,244.03 L87.17,241.63 L87.29,239.13 L87.42,236.54 L87.54,233.84 L87.67,231.05 L87.80,228.17 L87.92,238.17 L88.05,245.84 L88.18,252.29 L88.30,258.07 L88.43,263.42 L88.55,268.44 L88.68,270.42 L88.81,270.42 L88.93,270.42 L89.06,270.42 L89.19,270.42 L89.31,270.42 L89.44,270.42 L89.57,270.42 L89.69,270.42 L89.82,270.42 L89.94,270.42 L90.07,270.42 L90.20,270.42 L90.32,270.42 L90.45,270.42 L90.58,270.42 L90.70,270.42 L90.83,270.42 L90.95,270.42 L91.08,270.29 L91.21,269.91 L91.33,269.31 L91.46,268.51 L91.59,267.53 L91.71,266.37 L91.84,265.04 L91.96,263.55 L92.09,261.89 L92.22,260.08 L92.34,258.11 L92.47,256.00 L92.60,253.73 L92.72,251.32 L92.85,248.77 L92.98,246.07 L93.10,243.24 L93.23,240.27 L93.35,237.16 L93.48,233.91 L93.61,230.54 L93.73,227.03 L93.86,223.39 L93.99,219.62 L94.11,215.72 L94.24,230.26 L94.36,241.18 L94.49,250.38 L94.62,258.63 L94.74,266.26 L94.87,273.42 L95.00,276.16 L95.12,276.16 L95.25,276.16 L95.37,276.16 L95.50,276.16 L95.63,276.16 L95.75,276.16 L95.88,276.16 L96.01,276.16 L96.13,276.16 L96.26,276.16 L96.39,276.16 L96.51,276.16 L96.64,276.16 L96.76,276.16 L96.89,276.16 L97.02,276.16 L97.14,276.16 L97.27,276.16 L97.40,229.67 L97.52,220.83 L97.65,214.67 L97.77,210.86 L97.90,208.65 L98.03,207.40 L98.15,206.70 L98.28,206.29 L98.41,206.05 L98.53,205.92 L98.66,205.84 L98.78,205.80 L98.91,205.80 L99.04,205.82 L99.16,205.89 L99.29,206.01 L99.42,206.21 L99.54,206.56 L99.67,207.18 L99.79,208.26 L99.92,210.17 L100.05,213.50 L100.17,219.01 L100.30,227.26 L100.43,237.74 L100.55,248.55 L100.68,257.54 L100.81,263.81 L100.93,267.70 L101.06,269.97 L101.18,271.28 L101.31,272.03 L101.44,272.48 L101.56,272.76 L101.69,272.94 L101.82,273.05 L101.94,273.13 L102.07,273.17 L102.19,273.18 L102.32,273.16 L102.45,273.07 L102.57,272.90 L102.70,272.58 L102.83,272.00 L102.95,270.94 L103.08,269.03 L103.20,265.68 L103.33,260.11 L103.46,251.76 L103.58,241.16 L103.71,230.24 L103.84,221.17 L103.96,214.87 L104.09,210.97 L104.22,208.72 L104.34,207.44 L104.47,206.71 L104.59,206.30 L104.72,206.06 L104.85,205.92 L104.97,205.84 L105.10,205.80 L105.23,205.80 L105.35,205.83 L105.48,205.89 L105.60,206.02 L105.73,206.23 L105.86,206.59 L105.98,207.23 L106.11,208.35 L106.24,210.33 L106.36,213.78 L106.49,219.49 L106.61,228.01 L106.74,238.81 L106.87,249.92 L106.99,259.14 L107.12,265.56 L107.25,269.53 L107.37,271.85 L107.50,273.18 L107.63,273.95 L107.75,274.41 L107.88,274.69 L108.00,274.87 L108.13,274.99 L108.26,275.07 L108.38,275.11 L108.51,275.12 L108.64,275.09 L108.76,275.00 L108.89,274.83 L109.01,274.49 L109.14,273.89 L109.27,272.79 L109.39,270.81 L109.52,267.34 L109.65,261.57 L109.77,252.95 L109.90,242.02 L110.02,230.80 L110.15,221.51 L110.28,215.06 L110.40,211.08 L110.53,208.78 L110.66,207.47 L110.78,206.73 L110.91,206.31 L111.04,206.06 L111.16,205.92 L111.29,205.84 L111.41,205.80 L111.54,205.80 L111.67,205.83 L111.79,205.90 L111.92,206.02 L112.05,206.24 L112.17,206.62 L112.30,207.28 L112.42,208.44 L112.55,210.49 L112.68,214.06 L112.80,219.97 L112.93,228.77 L113.06,239.89 L113.18,251.30 L113.31,260.74 L113.43,267.30 L113.56,271.36 L113.69,273.73 L113.81,275.08 L113.94,275.87 L114.07,276.34 L114.19,276.62 L114.32,276.81 L114.44,276.93 L114.57,277.00 L114.70,277.05 L114.82,277.05 L114.95,277.02 L115.08,276.93 L115.20,276.75 L115.33,276.40 L115.46,275.77 L115.58,274.63 L115.71,272.58 L115.83,268.99 L115.96,263.02 L116.09,254.12 L116.21,242.87 L116.34,231.35 L116.47,221.84 L116.59,215.25 L116.72,211.19 L116.84,208.84 L116.97,207.51 L117.10,206.75 L117.22,206.32 L117.35,206.07 L117.48,205.92 L117.60,205.84 L117.73,205.80 L117.85,205.80 L117.98,205.83 L118.11,205.90 L118.23,206.03 L118.36,206.26 L118.49,206.65 L118.61,207.33 L118.74,208.53 L118.87,210.65 L118.99,214.35 L119.12,220.45 L119.24,229.53 L119.37,240.98 L119.50,252.69 L119.62,262.35 L119.75,269.05 L119.88,273.19 L120.00,275.61 L120.13,276.99 L120.25,277.79 L120.38,278.26 L120.51,278.56 L120.63,278.74 L120.76,278.86 L120.89,278.94 L121.01,278.98 L121.14,278.99 L121.26,278.96 L121.39,278.86 L121.52,278.67 L121.64,278.31 L121.77,277.66 L121.90,276.48 L122.02,274.36 L122.15,270.64 L122.28,264.47 L122.40,255.29 L122.53,243.72 L122.65,231.90 L122.78,222.17 L122.91,215.44 L123.03,211.29 L123.16,208.90 L123.29,207.54 L123.41,206.77 L123.54,206.33 L123.66,206.07 L123.79,205.92 L123.92,205.84 L124.04,205.80 L124.17,205.80 L124.30,205.83 L124.42,205.91 L124.55,206.04 L124.67,206.28 L124.80,206.68 L124.93,207.38 L125.05,208.62 L125.18,210.82 L125.31,214.64 L125.43,220.94 L125.56,230.30 L125.68,242.08 L125.81,254.08 L125.94,263.97 L126.06,270.80 L126.19,275.03 L126.32,277.48 L126.44,278.89 L126.57,279.71 L126.70,280.19 L126.82,280.49 L126.95,280.68 L127.07,280.80 L127.20,280.88 L127.33,280.92 L127.45,280.93 L127.58,280.89 L127.71,280.79 L127.83,280.59 L127.96,280.22 L128.08,279.54 L128.21,278.32 L128.34,276.13 L128.46,272.28 L128.59,265.92 L128.72,256.45 L128.84,244.56 L128.97,232.44 L129.09,222.49 L129.22,215.62 L129.35,211.40 L129.47,208.95 L129.60,207.57 L129.73,206.79 L129.85,206.34 L129.98,206.08 L130.11,205.93 L130.23,205.84 L130.36,205.80 L130.48,205.80 L130.61,205.83 L130.74,205.91 L130.86,206.05 L130.99,206.29 L131.12,206.71 L131.24,207.44 L131.37,208.72 L131.49,210.99 L131.62,214.93 L131.75,221.44 L131.87,231.08 L132.00,243.18 L132.13,255.48 L132.25,265.58 L132.38,272.56 L132.50,276.86 L132.63,279.36 L132.76,280.80 L132.88,281.63 L133.01,282.12 L133.14,282.42 L133.26,282.61 L133.39,282.74 L133.52,282.82 L133.64,282.86 L133.77,282.86 L133.89,282.82 L134.02,282.72 L134.15,282.51 L134.27,282.12 L134.40,281.42 L134.53,280.16 L134.65,277.89 L134.78,273.92 L134.90,267.35 L135.03,257.61 L135.16,245.39 L135.28,232.97 L135.41,222.80 L135.54,215.80 L135.66,211.50 L135.79,209.01 L135.91,207.60 L136.04,206.81 L136.17,206.35 L136.29,206.08 L136.42,205.93 L136.55,205.84 L136.67,205.80 L136.80,205.80 L136.92,205.83 L137.05,205.91 L137.18,206.06 L137.30,206.31 L137.43,206.74 L137.56,207.49 L137.68,208.81 L137.81,211.16 L137.94,215.23 L138.06,221.94 L138.19,231.87 L138.31,244.29 L138.44,256.89 L138.57,267.21 L138.69,274.32 L138.82,278.70 L138.95,281.25 L139.07,282.70 L139.20,283.55 L139.32,284.05 L139.45,284.35 L139.58,284.55 L139.70,284.68 L139.83,284.75 L139.96,284.79 L140.08,284.80 L140.21,284.76 L140.33,284.65 L140.46,284.43 L140.59,284.03 L140.71,283.31 L140.84,282.00 L140.97,279.66 L141.09,275.56 L141.22,268.78 L141.35,258.75 L141.47,246.21 L141.60,233.50 L141.72,223.11 L141.85,215.98 L141.98,211.60 L142.10,209.07 L142.23,207.64 L142.36,206.82 L142.48,206.36 L142.61,206.09 L142.73,205.93 L142.86,205.84 L142.99,205.80 L143.11,205.80 L143.24,205.84 L143.37,205.92 L143.49,206.07 L143.62,206.33 L143.74,206.77 L143.87,207.55 L144.00,208.91 L144.12,211.33 L144.25,215.54 L144.38,222.45 L144.50,232.66 L144.63,245.42 L144.76,258.31 L144.88,268.84 L145.01,276.08 L145.13,280.54 L145.26,283.13 L145.39,284.61 L145.51,285.47 L145.64,285.98 L145.77,286.29 L145.89,286.49 L146.02,286.61 L146.14,286.69 L146.27,286.73 L146.40,286.73 L146.52,286.69 L146.65,286.57 L146.78,286.35 L146.90,285.94 L147.03,285.19 L147.15,283.84 L147.28,281.42 L147.41,277.19 L147.53,270.21 L147.66,259.89 L147.79,247.02 L147.91,234.02 L148.04,223.42 L148.17,216.15 L148.29,211.69 L148.42,209.12 L148.54,207.67 L148.67,206.84 L148.80,206.37 L148.92,206.09 L149.05,205.93 L149.18,205.84 L149.30,205.80 L149.43,205.80 L149.55,205.84 L149.68,205.92 L149.81,206.08 L149.93,206.34 L150.06,206.80 L150.19,207.60 L150.31,209.01 L150.44,211.51 L150.56,215.84 L150.69,222.97 L150.82,233.47 L150.94,246.54 L151.07,259.73 L151.20,270.47 L151.32,277.85 L151.45,282.38 L151.57,285.01 L151.70,286.52 L151.83,287.39 L151.95,287.90 L152.08,288.22 L152.21,288.42 L152.33,288.55 L152.46,288.63 L152.59,288.67 L152.71,288.67 L152.84,288.62 L152.96,288.50 L153.09,288.27 L153.22,287.84 L153.34,287.07 L153.47,285.68 L153.60,283.18 L153.72,278.82 L153.85,271.63 L153.97,261.02 L154.10,247.82 L154.23,234.53 L154.35,223.72 L154.48,216.32 L154.61,211.79 L154.73,209.18 L154.86,207.70 L154.98,206.86 L155.11,206.38 L155.24,206.10 L155.36,205.93 L155.49,205.84 L155.62,205.80 L155.74,205.80 L155.87,205.84 L156.00,205.93 L156.12,206.09 L156.25,206.36 L156.37,206.84 L156.50,207.66 L156.63,209.11 L156.75,211.68 L156.88,216.15 L157.01,223.49 L157.13,234.28 L157.26,247.68 L157.38,261.16 L157.51,272.11 L157.64,279.61 L157.76,284.22 L157.89,286.89 L158.02,288.42 L158.14,289.31 L158.27,289.83 L158.39,290.15 L158.52,290.36 L158.65,290.49 L158.77,290.57 L158.90,290.61 L159.03,290.61 L159.15,290.55 L159.28,290.43 L159.41,290.19 L159.53,289.75 L159.66,288.95 L159.78,287.52 L159.91,284.94 L160.04,280.45 L160.16,273.04 L160.29,262.15 L160.42,248.62 L160.54,235.04 L160.67,224.02 L160.79,216.49 L160.92,211.88 L161.05,209.23 L161.17,207.73 L161.30,206.87 L161.43,206.38 L161.55,206.10 L161.68,205.93 L161.80,205.84 L161.93,205.80 L162.06,205.80 L162.18,205.84 L162.31,205.93 L162.44,206.10 L162.56,206.38 L162.69,206.87 L162.81,207.72 L162.94,209.21 L163.07,211.86 L163.19,216.47 L163.32,224.01 L163.45,235.10 L163.57,248.83 L163.70,262.59 L163.83,273.75 L163.95,281.38 L164.08,286.06 L164.20,288.78 L164.33,290.33 L164.46,291.23 L164.58,291.76 L164.71,292.09 L164.84,292.29 L164.96,292.42 L165.09,292.50 L165.21,292.54 L165.34,292.54 L165.47,292.49 L165.59,292.36 L165.72,292.11 L165.85,291.65 L165.97,290.83 L166.10,289.35 L166.22,286.70 L166.35,282.07 L166.48,274.45 L166.60,263.26 L166.73,249.40 L167.05,291.24 L167.36,294.11" stroke="#2E7EC1" stroke-width="1.2" fill="none" stroke-linejoin="round" stroke-linecap="round" />
<path d="M44.10,257.49 L44.26,257.70 L44.42,257.91 L44.57,258.13 L44.73,258.34 L44.89,258.55 L45.05,258.76 L45.20,258.97 L45.36,259.18 L45.52,259.39 L45.68,259.60 L45.84,259.81 L45.99,260.03 L46.15,260.24 L46.31,260.45 L46.47,260.66 L46.63,260.87 L46.78,261.83 L46.94,259.39 L47.10,257.45 L47.26,255.67 L47.41,254.01 L47.57,252.45 L47.73,250.98 L47.89,249.61 L48.05,248.32 L48.20,247.13 L48.36,246.02 L48.52,245.02 L48.68,244.11 L48.83,243.30 L48.99,242.59 L49.15,241.99 L49.31,241.49 L49.47,241.10 L49.62,240.83 L49.78,240.66 L49.94,240.60 L50.10,240.66 L50.26,240.83 L50.41,241.10 L50.57,241.49 L50.73,241.99 L50.89,242.59 L51.04,243.30 L51.20,244.11 L51.36,245.02 L51.52,246.04 L51.68,247.14 L51.83,248.34 L51.99,249.63 L52.15,251.01 L52.31,252.49 L52.46,254.05 L52.62,255.72 L52.78,257.50 L52.94,259.45 L53.10,261.90 L53.25,259.45 L53.41,257.50 L53.57,255.71 L53.73,254.05 L53.89,252.48 L54.04,251.01 L54.20,249.63 L54.36,248.34 L54.52,247.14 L54.67,246.03 L54.83,245.02 L54.99,244.10 L55.15,243.29 L55.31,242.58 L55.46,241.98 L55.62,241.48 L55.78,241.09 L55.94,240.81 L56.09,240.64 L56.25,240.59 L56.41,240.64 L56.57,240.81 L56.73,241.09 L56.88,241.48 L57.04,241.98 L57.20,242.58 L57.36,243.29 L57.52,244.11 L57.67,245.03 L57.83,246.04 L57.99,247.15 L58.15,248.36 L58.30,249.65 L58.46,251.04 L58.62,252.52 L58.78,254.09 L58.94,255.76 L59.09,257.55 L59.25,259.52 L59.41,261.97 L59.57,259.52 L59.72,257.55 L59.88,255.76 L60.04,254.09 L60.20,252.52 L60.36,251.04 L60.51,249.65 L60.67,248.35 L60.83,247.15 L60.99,246.03 L61.15,245.02 L61.30,244.10 L61.46,243.29 L61.62,242.57 L61.78,241.97 L61.93,241.47 L62.09,241.08 L62.25,240.80 L62.41,240.63 L62.57,240.57 L62.72,240.63 L62.88,240.79 L63.04,241.07 L63.20,241.47 L63.35,241.97 L63.51,242.57 L63.67,243.29 L63.83,244.11 L63.99,245.03 L64.14,246.05 L64.30,247.16 L64.46,248.37 L64.62,249.67 L64.78,251.07 L64.93,252.55 L65.09,254.13 L65.25,255.81 L65.41,257.61 L65.56,259.58 L65.72,262.05 L65.88,259.58 L66.04,257.61 L66.20,255.81 L66.35,254.13 L66.51,252.55 L66.67,251.06 L66.83,249.67 L66.98,248.37 L67.14,247.16 L67.30,246.04 L67.46,245.02 L67.62,244.10 L67.77,243.28 L67.93,242.56 L68.09,241.95 L68.25,241.45 L68.41,241.06 L68.56,240.78 L68.72,240.61 L68.88,240.55 L69.04,240.61 L69.19,240.78 L69.35,241.06 L69.51,241.45 L69.67,241.96 L69.83,242.57 L69.98,243.28 L70.14,244.11 L70.30,245.03 L70.46,246.05 L70.61,247.17 L70.77,248.39 L70.93,249.70 L71.09,251.09 L71.25,252.58 L71.40,254.17 L71.56,255.85 L71.72,257.66 L71.88,259.64 L72.04,262.12 L72.19,259.64 L72.35,257.66 L72.51,255.85 L72.67,254.17 L72.82,252.58 L72.98,251.09 L73.14,249.69 L73.30,248.38 L73.46,247.17 L73.61,246.05 L73.77,245.02 L73.93,244.10 L74.09,243.27 L74.24,242.56 L74.40,241.94 L74.56,241.44 L74.72,241.05 L74.88,240.76 L75.03,240.59 L75.19,240.54 L75.35,240.59 L75.51,240.76 L75.66,241.05 L75.82,241.44 L75.98,241.94 L76.14,242.56 L76.30,243.28 L76.45,244.10 L76.61,245.03 L76.77,246.06 L76.93,247.18 L77.09,248.40 L77.24,249.72 L77.40,251.12 L77.56,252.62 L77.72,254.21 L77.87,255.90 L78.03,257.71 L78.19,259.70 L78.35,262.19 L78.51,259.70 L78.66,257.71 L78.82,255.90 L78.98,254.21 L79.14,252.61 L79.29,251.12 L79.45,249.71 L79.61,248.40 L79.77,247.18 L79.93,246.05 L80.08,245.02 L80.24,244.10 L80.40,243.27 L80.56,242.55 L80.72,241.93 L80.87,241.43 L81.03,241.03 L81.19,240.75 L81.35,240.58 L81.50,240.52 L81.66,240.58 L81.82,240.75 L81.98,241.03 L82.14,241.43 L82.29,241.93 L82.45,242.55 L82.61,243.27 L82.77,244.10 L82.92,245.03 L83.08,246.07 L83.24,247.19 L83.40,248.42 L83.56,249.74 L83.71,251.15 L83.87,252.65 L84.03,254.25 L84.19,255.95 L84.35,257.77 L84.50,259.76 L84.66,262.26 L84.82,259.76 L84.98,257.77 L85.13,255.95 L85.29,254.25 L85.45,252.65 L85.61,251.14 L85.77,249.73 L85.92,248.41 L86.08,247.19 L86.24,246.06 L86.40,245.03 L86.55,244.09 L86.71,243.26 L86.87,242.54 L87.03,241.92 L87.19,241.41 L87.34,241.02 L87.50,240.73 L87.66,240.56 L87.82,240.50 L87.98,240.56 L88.13,240.73 L88.29,241.02 L88.45,241.41 L88.61,241.92 L88.76,242.54 L88.92,243.27 L89.08,244.10 L89.24,245.04 L89.40,246.07 L89.55,247.21 L89.71,248.43 L89.87,249.76 L90.03,251.17 L90.18,252.68 L90.34,254.29 L90.50,255.99 L90.66,257.82 L90.82,259.82 L90.97,262.33 L91.13,259.82 L91.29,257.82 L91.45,255.99 L91.61,254.28 L91.76,252.68 L91.92,251.17 L92.08,249.75 L92.24,248.43 L92.39,247.20 L92.55,246.06 L92.71,245.03 L92.87,244.09 L93.03,243.26 L93.18,242.53 L93.34,241.91 L93.50,241.40 L93.66,241.00 L93.81,240.72 L93.97,240.55 L94.13,240.49 L94.29,240.54 L94.45,240.72 L94.60,241.00 L94.76,241.40 L94.92,241.91 L95.08,242.53 L95.24,243.26 L95.39,244.10 L95.55,245.04 L95.71,246.08 L95.87,247.22 L96.02,248.45 L96.18,249.78 L96.34,251.20 L96.50,252.71 L96.66,254.33 L96.81,256.04 L96.97,257.87 L97.13,259.88 L97.29,262.40 L97.44,259.88 L97.60,257.87 L97.76,256.04 L97.92,254.32 L98.08,252.71 L98.23,251.20 L98.39,249.78 L98.55,248.45 L98.71,247.21 L98.87,246.07 L99.02,245.03 L99.18,244.09 L99.34,243.25 L99.50,242.52 L99.65,241.90 L99.81,241.39 L99.97,240.99 L100.13,240.70 L100.29,240.53 L100.44,240.47 L100.60,240.53 L100.76,240.70 L100.92,240.99 L101.07,241.39 L101.23,241.90 L101.39,242.52 L101.55,243.26 L101.71,244.10 L101.86,245.04 L102.02,246.08 L102.18,247.23 L102.34,248.47 L102.50,249.80 L102.65,251.23 L102.81,252.75 L102.97,254.36 L103.13,256.08 L103.28,257.93 L103.44,259.95 L103.60,262.48 L103.76,259.95 L103.92,257.93 L104.07,256.08 L104.23,254.36 L104.39,252.75 L104.55,251.22 L104.70,249.80 L104.86,248.46 L105.02,247.22 L105.18,246.08 L105.34,245.03 L105.49,244.09 L105.65,243.25 L105.81,242.51 L105.97,241.89 L106.13,241.38 L106.28,240.97 L106.44,240.69 L106.60,240.51 L106.76,240.45 L106.91,240.51 L107.07,240.69 L107.23,240.97 L107.39,241.38 L107.55,241.89 L107.70,242.52 L107.86,243.25 L108.02,244.09 L108.18,245.04 L108.33,246.09 L108.49,247.24 L108.65,248.48 L108.81,249.82 L108.97,251.25 L109.12,252.78 L109.28,254.40 L109.44,256.13 L109.60,257.98 L109.76,260.01 L109.91,262.55 L110.07,260.01 L110.23,257.98 L110.39,256.13 L110.54,254.40 L110.70,252.78 L110.86,251.25 L111.02,249.82 L111.18,248.48 L111.33,247.23 L111.49,246.08 L111.65,245.03 L111.81,244.09 L111.96,243.24 L112.12,242.51 L112.28,241.88 L112.44,241.36 L112.60,240.96 L112.75,240.67 L112.91,240.50 L113.07,240.44 L113.23,240.50 L113.39,240.67 L113.54,240.96 L113.70,241.36 L113.86,241.88 L114.02,242.51 L114.17,243.25 L114.33,244.09 L114.49,245.04 L114.65,246.09 L114.81,247.25 L114.96,248.50 L115.12,249.84 L115.28,251.28 L115.44,252.81 L115.59,254.44 L115.75,256.18 L115.91,258.04 L116.07,260.07 L116.23,262.62 L116.38,260.07 L116.54,258.04 L116.70,256.18 L116.86,254.44 L117.02,252.81 L117.17,251.28 L117.33,249.84 L117.49,248.49 L117.65,247.24 L117.80,246.09 L117.96,245.04 L118.12,244.08 L118.28,243.24 L118.44,242.50 L118.59,241.87 L118.75,241.35 L118.91,240.95 L119.07,240.65 L119.22,240.48 L119.38,240.42 L119.54,240.48 L119.70,240.65 L119.86,240.94 L120.01,241.35 L120.17,241.87 L120.33,242.50 L120.49,243.24 L120.65,244.09 L120.80,245.04 L120.96,246.10 L121.12,247.26 L121.28,248.51 L121.43,249.86 L121.59,251.31 L121.75,252.85 L121.91,254.48 L122.07,256.22 L122.22,258.09 L122.38,260.13 L122.54,262.69 L122.70,260.13 L122.85,258.09 L123.01,256.22 L123.17,254.48 L123.33,252.84 L123.49,251.30 L123.64,249.86 L123.80,248.51 L123.96,247.25 L124.12,246.09 L124.28,245.04 L124.43,244.08 L124.59,243.23 L124.75,242.49 L124.91,241.86 L125.06,241.34 L125.22,240.93 L125.38,240.64 L125.54,240.46 L125.70,240.40 L125.85,240.46 L126.01,240.64 L126.17,240.93 L126.33,241.34 L126.48,241.86 L126.64,242.49 L126.80,243.24 L126.96,244.09 L127.12,245.05 L127.27,246.11 L127.43,247.27 L127.59,248.53 L127.75,249.88 L127.91,251.33 L128.06,252.88 L128.22,254.52 L128.38,256.27 L128.54,258.14 L128.69,260.19 L128.85,262.76 L129.01,260.19 L129.17,258.14 L129.33,256.27 L129.48,254.52 L129.64,252.88 L129.80,251.33 L129.96,249.88 L130.11,248.52 L130.27,247.26 L130.43,246.10 L130.59,245.04 L130.75,244.08 L130.90,243.23 L131.06,242.48 L131.22,241.85 L131.38,241.32 L131.54,240.92 L131.69,240.62 L131.85,240.45 L132.01,240.39 L132.17,240.45 L132.32,240.62 L132.48,240.92 L132.64,241.32 L132.80,241.85 L132.96,242.48 L133.11,243.23 L133.27,244.09 L133.43,245.05 L133.59,246.11 L133.74,247.28 L133.90,248.54 L134.06,249.90 L134.22,251.36 L134.38,252.91 L134.53,254.56 L134.69,256.32 L134.85,258.20 L135.01,260.25 L135.17,262.84 L135.32,260.25 L135.48,258.20 L135.64,256.31 L135.80,254.56 L135.95,252.91 L136.11,251.36 L136.27,249.90 L136.43,248.54 L136.59,247.27 L136.74,246.11 L136.90,245.04 L137.06,244.08 L137.22,243.22 L137.37,242.47 L137.53,241.84 L137.69,241.31 L137.85,240.90 L138.01,240.61 L138.16,240.43 L138.32,240.37 L138.48,240.43 L138.64,240.61 L138.79,240.90 L138.95,241.31 L139.11,241.84 L139.27,242.48 L139.43,243.23 L139.58,244.08 L139.74,245.05 L139.90,246.12 L140.06,247.29 L140.22,248.56 L140.37,249.93 L140.53,251.39 L140.69,252.94 L140.85,254.60 L141.00,256.36 L141.16,258.25 L141.32,260.32 L141.48,262.91 L141.64,260.32 L141.79,258.25 L141.95,256.36 L142.11,254.60 L142.27,252.94 L142.42,251.38 L142.58,249.92 L142.74,248.55 L142.90,247.28 L143.06,246.11 L143.21,245.04 L143.37,244.08 L143.53,243.22 L143.69,242.46 L143.85,241.82 L144.00,241.30 L144.16,240.89 L144.32,240.59 L144.48,240.41 L144.63,240.36 L144.79,240.41 L144.95,240.59 L145.11,240.89 L145.27,241.30 L145.42,241.83 L145.58,242.47 L145.74,243.22 L145.90,244.08 L146.05,245.05 L146.21,246.12 L146.37,247.30 L146.53,248.57 L146.69,249.95 L146.84,251.41 L147.00,252.98 L147.16,254.64 L147.32,256.41 L147.48,258.30 L147.63,260.38 L147.79,262.98 L147.95,260.38 L148.11,258.30 L148.26,256.41 L148.42,254.64 L148.58,252.98 L148.74,251.41 L148.90,249.94 L149.05,248.57 L149.21,247.29 L149.37,246.12 L149.53,245.04 L149.68,244.07 L149.84,243.21 L150.00,242.46 L150.16,241.81 L150.32,241.29 L150.47,240.87 L150.63,240.58 L150.79,240.40 L150.95,240.34 L151.11,240.40 L151.26,240.58 L151.42,240.87 L151.58,241.29 L151.74,241.81 L151.89,242.46 L152.05,243.21 L152.21,244.08 L152.37,245.05 L152.53,246.13 L152.68,247.31 L152.84,248.59 L153.00,249.97 L153.16,251.44 L153.31,253.01 L153.47,254.68 L153.63,256.45 L153.79,258.36 L153.95,260.44 L154.10,263.05 L154.26,260.44 L154.42,258.36 L154.58,256.45 L154.74,254.68 L154.89,253.01 L155.05,251.44 L155.21,249.96 L155.37,248.59 L155.52,247.31 L155.68,246.12 L155.84,245.05 L156.00,244.07 L156.16,243.20 L156.31,242.45 L156.47,241.80 L156.63,241.27 L156.79,240.86 L156.94,240.56 L157.10,240.38 L157.26,240.32 L157.42,240.38 L157.58,240.56 L157.73,240.86 L157.89,241.27 L158.05,241.80 L158.21,242.45 L158.37,243.21 L158.52,244.08 L158.68,245.05 L158.84,246.14 L159.00,247.32 L159.15,248.61 L159.31,249.99 L159.47,251.47 L159.63,253.04 L159.79,254.72 L159.94,256.50 L160.10,258.41 L160.26,260.50 L160.42,263.12 L160.57,260.50 L160.73,258.41 L160.89,256.50 L161.05,254.72 L161.21,253.04 L161.36,251.46 L161.52,249.98 L161.68,248.60 L161.84,247.32 L162.00,246.13 L162.15,245.05 L162.31,244.07 L162.47,243.20 L162.63,242.44 L162.78,241.79 L162.94,241.26 L163.10,240.84 L163.26,240.55 L163.42,240.37 L163.57,240.31 L163.73,240.37 L163.89,240.54 L164.05,240.84 L164.20,241.26 L164.36,241.79 L164.52,242.44 L164.68,243.20 L164.84,244.08 L164.99,245.06 L165.15,246.14 L165.31,247.33 L165.47,248.62 L165.63,250.01 L165.78,251.49 L165.94,253.08 L166.10,254.76 L166.26,256.55 L166.41,258.46 L166.57,260.56 L166.73,263.19 L166.89,260.56 L167.05,258.46 L167.20,256.55 L167.36,254.76 L167.52,253.07 L167.68,251.49 L167.83,250.01 L167.99,248.62 L168.15,247.33 L168.31,246.14 L168.47,245.05 L168.62,244.07 L168.78,243.19 L168.94,242.43 L169.10,241.78 L169.26,241.25 L169.41,240.83 L169.57,240.53 L169.73,240.35 L169.89,240.29 L170.04,240.35 L170.20,240.53 L170.36,240.83 L170.52,241.25 L170.68,241.78 L170.83,242.43 L170.99,243.20 L171.15,244.07 L171.31,245.06 L171.46,246.15 L171.62,247.34 L171.78,248.64 L171.94,250.03 L172.10,251.52 L172.25,253.11 L172.41,254.80 L172.57,256.59 L172.73,258.52 L172.89,260.62 L173.04,263.27 L173.20,260.62 L173.36,258.52 L173.52,256.59 L173.67,254.79 L173.83,253.11 L173.99,251.52 L174.15,250.03 L174.31,248.63 L174.46,247.34 L174.62,246.14 L174.78,245.05 L174.94,244.07 L175.09,243.19 L175.25,242.42 L175.41,241.77 L175.57,241.23 L175.73,240.81 L175.88,240.51 L176.04,240.33 L176.20,240.27 L176.36,240.33 L176.52,240.51 L176.67,240.81 L176.83,241.23 L176.99,241.77 L177.15,242.43 L177.30,243.19 L177.46,244.07 L177.62,245.06 L177.78,246.15 L177.94,247.35 L178.09,248.65 L178.25,250.05 L178.41,251.55 L178.57,253.14 L178.72,254.84 L178.88,256.64 L179.04,258.57 L179.20,260.69 L179.36,263.34 L179.51,260.69 L179.67,258.57 L179.83,256.64 L179.99,254.83 L180.15,253.14 L180.30,251.54 L180.46,250.05 L180.62,248.65 L180.78,247.35 L180.93,246.15 L181.09,245.05 L181.25,244.06 L181.41,243.18 L181.57,242.41 L181.72,241.76 L181.88,241.22 L182.04,240.80 L182.20,240.50 L182.35,240.32 L182.51,240.26 L182.67,240.32 L182.83,240.50 L182.99,240.80 L183.14,241.22 L183.30,241.76 L183.46,242.42 L183.62,243.19 L183.78,244.07 L183.93,245.06 L184.09,246.16 L184.25,247.36 L184.41,248.67 L184.56,250.07 L184.72,251.57 L184.88,253.17 L185.04,254.87 L185.20,256.68 L185.35,258.62 L185.51,260.75 L185.67,263.41 L185.83,260.75 L185.98,258.62 L186.14,256.68 L186.30,254.87 L186.46,253.17 L186.62,251.57 L186.77,250.07 L186.93,248.66 L187.09,247.36 L187.25,246.15 L187.41,245.05 L187.56,244.06 L187.72,243.18 L187.88,242.41 L188.04,241.75 L188.19,241.21 L188.35,240.79 L188.51,240.48 L188.67,240.30 L188.83,240.24 L188.98,240.30 L189.14,240.48 L189.30,240.78 L189.46,241.21 L189.61,241.75 L189.77,242.41 L189.93,243.18 L190.09,244.07 L190.25,245.06 L190.40,246.17 L190.56,247.37 L190.72,248.68 L190.88,250.09 L191.04,251.60 L191.19,253.21 L191.35,254.91 L191.51,256.73 L191.67,258.68 L191.82,260.81 L191.98,263.48 L192.14,260.81 L192.30,258.68 L192.46,256.73 L192.61,254.91 L192.77,253.20 L192.93,251.60 L193.09,250.09 L193.24,248.68 L193.40,247.37 L193.56,246.16 L193.72,245.06 L193.88,244.06 L194.03,243.17 L194.19,242.40 L194.35,241.74 L194.51,241.20 L194.67,240.77 L194.82,240.47 L194.98,240.28 L195.14,240.22 L195.30,240.28 L195.45,240.47 L195.61,240.77 L195.77,241.20 L195.93,241.74 L196.09,242.40 L196.24,243.18 L196.40,244.07 L196.56,245.07 L196.72,246.17 L196.87,247.38 L197.03,248.70 L197.19,250.11 L197.35,251.63 L197.51,253.24 L197.66,254.95 L197.82,256.78 L197.98,258.73 L198.14,260.87 L198.30,263.55 L198.45,260.87 L198.61,258.73 L198.77,256.78 L198.93,254.95 L199.08,253.24 L199.24,251.62 L199.40,250.11 L199.56,248.69 L199.72,247.38 L199.87,246.17 L200.03,245.06 L200.19,244.06 L200.35,243.17 L200.50,242.39 L200.66,241.73 L200.82,241.18 L200.98,240.76 L201.14,240.45 L201.29,240.27 L201.45,240.21 L201.61,240.27 L201.77,240.45 L201.92,240.76 L202.08,241.18 L202.24,241.73 L202.40,242.39 L202.56,243.17 L202.71,244.06 L202.87,245.07 L203.03,246.18 L203.19,247.39 L203.35,248.71 L203.50,250.13 L203.66,251.65 L203.82,253.27 L203.98,254.99 L204.13,256.82 L204.29,258.78 L204.45,260.93 L204.61,263.62 L204.77,260.93 L204.92,258.78 L205.08,256.82 L205.24,254.99 L205.40,253.27 L205.55,251.65 L205.71,250.13 L205.87,248.71 L206.03,247.39 L206.19,246.17 L206.34,245.06 L206.50,244.05 L206.66,243.16 L206.82,242.38 L206.98,241.72 L207.13,241.17 L207.29,240.74 L207.45,240.44 L207.61,240.25 L207.76,240.19 L207.92,240.25 L208.08,240.43 L208.24,240.74 L208.40,241.17 L208.55,241.72 L208.71,242.38 L208.87,243.16 L209.03,244.06 L209.18,245.07 L209.34,246.18 L209.50,247.40 L209.66,248.72 L209.82,250.15 L209.97,251.67 L210.13,253.30 L210.29,255.02 L210.45,256.86 L210.61,258.83 L210.76,260.98 L210.92,263.68 L211.08,260.98 L211.24,258.83 L211.39,256.86 L211.55,255.02 L211.71,253.29 L211.87,251.67 L212.03,250.15 L212.18,248.72 L212.34,247.40 L212.50,246.17 L212.66,245.06 L212.81,244.05 L212.97,243.15 L213.13,242.37 L213.29,241.70 L213.45,241.16 L213.60,240.73 L213.76,240.42 L213.92,240.23 L214.08,240.17 L214.24,240.23 L214.39,240.42 L214.55,240.73 L214.71,241.16 L214.87,241.71 L215.02,242.37 L215.18,243.16 L215.34,244.06 L215.50,245.07 L215.66,246.18 L215.81,247.41 L215.97,248.74 L216.13,250.17 L216.29,251.69 L216.44,253.32 L216.60,255.05 L216.76,256.90 L216.92,258.87 L217.08,261.03 L217.23,263.74 L217.39,261.03 L217.55,258.87 L217.71,256.90 L217.87,255.05 L218.02,253.32 L218.18,251.69 L218.34,250.16 L218.50,248.73 L218.65,247.40 L218.81,246.18 L218.97,245.06 L219.13,244.05 L219.29,243.15 L219.44,242.36 L219.60,241.69 L219.76,241.14 L219.92,240.71 L220.07,240.40 L220.23,240.22 L220.39,240.16 L220.55,240.22 L220.71,240.40 L220.86,240.71 L221.02,241.14 L221.18,241.69 L221.34,242.36 L221.50,243.15 L221.65,244.05 L221.81,245.07 L221.97,246.19 L222.13,247.42 L222.28,248.75 L222.44,250.18 L222.60,251.72 L222.76,253.35 L222.92,255.09 L223.07,256.94 L223.23,258.92 L223.39,261.09 L223.55,263.81 L223.70,261.09 L223.86,258.92 L224.02,256.94 L224.18,255.09 L224.34,253.35 L224.49,251.71 L224.65,250.18 L224.81,248.74 L224.97,247.41 L225.13,246.18 L225.28,245.06 L225.44,244.04 L225.60,243.14 L225.76,242.35 L225.91,241.68 L226.07,241.13 L226.23,240.70 L226.39,240.39 L226.55,240.20 L226.70,240.14 L226.86,240.20 L227.02,240.39 L227.18,240.70 L227.33,241.13 L227.49,241.68 L227.65,242.35 L227.81,243.14 L227.97,244.05 L228.12,245.07 L228.28,246.19 L228.44,247.42 L228.60,248.76 L228.76,250.20 L228.91,251.74 L229.07,253.38 L229.23,255.12 L229.39,256.98 L229.54,258.96 L229.70,261.14 L229.86,263.87 L230.02,261.14 L230.18,258.96 L230.33,256.97 L230.49,255.12 L230.65,253.38 L230.81,251.74 L230.96,250.20 L231.12,248.76 L231.28,247.42 L231.44,246.18 L231.60,245.06 L231.75,244.04 L231.91,243.13 L232.07,242.34 L232.23,241.67 L232.39,241.12 L232.54,240.68 L232.70,240.37 L232.86,240.19 L233.02,240.12 L233.17,240.19 L233.33,240.37 L233.49,240.68 L233.65,241.12 L233.81,241.67 L233.96,242.35 L234.12,243.14 L234.28,244.04 L234.44,245.06 L234.59,246.19 L234.75,247.43 L234.91,248.77 L235.07,250.22 L235.23,251.76 L235.38,253.40 L235.54,255.15 L235.70,257.01 L235.86,259.01 L236.02,261.19 L236.17,263.93 L236.33,261.19 L236.49,259.01 L236.65,257.01 L236.80,255.15 L236.96,253.40 L237.12,251.76 L237.28,250.21 L237.44,248.77 L237.59,247.43 L237.75,246.19 L237.91,245.06 L238.07,244.04 L238.22,243.13 L238.38,242.33 L238.54,241.66 L238.70,241.10 L238.86,240.67 L239.01,240.36 L239.17,240.17 L239.33,240.11 L239.49,240.17 L239.65,240.36 L239.80,240.67 L239.96,241.10 L240.12,241.66 L240.28,242.34 L240.43,243.13 L240.59,244.04 L240.75,245.06 L240.91,246.20 L241.07,247.44 L241.22,248.78 L241.38,250.23 L241.54,251.78 L241.70,253.43 L241.85,255.19 L242.01,257.05 L242.17,259.05 L242.33,261.24 L242.49,263.99 L242.64,261.24 L242.80,259.05 L242.96,257.05 L243.12,255.18 L243.28,253.43 L243.43,251.78 L243.59,250.23 L243.75,248.78 L243.91,247.43 L244.06,246.19 L244.22,245.06 L244.38,244.03 L244.54,243.12 L244.70,242.33 L244.85,241.65 L245.01,241.09 L245.17,240.65 L245.33,240.34 L245.48,240.15 L245.64,240.09 L245.80,240.15 L245.96,240.34 L246.12,240.65 L246.27,241.09 L246.43,241.65 L246.59,242.33 L246.75,243.12 L246.91,244.04 L247.06,245.06 L247.22,246.20 L247.38,247.45 L247.54,248.80 L247.69,250.25 L247.85,251.80 L248.01,253.46 L248.17,255.22 L248.33,257.09 L248.48,259.10 L248.64,261.30 L248.80,264.05 L248.96,261.30 L249.11,259.10 L249.27,257.09 L249.43,255.22 L249.59,253.46 L249.75,251.80 L249.90,250.25 L250.06,248.79 L250.22,247.44 L250.38,246.19 L250.54,245.06 L250.69,244.03 L250.85,243.11 L251.01,242.32 L251.17,241.64 L251.32,241.08 L251.48,240.64 L251.64,240.33 L251.80,240.14 L251.96,240.07 L252.11,240.14 L252.27,240.32 L252.43,240.64 L252.59,241.08 L252.74,241.64 L252.90,242.32 L253.06,243.12 L253.22,244.03 L253.38,245.06 L253.53,246.20 L253.69,247.45 L253.85,248.81 L254.01,250.26 L254.17,251.82 L254.32,253.49 L254.48,255.25 L254.64,257.13 L254.80,259.14 L254.95,261.35 L255.11,264.11 L255.27,261.35 L255.43,259.14 L255.59,257.13 L255.74,255.25 L255.90,253.48 L256.06,251.82 L256.22,250.26 L256.37,248.80 L256.53,247.45 L256.69,246.20 L256.85,245.06 L257.01,244.03 L257.16,243.11 L257.32,242.31 L257.48,241.62 L257.64,241.06 L257.80,240.62 L257.95,240.31 L258.11,240.12 L258.27,240.06 L258.43,240.12 L258.58,240.31 L258.74,240.62 L258.90,241.06 L259.06,241.62 L259.22,242.31 L259.37,243.11 L259.53,244.03 L259.69,245.06 L259.85,246.21 L260.00,247.46 L260.16,248.82 L260.32,250.28 L260.48,251.85 L260.64,253.51 L260.79,255.28 L260.95,257.17 L261.11,259.19 L261.27,261.40 L261.43,264.18 L261.58,261.40 L261.74,259.19 L261.90,257.17 L262.06,255.28 L262.21,253.51 L262.37,251.84 L262.53,250.28 L262.69,248.82 L262.85,247.46 L263.00,246.20 L263.16,245.06 L263.32,244.02 L263.48,243.10 L263.63,242.30 L263.79,241.61 L263.95,241.05 L264.11,240.61 L264.27,240.29 L264.42,240.10 L264.58,240.04 L264.74,240.10 L264.90,240.29 L265.06,240.61 L265.21,241.05 L265.37,241.61 L265.53,242.30 L265.69,243.10 L265.84,244.03 L266.00,245.06 L266.16,246.21 L266.32,247.47 L266.48,248.83 L266.63,250.30 L266.79,251.87 L266.95,253.54 L267.11,255.32 L267.26,257.21 L267.42,259.24 L267.58,261.45 L267.74,264.24 L267.90,261.45 L268.05,259.24 L268.21,257.21 L268.37,255.32 L268.53,253.54 L268.68,251.86 L268.84,250.29 L269.00,248.83 L269.16,247.46 L269.32,246.21 L269.47,245.06 L269.63,244.02 L269.79,243.09 L269.95,242.29 L270.11,241.60 L270.26,241.04 L270.42,240.59 L270.58,240.28 L270.74,240.09 L270.89,240.02 L271.05,240.09 L271.21,240.28 L271.37,240.59 L271.53,241.04 L271.68,241.60 L271.84,242.29 L272.00,243.10 L272.16,244.02 L272.31,245.06 L272.47,246.21 L272.63,247.48 L272.79,248.84 L272.95,250.31 L273.10,251.89 L273.26,253.57 L273.42,255.35 L273.58,257.25 L273.74,259.28 L273.89,261.51 L274.05,264.30 L274.21,261.51 L274.37,259.28 L274.52,257.25 L274.68,255.35 L274.84,253.56 L275.00,251.89 L275.16,250.31 L275.31,248.84 L275.47,247.47 L275.63,246.21 L275.79,245.06 L275.94,244.01 L276.10,243.09 L276.26,242.28 L276.42,241.59 L276.58,241.02 L276.73,240.58 L276.89,240.26 L277.05,240.07 L277.21,240.01 L277.37,240.07 L277.52,240.26 L277.68,240.58 L277.84,241.02 L278.00,241.59 L278.15,242.28 L278.31,243.09 L278.47,244.02 L278.63,245.06 L278.79,246.22 L278.94,247.48 L279.10,248.85 L279.26,250.33 L279.42,251.91 L279.57,253.59 L279.73,255.38 L279.89,257.29 L280.05,259.33 L280.21,261.56 L280.36,264.36 L280.52,261.56 L280.68,259.33 L280.84,257.29 L281.00,255.38 L281.15,253.59 L281.31,251.91 L281.47,250.33 L281.63,248.85 L281.78,247.48 L281.94,246.21 L282.10,245.06 L282.26,244.01 L282.42,243.08 L282.57,242.27 L282.73,241.58 L282.89,241.01 L283.05,240.57 L283.20,240.25 L283.36,240.05 L283.52,239.99 L283.68,240.05 L283.84,240.25 L283.99,240.56 L284.15,241.01 L284.31,241.58 L284.47,242.27 L284.63,243.08 L284.78,244.02 L284.94,245.06 L285.10,246.22 L285.26,247.49 L285.41,248.87 L285.57,250.35 L285.73,251.93 L285.89,253.62 L286.05,255.42 L286.20,257.33 L286.36,259.37 L286.52,261.61 L286.68,264.42 L286.83,261.61 L286.99,259.37 L287.15,257.32 L287.31,255.41 L287.47,253.62 L287.62,251.93 L287.78,250.34 L287.94,248.86 L288.10,247.49 L288.26,246.22 L288.41,245.05 L288.57,244.01 L288.73,243.07 L288.89,242.26 L289.04,241.57 L289.20,241.00 L289.36,240.55 L289.52,240.23 L289.68,240.04 L289.83,239.97 L289.99,240.04 L290.15,240.23 L290.31,240.55 L290.46,241.00 L290.62,241.57 L290.78,242.26 L290.94,243.08 L291.10,244.01 L291.25,245.06 L291.41,246.22 L291.57,247.50 L291.73,248.88 L291.89,250.36 L292.04,251.95 L292.20,253.65 L292.36,255.45 L292.52,257.36 L292.67,259.42 L292.83,261.66 L292.99,264.48 L293.15,261.66 L293.31,259.42 L293.46,257.36 L293.62,255.45 L293.78,253.65 L293.94,251.95 L294.09,250.36 L294.25,248.87 L294.41,247.49 L294.57,246.22 L294.73,245.05 L294.88,244.00 L295.04,243.07 L295.20,242.25 L295.36,241.56 L295.52,240.98 L295.67,240.54 L295.83,240.22 L295.99,240.02 L296.15,239.96 L296.30,240.02 L296.46,240.21 L296.62,240.53 L296.78,240.98 L296.94,241.56 L297.09,242.25 L297.25,243.07 L297.41,244.01 L297.57,245.06 L297.72,246.23 L297.88,247.51 L298.04,248.89 L298.20,250.38 L298.36,251.98 L298.51,253.67 L298.67,255.48 L298.83,257.40 L298.99,259.46 L299.15,261.72 L299.30,264.54 L299.46,261.72 L299.62,259.46 L299.78,257.40 L299.93,255.48 L300.09,253.67 L300.25,251.97 L300.41,250.38 L300.57,248.89 L300.72,247.50 L300.88,246.22 L301.04,245.05 L301.20,244.00 L301.35,243.06 L301.51,242.24 L301.67,241.54 L301.83,240.97 L301.99,240.52 L302.14,240.20 L302.30,240.01 L302.46,239.94 L302.62,240.01 L302.78,240.20 L302.93,240.52 L303.09,240.97 L303.25,241.54 L303.41,242.24 L303.56,243.06 L303.72,244.00 L303.88,245.06 L304.04,246.23 L304.20,247.51 L304.35,248.90 L304.51,250.40 L304.67,252.00 L304.83,253.70 L304.98,255.51 L305.14,257.44 L305.30,259.51 L305.46,261.77 L305.62,264.61 L305.77,261.77 L305.93,259.51 L306.09,257.44 L306.25,255.51 L306.41,253.70 L306.56,251.99 L306.72,250.39 L306.88,248.90 L307.04,247.51 L307.19,246.23 L307.35,245.05 L307.51,244.00 L307.67,243.05 L307.83,242.23 L307.98,241.53 L308.14,240.96 L308.30,240.51 L308.46,240.18 L308.61,239.99 L308.77,239.92 L308.93,239.99 L309.09,240.18 L309.25,240.51 L309.40,240.96 L309.56,241.53 L309.72,242.23 L309.88,243.06 L310.04,244.00 L310.19,245.06 L310.35,246.23 L310.51,247.52 L310.67,248.91 L310.82,250.41 L310.98,252.02 L311.14,253.73 L311.30,255.55 L311.46,257.48 L311.61,259.55 L311.77,261.82 L311.93,264.67 L312.09,261.82 L312.24,259.55 L312.40,257.48 L312.56,255.54 L312.72,253.73 L312.88,252.02 L313.03,250.41 L313.19,248.91 L313.35,247.51 L313.51,246.23 L313.67,245.05 L313.82,243.99 L313.98,243.05 L314.14,242.22 L314.30,241.52 L314.45,240.94 L314.61,240.49 L314.77,240.17 L314.93,239.97 L315.09,239.91 L315.24,239.97 L315.40,240.17 L315.56,240.49 L315.72,240.94 L315.87,241.52 L316.03,242.22 L316.19,243.05 L316.35,244.00 L316.51,245.06 L316.66,246.24 L316.82,247.53 L316.98,248.93 L317.14,250.43 L317.30,252.04 L317.45,253.76 L317.61,255.58 L317.77,257.52 L317.93,259.60 L318.08,261.88 L318.24,264.73 L318.40,261.88 L318.56,259.60 L318.72,257.52 L318.87,255.58 L319.03,253.75 L319.19,252.04 L319.35,250.43 L319.50,248.92 L319.66,247.52 L319.82,246.23 L319.98,245.05 L320.14,243.99 L320.29,243.04 L320.45,242.21 L320.61,241.51 L320.77,240.93 L320.93,240.48 L321.08,240.15 L321.24,239.96 L321.40,239.89 L321.56,239.96 L321.71,240.15 L321.87,240.48 L322.03,240.93 L322.19,241.51 L322.35,242.22 L322.50,243.04 L322.66,243.99 L322.82,245.06 L322.98,246.24 L323.13,247.53 L323.29,248.94 L323.45,250.45 L323.61,252.06 L323.77,253.78 L323.92,255.61 L324.08,257.56 L324.24,259.64 L324.40,261.93 L324.56,264.79 L324.71,261.93 L324.87,259.64 L325.03,257.56 L325.19,255.61 L325.34,253.78 L325.50,252.06 L325.66,250.44 L325.82,248.93 L325.98,247.53 L326.13,246.24 L326.29,245.05 L326.45,243.98 L326.61,243.03 L326.76,242.20 L326.92,241.50 L327.08,240.92 L327.24,240.46 L327.40,240.14 L327.55,239.94 L327.71,239.87 L327.87,239.94 L328.03,240.14 L328.19,240.46 L328.34,240.92 L328.50,241.50 L328.66,242.21 L328.82,243.04 L328.97,243.99 L329.13,245.06 L329.29,246.24 L329.45,247.54 L329.61,248.95 L329.76,250.46 L329.92,252.08 L330.08,253.81 L330.24,255.64 L330.39,257.60 L330.55,259.69 L330.71,261.98 L330.87,264.85 L331.03,261.98 L331.18,259.69 L331.34,257.60 L331.50,255.64 L331.66,253.81 L331.81,252.08 L331.97,250.46 L332.13,248.95 L332.29,247.54 L332.45,246.24 L332.60,245.05 L332.76,243.98 L332.92,243.03 L333.08,242.20 L333.24,241.49 L333.39,240.90 L333.55,240.45 L333.71,240.12 L333.87,239.92 L334.02,239.86 L334.18,239.92 L334.34,240.12 L334.50,240.45 L334.66,240.90 L334.81,241.49 L334.97,242.20 L335.13,243.03 L335.29,243.99 L335.44,245.06 L335.60,246.25 L335.76,247.55 L335.92,248.96 L336.08,250.48 L336.23,252.11 L336.39,253.84 L336.55,255.68 L336.71,257.64 L336.87,259.73 L337.02,262.03 L337.18,264.91 L337.34,262.03 L337.50,259.73 L337.65,257.64 L337.81,255.68 L337.97,253.83 L338.13,252.10 L338.29,250.48 L338.44,248.96 L338.60,247.54 L338.76,246.24 L338.92,245.05 L339.07,243.98 L339.23,243.02 L339.39,242.19 L339.55,241.48 L339.71,240.89 L339.86,240.43 L340.02,240.10 L340.18,239.91 L340.34,239.84 L340.50,239.91 L340.65,240.10 L340.81,240.43 L340.97,240.89 L341.13,241.48 L341.28,242.19 L341.44,243.02 L341.60,243.98 L341.76,245.06 L341.92,246.25 L342.07,247.56 L342.23,248.97 L342.39,250.50 L342.55,252.13 L342.70,253.86 L342.86,255.71 L343.02,257.67 L343.18,259.78 L343.34,262.09 L343.49,264.98 L343.65,262.09 L343.81,259.78 L343.97,257.67 L344.13,255.71 L344.28,253.86 L344.44,252.12 L344.60,250.49 L344.76,248.97 L344.91,247.55 L345.07,246.25 L345.23,245.05 L345.39,243.97 L345.55,243.01 L345.70,242.18 L345.86,241.46 L346.02,240.88 L346.18,240.42 L346.33,240.09 L346.49,239.89 L346.65,239.82 L346.81,239.89 L346.97,240.09 L347.12,240.42 L347.28,240.88 L347.44,241.46 L347.60,242.18 L347.76,243.02 L347.91,243.98 L348.07,245.06 L348.23,246.25 L348.39,247.56 L348.54,248.98 L348.70,250.51 L348.86,252.15 L349.02,253.89 L349.18,255.74 L349.33,257.71 L349.49,259.83 L349.65,262.14 L349.81,265.04 L349.96,262.14 L350.12,259.83 L350.28,257.71 L350.44,255.74 L350.60,253.89 L350.75,252.15 L350.91,250.51 L351.07,248.98 L351.23,247.56 L351.39,246.25 L351.54,245.05 L351.70,243.97 L351.86,243.01 L352.02,242.17 L352.17,241.45 L352.33,240.86 L352.49,240.40 L352.65,240.07 L352.81,239.87 L352.96,239.81 L353.12,239.87 L353.28,240.07 L353.44,240.40 L353.59,240.86 L353.75,241.45 L353.91,242.17 L354.07,243.01 L354.23,243.97 L354.38,245.06 L354.54,246.26 L354.70,247.57 L354.86,249.00 L355.02,250.53 L355.17,252.17 L355.33,253.92 L355.49,255.78 L355.65,257.75 L355.80,259.87 L355.96,262.19 L356.12,265.10 L356.28,262.19 L356.44,259.87 L356.59,257.75 L356.75,255.77 L356.91,253.92 L357.07,252.17 L357.22,250.53 L357.38,248.99 L357.54,247.57 L357.70,246.25 L357.86,245.05 L358.01,243.97 L358.17,243.00 L358.33,242.16 L358.49,241.44 L358.65,240.85 L358.80,240.39 L358.96,240.06 L359.12,239.86 L359.28,239.79 L359.43,239.86 L359.59,240.06 L359.75,240.39 L359.91,240.85 L360.07,241.44 L360.22,242.16 L360.38,243.00 L360.54,243.97 L360.70,245.06 L360.85,246.26 L361.01,247.58 L361.17,249.01 L361.33,250.55 L361.49,252.19 L361.64,253.94 L361.80,255.81 L361.96,257.79 L362.12,259.92 L362.28,262.24 L362.43,265.16 L362.59,262.24 L362.75,259.92 L362.91,257.79 L363.06,255.81 L363.22,253.94 L363.38,252.19 L363.54,250.54 L363.70,249.00 L363.85,247.57 L364.01,246.26 L364.17,245.05 L364.33,243.96 L364.48,242.99 L364.64,242.15 L364.80,241.43 L364.96,240.84 L365.12,240.37 L365.27,240.04 L365.43,239.84 L365.59,239.78 L365.75,239.84 L365.91,240.04 L366.06,240.37 L366.22,240.84 L366.38,241.43 L366.54,242.15 L366.69,243.00 L366.85,243.97 L367.01,245.06 L367.17,246.26 L367.33,247.59 L367.48,249.02 L367.64,250.56 L367.80,252.21 L367.96,253.97 L368.11,255.84 L368.27,257.83 L368.43,259.96 L368.59,262.30 L368.75,265.22 L368.90,262.30 L369.06,259.96 L369.22,257.83 L369.38,255.84 L369.54,253.97 L369.69,252.21 L369.85,250.56 L370.01,249.02 L370.17,247.58 L370.32,246.26 L370.48,245.05 L370.64,243.96 L370.80,242.99 L370.96,242.14 L371.11,241.42 L371.27,240.82 L371.43,240.36 L371.59,240.03 L371.74,239.83 L371.90,239.76 L372.06,239.83 L372.22,240.03 L372.38,240.36 L372.53,240.82 L372.69,241.42 L372.85,242.14 L373.01,242.99 L373.17,243.96 L373.32,245.06 L373.48,246.27 L373.64,247.59 L373.80,249.03 L373.95,250.58 L374.11,252.23 L374.27,254.00 L374.43,255.87 L374.59,257.87 L374.74,260.01 L374.90,262.35 L375.06,265.28 L375.22,262.35 L375.37,260.01 L375.53,257.87 L375.69,255.87 L375.85,254.00 L376.01,252.23 L376.16,250.58 L376.32,249.03 L376.48,247.59 L376.64,246.26 L376.80,245.05 L376.95,243.96 L377.11,242.98 L377.27,242.13 L377.43,241.41 L377.58,240.81 L377.74,240.34 L377.90,240.01 L378.06,239.81 L378.22,239.74 L378.37,239.81 L378.53,240.01 L378.69,240.34 L378.85,240.81 L379.00,241.41 L379.16,242.13 L379.32,242.98 L379.48,243.96 L379.64,245.06 L379.79,246.27 L379.95,247.60 L380.11,249.04 L380.27,250.60 L380.43,252.26 L380.58,254.03 L380.74,255.91 L380.90,257.91 L381.06,260.05 L381.21,262.40 L381.37,265.34 L381.53,262.40 L381.69,260.05 L381.85,257.91 L382.00,255.91 L382.16,254.02 L382.32,252.25 L382.48,250.59 L382.63,249.04 L382.79,247.60 L382.95,246.27 L383.11,245.05 L383.27,243.95 L383.42,242.97 L383.58,242.12 L383.74,241.39 L383.90,240.80 L384.06,240.33 L384.21,239.99 L384.37,239.79 L384.53,239.73 L384.69,239.79 L384.84,239.99 L385.00,240.33 L385.16,240.80 L385.32,241.39 L385.48,242.12 L385.63,242.98 L385.79,243.96 L385.95,245.06 L386.11,246.28 L386.26,247.61 L386.42,249.06 L386.58,250.61 L386.74,252.28 L386.90,254.05 L387.05,255.94 L387.21,257.95 L387.37,260.10 L387.53,262.45 L387.69,265.41 L387.84,262.45 L388.00,260.10 L388.16,257.95 L388.32,255.94 L388.47,254.05 L388.63,252.28 L388.79,250.61 L388.95,249.05 L389.11,247.60 L389.26,246.27 L389.42,245.05 L389.58,243.95 L389.74,242.97 L389.89,242.11 L390.05,241.38 L390.21,240.78 L390.37,240.31 L390.53,239.98 L390.68,239.78 L390.84,239.71 L391.00,239.78 L391.16,239.98 L391.31,240.31 L391.47,240.78 L391.63,241.38 L391.79,242.11 L391.95,242.97 L392.10,243.95 L392.26,245.06 L392.42,246.28 L392.58,247.62 L392.74,249.07 L392.89,250.63 L393.05,252.30 L393.21,254.08 L393.37,255.97 L393.52,257.99 L393.68,260.14 L393.84,262.51 L394.00,265.47 L394.16,262.51 L394.31,260.14 L394.47,257.99 L394.63,255.97 L394.79,254.08 L394.94,252.30 L395.10,250.63 L395.26,249.06 L395.42,247.61 L395.58,246.27 L395.73,245.05 L395.89,243.94 L396.05,242.96 L396.21,242.10 L396.37,241.37 L396.52,240.77 L396.68,240.30 L396.84,239.96 L397.00,239.76 L397.15,239.69 L397.31,239.76 L397.47,239.96 L397.63,240.30 L397.79,240.77 L397.94,241.37 L398.10,242.10 L398.26,242.96 L398.42,243.95 L398.57,245.06 L398.73,246.28 L398.89,247.62 L399.05,249.08 L399.21,250.65 L399.36,252.32 L399.52,254.11 L399.68,256.00 L399.84,258.02 L400.00,260.19 L400.15,262.56 L400.31,265.53 L400.47,262.56 L400.63,260.19 L400.78,258.02 L400.94,256.00 L401.10,254.10 L401.26,252.32 L401.42,250.64 L401.57,249.08 L401.73,247.62 L401.89,246.28 L402.05,245.05 L402.20,243.94 L402.36,242.95 L402.52,242.09 L402.68,241.36 L402.84,240.76 L402.99,240.29 L403.15,239.95 L403.31,239.74 L403.47,239.68 L403.63,239.74 L403.78,239.95 L403.94,240.28 L404.10,240.76 L404.26,241.36 L404.41,242.09 L404.57,242.96 L404.73,243.95 L404.89,245.06 L405.05,246.29 L405.20,247.63 L405.36,249.09 L405.52,250.66 L405.68,252.34 L405.83,254.13 L405.99,256.04 L406.15,258.06 L406.31,260.23 L406.47,262.61 L406.62,265.59 L406.78,262.61 L406.94,260.23 L407.10,258.06 L407.26,256.04 L407.41,254.13 L407.57,252.34 L407.73,250.66 L407.89,249.09 L408.04,247.63 L408.20,246.28 L408.36,245.05 L408.52,243.94 L408.68,242.95 L408.83,242.08 L408.99,241.35 L409.15,240.74 L409.31,240.27 L409.46,239.93 L409.62,239.73 L409.78,239.66 L409.94,239.73 L410.10,239.93 L410.25,240.27 L410.41,240.74 L410.57,241.35 L410.73,242.09 L410.89,242.95 L411.04,243.94 L411.20,245.06 L411.36,246.29 L411.52,247.64 L411.67,249.10 L411.83,250.68 L411.99,252.36 L412.15,254.16 L412.31,256.07 L412.46,258.10 L412.62,260.28 L412.78,262.66 L412.94,265.65 L413.09,262.66 L413.25,260.28 L413.41,258.10 L413.57,256.07 L413.73,254.16 L413.88,252.36 L414.04,250.68 L414.20,249.10 L414.36,247.63 L414.52,246.28 L414.67,245.05 L414.83,243.93 L414.99,242.94 L415.15,242.08 L415.30,241.34 L415.46,240.73 L415.62,240.26 L415.78,239.92 L415.94,239.71 L416.09,239.64 L416.25,239.71 L416.41,239.91 L416.57,240.26 L416.72,240.73 L416.88,241.34 L417.04,242.08 L417.20,242.94 L417.36,243.94 L417.51,245.05 L417.67,246.29 L417.83,247.65 L417.99,249.11 L418.15,250.70 L418.30,252.39 L418.46,254.19 L418.62,256.10 L418.78,258.14 L418.93,260.33 L419.09,262.72 L419.25,265.71 L419.41,262.72 L419.57,260.32 L419.72,258.14 L419.88,256.10 L420.04,254.19 L420.20,252.38 L420.35,250.69 L420.51,249.11 L420.67,247.64 L420.83,246.29 L420.99,245.05 L421.14,243.93 L421.30,242.93 L421.46,242.07 L421.62,241.33 L421.78,240.72 L421.93,240.24 L422.09,239.90 L422.25,239.69 L422.41,239.63 L422.56,239.69 L422.72,239.90 L422.88,240.24 L423.04,240.72 L423.20,241.33 L423.35,242.07 L423.51,242.94 L423.67,243.94 L423.83,245.06 L423.98,246.30 L424.14,247.66 L424.30,249.13 L424.46,250.72 L424.62,252.41 L424.77,254.22 L424.93,256.14 L425.09,258.19 L425.25,260.38 L425.41,262.78 L425.56,265.79 L425.72,262.78 L425.88,260.38 L426.04,258.19 L426.19,256.14 L426.35,254.22 L426.51,252.41 L426.67,250.71 L426.83,249.13 L426.98,247.65 L427.14,246.29 L427.30,245.05 L427.46,243.93 L427.61,242.93 L427.77,242.06 L427.93,241.32 L428.09,240.70 L428.25,240.23 L428.40,239.88 L428.56,239.68 L428.72,239.61 L428.88,239.68 L429.04,239.88 L429.19,240.23 L429.35,240.70 L429.51,241.32 L429.67,242.06 L429.82,242.94 L429.98,243.94 L430.14,245.06 L430.30,246.31 L430.46,247.67 L430.61,249.15 L430.77,250.75 L430.93,252.45 L431.09,254.26 L431.24,256.19 L431.40,258.25 L431.56,260.45 L431.72,262.86 L431.88,265.88 L432.03,262.86 L432.19,260.45 L432.35,258.25 L432.51,256.19 L432.67,254.26 L432.82,252.45 L432.98,250.74 L433.14,249.15 L433.30,247.67 L433.45,246.30 L433.61,245.06 L433.77,243.93 L433.93,242.93 L434.09,242.05 L434.24,241.31 L434.40,240.69 L434.56,240.21 L434.72,239.87 L434.87,239.66 L435.03,239.59 L435.19,239.66 L435.35,239.87 L435.51,240.21 L435.66,240.69 L435.82,241.31 L435.98,242.05 L436.14,242.93 L436.30,243.94 L436.45,245.07 L436.61,246.32 L436.77,247.69 L436.93,249.18 L437.08,250.77 L437.24,252.48 L437.40,254.31 L437.56,256.24 L437.72,258.31 L437.87,260.52 L438.03,262.93 L438.19,265.97 L438.35,262.93 L438.50,260.52 L438.66,258.31 L438.82,256.24 L438.98,254.31 L439.14,252.48 L439.29,250.77 L439.45,249.17 L439.61,247.68 L439.77,246.31 L439.93,245.06 L440.08,243.93 L440.24,242.92 L440.40,242.04 L440.56,241.30 L440.71,240.68 L440.87,240.20 L441.03,239.85 L441.19,239.65 L441.35,239.58 L441.50,239.65 L441.66,239.85 L441.82,240.20 L441.98,240.68 L442.13,241.30 L442.29,242.05 L442.45,242.93 L442.61,243.94 L442.77,245.07 L442.92,246.33 L443.08,247.71 L443.24,249.20 L443.40,250.80 L443.56,252.52 L443.71,254.35 L443.87,256.29 L444.03,258.37 L444.19,260.58 L444.34,263.01 L444.50,266.06 L444.66,263.01 L444.82,260.58 L444.98,258.36 L445.13,256.29 L445.29,254.35 L445.45,252.52 L445.61,250.80 L445.76,249.19 L445.92,247.70 L446.08,246.32 L446.24,245.07 L446.40,243.93 L446.55,242.92 L446.71,242.04 L446.87,241.29 L447.03,240.67 L447.19,240.18 L447.34,239.84 L447.50,239.63 L447.66,239.56 L447.82,239.63 L447.97,239.84 L448.13,240.18 L448.29,240.67 L448.45,241.29 L448.61,242.04 L448.76,242.93 L448.92,243.94 L449.08,245.08 L449.24,246.34 L449.39,247.72 L449.55,249.22 L449.71,250.83 L449.87,252.56 L450.03,254.39 L450.18,256.35 L450.34,258.42 L450.50,260.65 L450.66,263.09 L450.82,266.15 L450.97,263.09 L451.13,260.65 L451.29,258.42 L451.45,256.34 L451.60,254.39 L451.76,252.55 L451.92,250.83 L452.08,249.22 L452.24,247.72 L452.39,246.33 L452.55,245.07 L452.71,243.93 L452.87,242.92 L453.02,242.03 L453.18,241.28 L453.34,240.66 L453.50,240.17 L453.66,239.82 L453.81,239.61 L453.97,239.54 L454.13,239.61 L454.29,239.82 L454.44,240.17 L454.60,240.65 L454.76,241.27 L454.92,242.03 L455.08,242.91 L455.23,243.93 L455.39,245.07 L455.55,246.33 L455.71,247.72 L455.87,249.22 L456.02,250.84 L456.18,252.57 L456.34,254.42 L456.50,256.38 L456.65,258.47 L456.81,260.71 L456.97,263.16 L457.13,266.24 L457.29,263.16 L457.44,260.71 L457.60,258.46 L457.76,256.37 L457.92,254.40 L458.07,252.55 L458.23,250.81 L458.39,249.19 L458.55,247.68 L458.71,246.28 L458.86,245.01 L459.02,243.86 L459.18,242.83 L459.34,241.94 L459.50,241.17 L459.65,240.54 L459.81,240.05 L459.97,239.70 L460.13,239.48 L460.28,239.41 L460.44,239.48 L460.60,239.68 L460.76,240.03 L460.92,240.52 L461.07,241.14 L461.23,241.90 L461.39,242.80 L461.55,243.82 L461.70,244.97 L461.86,246.25 L462.02,247.65 L462.18,249.16 L462.34,250.80 L462.49,252.54 L462.65,254.40 L462.81,256.38 L462.97,258.49 L463.13,260.75 L463.28,263.22 L463.44,266.33 L463.60,263.22 L463.76,260.75 L463.91,258.49 L464.07,256.37 L464.23,254.39 L464.39,252.52 L464.55,250.77 L464.70,249.13 L464.86,247.60 L465.02,246.20 L465.18,244.91 L465.33,243.75 L465.49,242.72 L465.65,241.81 L465.81,241.04 L465.97,240.41 L466.12,239.91 L466.28,239.56 L466.44,239.34 L466.60,239.27 L466.76,239.33 L466.91,239.54 L467.07,239.89 L467.23,240.39 L467.39,241.02 L467.54,241.78 L467.70,242.68 L467.86,243.72 L468.02,244.88 L468.18,246.17 L468.33,247.58 L468.49,249.11 L468.65,250.75 L468.81,252.51 L468.96,254.39 L469.12,256.39 L469.28,258.51 L469.44,260.79 L469.60,263.29 L469.75,266.42 L469.91,263.29 L470.07,260.79 L470.23,258.51 L470.39,256.38 L470.54,254.38 L470.70,252.49 L470.86,250.72 L471.02,249.07 L471.17,247.53 L471.33,246.11 L471.49,244.82 L471.65,243.65 L471.81,242.60 L471.96,241.69 L472.12,240.92 L472.28,240.28 L472.44,239.77 L472.59,239.41 L472.75,239.20 L472.91,239.12 L473.07,239.19 L473.23,239.40 L473.38,239.76 L473.54,240.25 L473.70,240.89 L473.86,241.66 L474.02,242.57 L474.17,243.61 L474.33,244.78 L474.49,246.08 L474.65,247.50 L474.80,249.05 L474.96,250.71 L475.12,252.48 L475.28,254.38 L475.44,256.39 L475.59,258.54 L475.75,260.83 L475.91,263.35 L476.07,266.51 L476.22,263.35 L476.38,260.83 L476.54,258.53 L476.70,256.38 L476.86,254.36 L477.01,252.46 L477.17,250.68 L477.33,249.01 L477.49,247.46 L477.65,246.03 L477.80,244.72 L477.96,243.54 L478.12,242.49 L478.28,241.57 L478.43,240.79 L478.59,240.14 L478.75,239.64 L478.91,239.27 L479.07,239.05 L479.22,238.98 L479.38,239.05 L479.54,239.26 L479.70,239.62 L479.85,240.12 L480.01,240.76 L480.17,241.54 L480.33,242.46 L480.49,243.51 L480.64,244.69 L480.80,246.00 L480.96,247.43 L481.12,248.99 L481.28,250.66 L481.43,252.45 L481.59,254.36 L481.75,256.40 L481.91,258.56 L482.06,260.88 L482.22,263.41 L482.38,266.59 L482.54,263.41 L482.70,260.87 L482.85,258.55 L483.01,256.39 L483.17,254.35 L483.33,252.43 L483.48,250.63 L483.64,248.95 L483.80,247.39 L483.96,245.94 L484.12,244.63 L484.27,243.44 L484.43,242.37 L484.59,241.45 L484.75,240.66 L484.91,240.01 L485.06,239.50 L485.22,239.13 L485.38,238.91 L485.54,238.83 L485.69,238.90 L485.85,239.12 L486.01,239.48 L486.17,239.98 L486.33,240.63 L486.48,241.42 L486.64,242.34 L486.80,243.40 L486.96,244.59 L487.11,245.91 L487.27,247.36 L487.43,248.93 L487.59,250.62 L487.75,252.43 L487.90,254.35 L488.06,256.40 L488.22,258.58 L488.38,260.92 L488.54,263.48 L488.69,266.68 L488.85,263.48 L489.01,260.91 L489.17,258.57 L489.32,256.39 L489.48,254.34 L489.64,252.40 L489.80,250.59 L489.96,248.89 L490.11,247.32 L490.27,245.86 L490.43,244.53 L490.59,243.33 L490.74,242.26 L490.90,241.33 L491.06,240.53 L491.22,239.87 L491.38,239.36 L491.53,238.99 L491.69,238.77 L491.85,238.69 L492.01,238.76 L492.17,238.98 L492.32,239.34 L492.48,239.85 L492.64,240.50 L492.80,241.30 L492.95,242.23 L493.11,243.30 L493.27,244.50 L493.43,245.83 L493.59,247.29 L493.74,248.87 L493.90,250.57 L494.06,252.40 L494.22,254.34 L494.37,256.40 L494.53,258.60 L494.69,260.96 L494.85,263.54 L495.01,266.77 L495.16,263.54 L495.32,260.96 L495.48,258.60 L495.64,256.39 L495.80,254.32 L495.95,252.37 L496.11,250.54 L496.27,248.83 L496.43,247.24 L496.58,245.78 L496.74,244.44 L496.90,243.22 L497.06,242.15 L497.22,241.20 L497.37,240.40 L497.53,239.74 L497.69,239.22 L497.85,238.85 L498.00,238.63 L498.16,238.55 L498.32,238.62 L498.48,238.84 L498.64,239.20 L498.79,239.72 L498.95,240.37 L499.11,241.17 L499.27,242.11 L499.43,243.19 L499.58,244.40 L499.74,245.75 L499.90,247.22 L500.06,248.81 L500.21,250.53 L500.37,252.37 L500.53,254.32 L500.69,256.41 L500.85,258.62 L501.00,261.00 L501.16,263.60 L501.32,266.86 L501.48,263.60 L501.63,261.00 L501.79,258.62 L501.95,256.40 L502.11,254.31 L502.27,252.34 L502.42,250.50 L502.58,248.78 L502.74,247.17 L502.90,245.69 L503.06,244.34 L503.21,243.12 L503.37,242.03 L503.53,241.08 L503.69,240.27 L503.84,239.61 L504.00,239.08 L504.16,238.71 L504.32,238.48 L504.48,238.40 L504.63,238.48 L504.79,238.70 L504.95,239.07 L505.11,239.58 L505.26,240.25 L505.42,241.05 L505.58,242.00 L505.74,243.09 L505.90,244.31 L506.05,245.66 L506.21,247.14 L506.37,248.75 L506.53,250.48 L506.69,252.34 L506.84,254.31 L507.00,256.41 L507.16,258.65 L507.32,261.04 L507.47,263.66 L507.63,266.95 L507.79,263.66 L507.95,261.04 L508.11,258.64 L508.26,256.40 L508.42,254.30 L508.58,252.31 L508.74,250.46 L508.89,248.72 L509.05,247.10 L509.21,245.61 L509.37,244.25 L509.53,243.01 L509.68,241.92 L509.84,240.96 L510.00,240.14 L510.16,239.47 L510.32,238.95 L510.47,238.57 L510.63,238.34 L510.79,238.26 L510.95,238.33 L511.10,238.55 L511.26,238.93 L511.42,239.45 L511.58,240.12 L511.74,240.93 L511.89,241.89 L512.05,242.98 L512.21,244.21 L512.37,245.58 L512.52,247.07 L512.68,248.69 L512.84,250.44 L513.00,252.31 L513.16,254.30 L513.31,256.41 L513.47,258.67 L513.63,261.08 L513.79,263.73 L513.95,267.04 L514.10,263.73 L514.26,261.08 L514.42,258.66 L514.58,256.40 L514.73,254.28 L514.89,252.29 L515.05,250.41 L515.21,248.66 L515.37,247.03 L515.52,245.52 L515.68,244.15 L515.84,242.91 L516.00,241.80 L516.15,240.84 L516.31,240.02 L516.47,239.34 L516.63,238.81 L516.79,238.43 L516.94,238.20 L517.10,238.12 L517.26,238.19 L517.42,238.41 L517.57,238.79 L517.73,239.32 L517.89,239.99 L518.05,240.81 L518.21,241.78 L518.36,242.88 L518.52,244.13 L518.68,245.50 L518.84,247.01 L519.00,248.65 L519.15,250.41 L519.31,252.29 L519.47,254.29 L519.63,256.43 L519.78,258.70 L519.94,261.13 L520.10,263.79 L520.26,267.13 L520.42,263.79 L520.57,261.13 L520.73,258.69 L520.89,256.42 L521.05,254.29 L521.20,252.28 L521.36,250.39 L521.52,248.63 L521.68,246.99 L521.84,245.48 L521.99,244.10 L522.15,242.85 L522.31,241.74 L522.47,240.77 L522.63,239.94 L522.78,239.26 L522.94,238.73 L523.10,238.35 L523.26,238.12 L523.41,238.04 L523.57,238.11 L523.73,238.34 L523.89,238.72 L524.05,239.25 L524.20,239.93 L524.36,240.76 L524.52,241.73 L524.68,242.84 L524.83,244.09 L524.99,245.47 L525.15,246.99 L525.31,248.63 L525.47,250.40 L525.62,252.30 L525.78,254.31 L525.94,256.46 L526.10,258.74 L526.26,261.19 L526.41,263.87 L526.57,267.22 L526.73,263.86 L526.89,261.18 L527.04,258.74 L527.20,256.45 L527.36,254.30 L527.52,252.28 L527.68,250.39 L527.83,248.61 L527.99,246.97 L528.15,245.45 L528.31,244.06 L528.46,242.80 L528.62,241.69 L528.78,240.71 L528.94,239.88 L529.10,239.20 L529.25,238.66 L529.41,238.28 L529.57,238.05 L529.73,237.97 L529.89,238.04 L530.04,238.27 L530.20,238.65 L530.36,239.19 L530.52,239.87 L530.67,240.70 L530.83,241.68 L530.99,242.79 L531.15,244.05 L531.31,245.44 L531.46,246.97 L531.62,248.62 L531.78,250.40 L531.94,252.30 L532.09,254.33 L532.25,256.49 L532.41,258.78 L532.57,261.24 L532.73,263.94 L532.88,267.31 L533.04,263.94 L533.20,261.24 L533.36,258.78 L533.52,256.48 L533.67,254.32 L533.83,252.29 L533.99,250.38 L534.15,248.60 L534.30,246.94 L534.46,245.42 L534.62,244.02 L534.78,242.76 L534.94,241.63 L535.09,240.65 L535.25,239.82 L535.41,239.13 L535.57,238.59 L535.72,238.21 L535.88,237.97 L536.04,237.90 L536.20,237.97 L536.36,238.20 L536.51,238.59 L536.67,239.12 L536.83,239.81 L536.99,240.64 L537.15,241.62 L537.30,242.75 L537.46,244.01 L537.62,245.41 L537.78,246.94 L537.93,248.61 L538.09,250.40 L538.25,252.31 L538.41,254.35 L538.57,256.52 L538.72,258.83 L538.88,261.30 L539.04,264.01 L539.20,267.40 L539.35,264.01 L539.51,261.30 L539.67,258.82 L539.83,256.51 L539.99,254.34 L540.14,252.30 L540.30,250.38 L540.46,248.59 L540.62,246.92 L540.78,245.38 L540.93,243.98 L541.09,242.71 L541.25,241.58 L541.41,240.60 L541.56,239.76 L541.72,239.07 L541.88,238.53 L542.04,238.14 L542.20,237.90 L542.35,237.82 L542.51,237.90 L542.67,238.13 L542.83,238.52 L542.98,239.06 L543.14,239.75 L543.30,240.59 L543.46,241.57 L543.62,242.70 L543.77,243.97 L543.93,245.38 L544.09,246.92 L544.25,248.59 L544.41,250.39 L544.56,252.32 L544.72,254.37 L544.88,256.55 L545.04,258.87 L545.19,261.36 L545.35,264.08 L545.51,267.49 L545.67,264.08 L545.83,261.35 L545.98,258.87 L546.14,256.54 L546.30,254.36 L546.46,252.31 L546.61,250.38 L546.77,248.57 L546.93,246.90 L547.09,245.35 L547.25,243.94 L547.40,242.67 L547.56,241.53 L547.72,240.54 L547.88,239.70 L548.04,239.00 L548.19,238.46 L548.35,238.07 L548.51,237.83 L548.67,237.75 L548.82,237.83 L548.98,238.06 L549.14,238.45 L549.30,238.99 L549.46,239.69 L549.61,240.53 L549.77,241.53 L549.93,242.66 L550.09,243.94 L550.24,245.36 L550.40,246.91 L550.56,248.59 L550.72,250.40 L550.88,252.34 L551.03,254.40 L551.19,256.60 L551.35,258.94 L551.51,261.44 L551.67,264.18 L551.82,267.62 L551.98,264.18 L552.14,261.44 L552.30,258.93 L552.45,256.59 L552.61,254.40 L552.77,252.33 L552.93,250.39 L553.09,248.57 L553.24,246.89 L553.40,245.33 L553.56,243.91 L553.72,242.63 L553.87,241.49 L554.03,240.49 L554.19,239.64 L554.35,238.94 L554.51,238.39 L554.66,238.00 L554.82,237.76 L554.98,237.68 L555.14,237.76 L555.30,237.99 L555.45,238.38 L555.61,238.93 L555.77,239.63 L555.93,240.48 L556.08,241.48 L556.24,242.63 L556.40,243.92 L556.56,245.35 L556.72,246.91 L556.87,248.61 L557.03,250.43 L557.19,252.39 L557.35,254.47 L557.50,256.68 L557.66,259.03 L557.82,261.56 L557.98,264.32 L558.14,267.78 L558.29,264.32 L558.45,261.56 L558.61,259.03 L558.77,256.67 L558.93,254.46 L559.08,252.38 L559.24,250.42 L559.40,248.59 L559.56,246.89 L559.71,245.32 L559.87,243.89 L560.03,242.60 L560.19,241.44 L560.35,240.44 L560.50,239.58 L560.66,238.88 L560.82,238.32 L560.98,237.93 L561.13,237.69 L561.29,237.61 L561.45,237.69 L561.61,237.92 L561.77,238.32 L561.92,238.87 L562.08,239.58 L562.24,240.43 L562.40,241.44 L562.56,242.60 L562.71,243.90 L562.87,245.34 L563.03,246.91 L563.19,248.62 L563.34,250.46 L563.50,252.43 L563.66,254.53 L563.82,256.76 L563.98,259.13 L564.13,261.68 L564.29,264.46 L564.45,267.95 L564.61,264.46 L564.76,261.68 L564.92,259.13 L565.08,256.75 L565.24,254.52 L565.40,252.42 L565.55,250.45 L565.71,248.61 L565.87,246.89 L566.03,245.31 L566.19,243.87 L566.34,242.56 L566.50,241.40 L566.66,240.39 L566.82,239.52 L566.97,238.81 L567.13,238.26 L567.29,237.86 L567.45,237.62 L567.61,237.54 L567.76,237.62 L567.92,237.85 L568.08,238.25 L568.24,238.81 L568.39,239.52 L568.55,240.39 L568.71,241.40 L568.87,242.57 L569.03,243.88 L569.18,245.33 L569.34,246.92 L569.50,248.64 L569.66,250.49 L569.82,252.48 L569.97,254.59 L570.13,256.84 L570.29,259.23 L570.45,261.80 L570.60,264.60 L570.76,268.12 L570.92,264.60 L571.08,261.79 L571.24,259.23 L571.39,256.83 L571.55,254.58 L571.71,252.47 L571.87,250.48 L572.02,248.62 L572.18,246.89 L572.34,245.30 L572.50,243.85 L572.66,242.53 L572.81,241.36 L572.97,240.34 L573.13,239.47 L573.29,238.75 L573.45,238.19 L573.60,237.79 L573.76,237.55 L573.92,237.47 L574.08,237.54 L574.23,237.78 L574.39,238.19 L574.55,238.75 L574.71,239.46 L574.87,240.34 L575.02,241.36 L575.18,242.53 L575.34,243.86 L575.50,245.32 L575.65,246.92 L575.81,248.66 L575.97,250.52 L576.13,252.52 L576.29,254.65 L576.44,256.92 L576.60,259.33 L576.76,261.92 L576.92,264.74 L577.08,268.29 L577.23,264.74 L577.39,261.91 L577.55,259.33 L577.71,256.91 L577.86,254.65 L578.02,252.51 L578.18,250.51 L578.34,248.64 L578.50,246.90 L578.65,245.29 L578.81,243.82 L578.97,242.50 L579.13,241.32 L579.28,240.29 L579.44,239.41 L579.60,238.69 L579.76,238.13 L579.92,237.72 L580.07,237.48 L580.23,237.39 L580.39,237.47 L580.55,237.72 L580.71,238.12 L580.86,238.68 L581.02,239.41 L581.18,240.29 L581.34,241.32 L581.49,242.51 L581.65,243.84 L581.81,245.31 L581.97,246.92 L582.13,248.67 L582.28,250.56 L582.44,252.57 L582.60,254.72 L582.76,257.00 L582.91,259.43 L583.07,262.04 L583.23,264.89 L583.39,268.46 L583.55,264.89 L583.70,262.04 L583.86,259.43 L584.02,257.00 L584.18,254.72 L584.33,252.57 L584.49,250.55 L584.65,248.66 L584.81,246.91 L584.97,245.29 L585.12,243.82 L585.28,242.48 L585.44,241.29 L585.60,240.26 L585.76,239.37 L585.91,238.65 L586.07,238.08 L586.23,237.67 L586.39,237.43 L586.54,237.34 L586.70,237.42 L586.86,237.67 L587.02,238.08 L587.18,238.65 L587.33,239.37 L587.49,240.26 L587.65,241.30 L587.81,242.49 L587.96,243.83 L588.12,245.32 L588.28,246.94 L588.44,248.71 L588.60,250.60 L588.75,252.63 L588.91,254.79 L589.07,257.09 L589.23,259.54 L589.39,262.16 L589.54,265.03 L589.70,268.63 L589.86,265.03 L590.02,262.16 L590.17,259.54 L590.33,257.09 L590.49,254.79 L590.65,252.62 L590.81,250.59 L590.96,248.69 L591.12,246.93 L591.28,245.30 L591.44,243.81 L591.59,242.47 L591.75,241.27 L591.91,240.23 L592.07,239.34 L592.23,238.61 L592.38,238.04 L592.54,237.63 L592.70,237.38 L592.86,237.30 L593.02,237.38 L593.17,237.62 L593.33,238.03 L593.49,238.61 L593.65,239.34 L593.80,240.23 L593.96,241.28 L594.12,242.48 L594.28,243.83 L594.44,245.33 L594.59,246.96 L594.75,248.74 L594.91,250.65 L595.07,252.69 L595.22,254.87 L595.38,257.18 L595.54,259.64 L595.70,262.28 L595.86,265.18 L596.01,268.80 L596.17,265.17 L596.33,262.28 L596.49,259.64 L596.65,257.18 L596.80,254.86 L596.96,252.68 L597.12,250.64 L597.28,248.72 L597.43,246.95 L597.59,245.31 L597.75,243.81 L597.91,242.46 L598.07,241.25 L598.22,240.20 L598.38,239.31 L598.54,238.57 L598.70,237.99 L598.85,237.58 L599.01,237.33 L599.17,237.25 L599.33,237.33 L599.49,237.58 L599.64,237.99 L599.80,238.57 L599.96,239.31 L600.12,240.21 L600.28,241.26 L600.43,242.47 L600.59,243.83 L600.75,245.33 L600.91,246.98 L601.06,248.77 L601.22,250.69 L601.38,252.75 L601.54,254.94 L601.70,257.27 L601.85,259.75 L602.01,262.41 L602.17,265.32 L602.33,268.97 L602.48,265.32 L602.64,262.41 L602.80,259.75 L602.96,257.27 L603.12,254.93 L603.27,252.74 L603.43,250.68 L603.59,248.75 L603.75,246.97 L603.91,245.31 L604.06,243.81 L604.22,242.44 L604.38,241.23 L604.54,240.17 L604.69,239.27 L604.85,238.53 L605.01,237.95 L605.17,237.54 L605.33,237.28 L605.48,237.20 L605.64,237.28 L605.80,237.53 L605.96,237.95 L606.11,238.54 L606.27,239.29 L606.43,240.20 L606.59,241.27 L606.75,242.50 L606.90,243.88 L607.06,245.41 L607.22,247.08 L607.38,248.89 L607.54,250.84 L607.69,252.93 L607.85,255.16 L608.01,257.52 L608.17,260.04 L608.32,262.74 L608.48,265.69 L608.64,269.40 L608.80,265.69 L608.96,262.74 L609.11,260.04 L609.27,257.52 L609.43,255.15 L609.59,252.92 L609.74,250.83 L609.90,248.88 L610.06,247.06 L610.22,245.39 L610.38,243.86 L610.53,242.48 L610.69,241.25 L610.85,240.17 L611.01,239.26 L611.17,238.50 L611.32,237.91 L611.48,237.49 L611.64,237.24 L611.80,237.15 L611.95,237.24 L612.11,237.49 L612.27,237.92 L612.43,238.51 L612.59,239.27 L612.74,240.20 L612.90,241.29 L613.06,242.53 L613.22,243.93 L613.37,245.48 L613.53,247.18 L613.69,249.02 L613.85,251.01 L614.01,253.13 L614.16,255.39 L614.32,257.79 L614.48,260.35 L614.64,263.08 L614.80,266.08 L614.95,269.84 L615.11,266.08 L615.27,263.08 L615.43,260.34 L615.58,257.79 L615.74,255.38 L615.90,253.12 L616.06,251.00 L616.22,249.01 L616.37,247.17 L616.53,245.47 L616.69,243.91 L616.85,242.51 L617.00,241.26 L617.16,240.17 L617.32,239.24 L617.48,238.48 L617.64,237.88 L617.79,237.45 L617.95,237.19 L618.11,237.10 L618.27,237.19 L618.43,237.45 L618.58,237.88 L618.74,238.49 L618.90,239.26 L619.06,240.20 L619.21,241.30 L619.37,242.57 L619.53,243.99 L619.69,245.56 L619.85,247.29 L620.00,249.16 L620.16,251.17 L620.32,253.32 L620.48,255.62 L620.63,258.05 L620.79,260.65 L620.95,263.43 L621.11,266.48 L621.27,270.29 L621.42,266.48 L621.58,263.43 L621.74,260.65 L621.90,258.05 L622.06,255.61 L622.21,253.31 L622.37,251.16 L622.53,249.15 L622.69,247.27 L622.84,245.55 L623.00,243.97 L623.16,242.54 L623.32,241.28 L623.48,240.17 L623.63,239.23 L623.79,238.45 L623.95,237.84 L624.11,237.41 L624.26,237.14 L624.42,237.06 L624.58,237.14 L624.74,237.41 L624.90,237.85 L625.05,238.46 L625.21,239.24 L625.37,240.20 L625.53,241.32 L625.69,242.60 L625.84,244.04 L626.00,245.64 L626.16,247.39 L626.32,249.29 L626.47,251.33 L626.63,253.52 L626.79,255.85 L626.95,258.32 L627.11,260.95 L627.26,263.78 L627.42,266.87 L627.58,270.74 L627.74,266.87 L627.89,263.78 L628.05,260.95 L628.21,258.32 L628.37,255.84 L628.53,253.51 L628.68,251.32 L628.84,249.28 L629.00,247.38 L629.16,245.62 L629.32,244.02 L629.47,242.58 L629.63,241.29 L629.79,240.17 L629.95,239.21 L630.10,238.42 L630.26,237.81 L630.42,237.36 L630.58,237.10 L630.74,237.01 L630.89,237.11 L631.05,237.41 L631.21,237.90 L631.37,238.59 L631.52,239.48 L631.68,240.56 L631.84,241.83 L632.00,243.28 L632.16,244.91 L632.31,246.72 L632.47,248.70 L632.63,250.84 L632.79,253.15 L632.95,255.62 L633.10,258.25 L633.26,261.05 L633.42,264.03 L633.58,267.22 L633.73,270.71 L633.89,275.09 L634.05,270.71 L634.21,267.22 L634.37,264.03 L634.52,261.05 L634.68,258.25 L634.84,255.61 L635.00,253.14 L635.15,250.83 L635.31,248.68 L635.47,246.70 L635.63,244.89 L635.79,243.25 L635.94,241.80 L636.10,240.53 L636.26,239.45 L636.42,238.56 L636.58,237.86 L636.73,237.36 L636.89,237.06 L637.05,236.96 L637.21,237.06 L637.36,237.38 L637.52,237.90 L637.68,238.63 L637.84,239.57 L638.00,240.70 L638.15,242.04 L638.31,243.57 L638.47,245.29 L638.63,247.19 L638.78,249.28 L638.94,251.54 L639.10,253.97 L639.26,256.58 L639.42,259.35 L639.57,262.30 L639.73,265.44 L639.89,268.80 L640.05,272.49 L640.21,277.10 L640.36,272.49 L640.52,268.80 L640.68,265.44 L640.84,262.30 L640.99,259.35 L641.15,256.57 L641.31,253.96 L641.47,251.53 L641.63,249.26 L641.78,247.18 L641.94,245.27 L642.10,243.55 L642.26,242.01 L642.41,240.67 L642.57,239.53 L642.73,238.60 L642.89,237.86 L643.05,237.34 L643.20,237.02 L643.36,236.91 L643.52,237.03 L643.68,237.37 L643.84,237.94 L643.99,238.74 L644.15,239.77 L644.31,241.02 L644.47,242.48 L644.62,244.15 L644.78,246.04 L644.94,248.13 L645.10,250.41 L645.26,252.89 L645.41,255.55 L645.57,258.41 L645.73,261.44 L645.89,264.68 L646.04,268.11 L646.20,271.80 L646.36,275.83 L646.52,280.89 L646.68,275.83 L646.83,271.80 L646.99,268.11 L647.15,264.67 L647.31,261.44 L647.46,258.40 L647.62,255.54 L647.78,252.87 L647.94,250.39 L648.10,248.11 L648.25,246.02 L648.41,244.13 L648.57,242.45 L648.73,240.99 L648.89,239.74 L649.04,238.71 L649.20,237.90 L649.36,237.33 L649.52,236.98 L649.67,236.87 L649.83,236.97 L649.99,237.31 L650.15,237.86 L650.31,238.63 L650.46,239.61 L650.62,240.81 L650.78,242.22 L650.94,243.83 L651.09,245.65 L651.25,247.66 L651.41,249.86 L651.57,252.24 L651.73,254.81 L651.88,257.55 L652.04,260.48 L652.20,263.59 L652.36,266.90 L652.52,270.44 L652.67,274.33 L652.83,279.19 L652.99,274.33 L653.15,270.44 L653.30,266.89 L653.46,263.58 L653.62,260.47 L653.78,257.54 L653.94,254.80 L654.09,252.23 L654.25,249.84 L654.41,247.64 L654.57,245.63 L654.72,243.81 L654.88,242.19 L655.04,240.78 L655.20,239.58 L655.36,238.59 L655.51,237.82 L655.67,237.26 L655.83,236.93 L655.99,236.82 L656.15,236.92 L656.30,237.23 L656.46,237.75 L656.62,238.48 L656.78,239.41 L656.93,240.54 L657.09,241.86 L657.25,243.39 L657.41,245.09 L657.57,246.99 L657.72,249.06 L657.88,251.31 L658.04,253.72 L658.20,256.31 L658.35,259.07 L658.51,262.00 L658.67,265.12 L658.83,268.46 L658.99,272.12 L659.14,276.71 L659.30,272.12 L659.46,268.46 L659.62,265.12 L659.78,262.00 L659.93,259.06 L660.09,256.30 L660.25,253.71 L660.41,251.29 L660.56,249.04 L660.72,246.97 L660.88,245.07 L661.04,243.36 L661.20,241.84 L661.35,240.51 L661.51,239.37 L661.67,238.44 L661.83,237.71 L661.98,237.19 L662.14,236.88 L662.30,236.77 L662.46,236.88 L662.62,237.21 L662.77,237.76 L662.93,238.52 L663.09,239.50 L663.25,240.69 L663.41,242.09 L663.56,243.70 L663.72,245.50 L663.88,247.50 L664.04,249.68 L664.19,252.05 L664.35,254.60 L664.51,257.33 L664.67,260.24 L664.83,263.33 L664.98,266.62 L665.14,270.15 L665.30,274.01 L665.46,278.84 L665.61,274.00 L665.77,270.14 L665.93,266.62 L666.09,263.33 L666.25,260.23 L666.40,257.32 L666.56,254.59 L666.72,252.04 L666.88,249.67 L667.04,247.48 L667.19,245.48 L667.35,243.67 L667.51,242.07 L667.67,240.66 L667.82,239.47 L667.98,238.48 L668.14,237.72 L668.30,237.17 L668.46,236.83 L668.61,236.72 L668.77,236.83 L668.93,237.14 L669.09,237.67 L669.24,238.41 L669.40,239.36 L669.56,240.51 L669.72,241.87 L669.88,243.41 L670.03,245.16 L670.19,247.08 L670.35,249.20 L670.51,251.49 L670.67,253.95 L670.82,256.59 L670.98,259.40 L671.14,262.38 L671.30,265.56 L671.45,268.97 L671.61,272.70 L671.77,277.37 L671.93,272.70 L672.09,268.97 L672.24,265.56 L672.40,262.38 L672.56,259.39 L672.72,256.58 L672.87,253.94 L673.03,251.47 L673.19,249.18 L673.35,247.07 L673.51,245.14 L673.66,243.39 L673.82,241.84 L673.98,240.48 L674.14,239.33 L674.30,238.38 L674.45,237.63 L674.61,237.10 L674.77,236.78 L674.93,236.67 L675.08,236.78 L675.24,237.10 L675.40,237.62" stroke="#E0242B" stroke-width="1.35" fill="none" stroke-linejoin="round" stroke-linecap="round" />
<rect x="44.0" y="189.9" width="631.4" height="116.79999999999998" fill="none" stroke="#262626" stroke-width="1.4"/>
<line x1="41.00" y1="297.70" x2="44.00" y2="297.70" stroke="#262626" stroke-width="1.2" />
<text x="38.30" y="300.70" font-size="8.7" text-anchor="end" fill="#000" >0</text>
<line x1="42.40" y1="279.75" x2="44.00" y2="279.75" stroke="#262626" stroke-width="1" />
<line x1="41.00" y1="261.80" x2="44.00" y2="261.80" stroke="#262626" stroke-width="1.2" />
<text x="38.30" y="264.80" font-size="8.7" text-anchor="end" fill="#000" >1</text>
<line x1="42.40" y1="243.85" x2="44.00" y2="243.85" stroke="#262626" stroke-width="1" />
<line x1="41.00" y1="225.90" x2="44.00" y2="225.90" stroke="#262626" stroke-width="1.2" />
<text x="38.30" y="228.90" font-size="8.7" text-anchor="end" fill="#000" >2</text>
<line x1="42.40" y1="207.95" x2="44.00" y2="207.95" stroke="#262626" stroke-width="1" />
<line x1="41.00" y1="190.00" x2="44.00" y2="190.00" stroke="#262626" stroke-width="1.2" />
<text x="38.30" y="193.00" font-size="8.7" text-anchor="end" fill="#000" >3</text>
<line x1="44.10" y1="306.70" x2="44.10" y2="309.70" stroke="#262626" stroke-width="1.2" />
<text x="44.10" y="318.00" font-size="8.7" text-anchor="middle" fill="#000" >0</text>
<line x1="107.23" y1="306.70" x2="107.23" y2="308.30" stroke="#262626" stroke-width="1" />
<line x1="170.36" y1="306.70" x2="170.36" y2="309.70" stroke="#262626" stroke-width="1.2" />
<text x="170.36" y="318.00" font-size="8.7" text-anchor="middle" fill="#000" >400</text>
<line x1="233.49" y1="306.70" x2="233.49" y2="308.30" stroke="#262626" stroke-width="1" />
<line x1="296.62" y1="306.70" x2="296.62" y2="309.70" stroke="#262626" stroke-width="1.2" />
<text x="296.62" y="318.00" font-size="8.7" text-anchor="middle" fill="#000" >800</text>
<line x1="359.75" y1="306.70" x2="359.75" y2="308.30" stroke="#262626" stroke-width="1" />
<line x1="422.88" y1="306.70" x2="422.88" y2="309.70" stroke="#262626" stroke-width="1.2" />
<text x="422.88" y="318.00" font-size="8.7" text-anchor="middle" fill="#000" >1200</text>
<line x1="486.01" y1="306.70" x2="486.01" y2="308.30" stroke="#262626" stroke-width="1" />
<line x1="549.14" y1="306.70" x2="549.14" y2="309.70" stroke="#262626" stroke-width="1.2" />
<text x="549.14" y="318.00" font-size="8.7" text-anchor="middle" fill="#000" >1600</text>
<line x1="612.27" y1="306.70" x2="612.27" y2="308.30" stroke="#262626" stroke-width="1" />
<line x1="675.40" y1="306.70" x2="675.40" y2="309.70" stroke="#262626" stroke-width="1.2" />
<text x="675.40" y="318.00" font-size="8.7" text-anchor="middle" fill="#000" >2000</text>
<text x="359.70" y="326.10" font-size="11.1" text-anchor="middle" fill="#000" >Time (h)</text>
<text transform="translate(27.5,247.8) rotate(-90)" font-size="9.9" text-anchor="middle">Voltage (V)</text>
<line x1="193.90" y1="206.90" x2="215.20" y2="206.90" stroke="#E0242B" stroke-width="1.4" />
<text x="219.20" y="209.70" font-size="9.9" text-anchor="start" fill="#000" >ZA<tspan font-size="6.73" dy="2.97">3</tspan><tspan dy="-2.97">N</tspan><tspan font-size="6.73" dy="2.97">5</tspan><tspan dy="-2.97">·10H</tspan><tspan font-size="6.73" dy="2.97">2</tspan><tspan dy="-2.97">O-EE</tspan></text>
<line x1="366.30" y1="207.50" x2="388.50" y2="207.50" stroke="#2E7EC1" stroke-width="1.2" />
<text x="391.40" y="209.70" font-size="10.0" text-anchor="start" fill="#000" >ZA<tspan font-size="6.80" dy="3.00">3</tspan><tspan dy="-3.00">N</tspan><tspan font-size="6.80" dy="3.00">5</tspan><tspan dy="-3.00">·10H</tspan><tspan font-size="6.80" dy="3.00">2</tspan><tspan dy="-3.00">O</tspan></text>
<line x1="524.30" y1="207.90" x2="546.80" y2="207.90" stroke="#FBB57A" stroke-width="1.3" />
<text x="550.00" y="209.90" font-size="9.8" text-anchor="start" fill="#000" >1Zn1Na</text>
<text x="253.00" y="291.80" font-size="11" text-anchor="start" fill="#000" >0.1 mA cm<tspan font-size="7.6" dy="-4.6">-2</tspan></text>
<text x="342.60" y="291.80" font-size="11" text-anchor="start" fill="#000" >1 mAh cm<tspan font-size="7.6" dy="-4.6">-2</tspan></text>
<text x="0.00" y="343.60" font-size="14" text-anchor="start" fill="#000" >e</text>
<line x1="43.80" y1="354.30" x2="43.80" y2="471.50" stroke="#555" stroke-width="1.3" />
<line x1="43.80" y1="471.50" x2="249.40" y2="471.50" stroke="#555" stroke-width="1.3" />
<line x1="41.60" y1="466.10" x2="43.80" y2="466.10" stroke="#555" stroke-width="1.2" />
<text x="40.20" y="469.10" font-size="8" text-anchor="end" fill="#000" >0</text>
<line x1="42.60" y1="454.94" x2="43.80" y2="454.94" stroke="#555" stroke-width="1" />
<line x1="41.60" y1="443.77" x2="43.80" y2="443.77" stroke="#555" stroke-width="1.2" />
<text x="40.20" y="446.77" font-size="8" text-anchor="end" fill="#000" >100</text>
<line x1="42.60" y1="432.61" x2="43.80" y2="432.61" stroke="#555" stroke-width="1" />
<line x1="41.60" y1="421.44" x2="43.80" y2="421.44" stroke="#555" stroke-width="1.2" />
<text x="40.20" y="424.44" font-size="8" text-anchor="end" fill="#000" >200</text>
<line x1="42.60" y1="410.28" x2="43.80" y2="410.28" stroke="#555" stroke-width="1" />
<line x1="41.60" y1="399.11" x2="43.80" y2="399.11" stroke="#555" stroke-width="1.2" />
<text x="40.20" y="402.11" font-size="8" text-anchor="end" fill="#000" >300</text>
<line x1="42.60" y1="387.95" x2="43.80" y2="387.95" stroke="#555" stroke-width="1" />
<line x1="41.60" y1="376.78" x2="43.80" y2="376.78" stroke="#555" stroke-width="1.2" />
<text x="40.20" y="379.78" font-size="8" text-anchor="end" fill="#000" >400</text>
<line x1="42.60" y1="365.62" x2="43.80" y2="365.62" stroke="#555" stroke-width="1" />
<line x1="41.60" y1="354.45" x2="43.80" y2="354.45" stroke="#555" stroke-width="1.2" />
<text x="40.20" y="357.45" font-size="8" text-anchor="end" fill="#000" >500</text>
<line x1="54.10" y1="471.50" x2="54.10" y2="473.60" stroke="#555" stroke-width="1.2" />
<text x="54.10" y="481.30" font-size="7.8" text-anchor="middle" fill="#000" >0</text>
<line x1="77.31" y1="471.50" x2="77.31" y2="472.80" stroke="#555" stroke-width="1" />
<line x1="100.53" y1="471.50" x2="100.53" y2="473.60" stroke="#555" stroke-width="1.2" />
<text x="100.53" y="481.30" font-size="7.8" text-anchor="middle" fill="#000" >500</text>
<line x1="123.74" y1="471.50" x2="123.74" y2="472.80" stroke="#555" stroke-width="1" />
<line x1="146.95" y1="471.50" x2="146.95" y2="473.60" stroke="#555" stroke-width="1.2" />
<text x="146.95" y="481.30" font-size="7.8" text-anchor="middle" fill="#000" >1000</text>
<line x1="170.16" y1="471.50" x2="170.16" y2="472.80" stroke="#555" stroke-width="1" />
<line x1="193.38" y1="471.50" x2="193.38" y2="473.60" stroke="#555" stroke-width="1.2" />
<text x="193.38" y="481.30" font-size="7.8" text-anchor="middle" fill="#000" >1500</text>
<line x1="216.59" y1="471.50" x2="216.59" y2="472.80" stroke="#555" stroke-width="1" />
<line x1="239.80" y1="471.50" x2="239.80" y2="473.60" stroke="#555" stroke-width="1.2" />
<text x="239.80" y="481.30" font-size="7.8" text-anchor="middle" fill="#000" >2000</text>
<text x="146.70" y="492.60" font-size="9.5" text-anchor="middle" fill="#000" >Life time (h)</text>
<text transform="translate(23.2,412.5) rotate(-90)" font-size="9" text-anchor="middle">Accumulated capacity (mAh cm<tspan font-size="6" dy="-3.5">-2</tspan><tspan dy="3.5">)</tspan></text>
<line x1="96.00" y1="372.20" x2="236.50" y2="419.90" stroke="#EE1B24" stroke-width="1.2" stroke-dasharray="3.6,3.2"/>
<path d="M93.00,367.40 L93.89,369.78 L96.42,369.89 L94.44,371.47 L95.12,373.91 L93.00,372.51 L90.88,373.91 L91.56,371.47 L89.58,369.89 L92.11,369.78 Z" fill="#EE1B24"/>
<path d="M240.10,416.90 L241.14,419.67 L244.09,419.80 L241.78,421.65 L242.57,424.50 L240.10,422.86 L237.63,424.50 L238.42,421.65 L236.11,419.80 L239.06,419.67 Z" fill="#C4262E"/>
<circle cx="57.1" cy="376.2" r="2.6" fill="#8DCBA8" stroke="#666" stroke-width="0.4"/>
<circle cx="80.7" cy="399.3" r="2.6" fill="#E69CB0" stroke="#666" stroke-width="0.4"/>
<circle cx="64.9" cy="410.4" r="2.4" fill="#111"/>
<path d="M64.9,408.0 A2.4,2.4 0 0 0 64.9,412.79999999999995 Z" fill="#F4F11A"/>
<path d="M72.4,414.3 L78.4,414.3 L75.4,409.65 Z" fill="#6B6B6B" stroke="#555" stroke-width="0.3"/>
<path d="M85.90,423.80 L88.56,425.73 L87.55,428.87 L84.25,428.87 L83.24,425.73 Z" fill="#F8A521" stroke="#a60" stroke-width="0.3"/>
<path d="M65.1,431.1 L71.1,431.1 L68.1,426.45 Z" fill="#F59A57" stroke="#555" stroke-width="0.3"/>
<path d="M199.3,431.0 L205.3,431.0 L202.3,426.34999999999997 Z" fill="#F59A57" stroke="#555" stroke-width="0.3"/>
<path d="M55.7,433.90000000000003 L58.6,436.8 L55.7,439.7 L52.800000000000004,436.8 Z" fill="#3A7CC4" stroke="#335" stroke-width="0.3"/>
<circle cx="67.6" cy="449.4" r="2.4" fill="#111"/>
<path d="M67.6,447.0 A2.4,2.4 0 0 0 67.6,451.79999999999995 Z" fill="#F4F11A"/>
<path d="M87.6,447.2 L93.6,447.2 L90.6,451.85 Z" fill="#A99A20" stroke="#555" stroke-width="0.3"/>
<path d="M55.0,452.6 L60.27,449.5 L60.27,455.70000000000005 Z" fill="#6EC1F0"/>
<path d="M58.4,450.802 L60.27,449.5 L60.27,455.70000000000005 L58.4,454.398 Z" fill="#111"/>
<path d="M105.7,452.4 L110.97,449.29999999999995 L110.97,455.5 Z" fill="#6EC1F0"/>
<path d="M109.1,450.602 L110.97,449.29999999999995 L110.97,455.5 L109.1,454.198 Z" fill="#111"/>
<rect x="56.900000000000006" y="456.59999999999997" width="4.6" height="4.6" fill="#111"/>
<rect x="56.900000000000006" y="457.75" width="4.6" height="1.38" fill="#D8C83A"/>
<text x="107.30" y="361.80" font-size="7.7" text-anchor="start" fill="#EE1B24" >This work</text>
<text x="107.30" y="372.30" font-size="7.7" text-anchor="start" fill="#EE1B24" >1 mA cm<tspan font-size="5.3" dy="-3.1">-2</tspan></text>
<text x="210.90" y="396.90" font-size="7.7" text-anchor="start" fill="#EE1B24" >This work</text>
<text x="210.70" y="407.60" font-size="7.7" text-anchor="start" fill="#EE1B24" >0.1 mA cm<tspan font-size="5.3" dy="-3.1">-2</tspan></text>
<path d="M276.40,352.00 L277.44,354.77 L280.39,354.90 L278.08,356.75 L278.87,359.60 L276.40,357.96 L273.93,359.60 L274.72,356.75 L272.41,354.90 L275.36,354.77 Z" fill="#EE1B24"/>
<text x="287.60" y="359.90" font-size="9.5" text-anchor="start" fill="#EE1B24" >This Work, ZN<tspan font-size="6.46" dy="2.85">3</tspan><tspan dy="-2.85">A</tspan><tspan font-size="6.46" dy="2.85">5</tspan><tspan dy="-2.85">·10</tspan><tspan font-size="6.46" dy="2.85">2</tspan><tspan dy="-2.85">O-EE</tspan></text>
<path d="M273.29999999999995,371.53999999999996 L279.5,371.53999999999996 L276.4,376.34499999999997 Z" fill="#A99A20" stroke="#555" stroke-width="0.3"/>
<text x="287.30" y="376.00" font-size="7.2" text-anchor="start" fill="#000" >1M Zn(OTF)<tspan font-size="5" dy="2">2</tspan></text>
<path d="M273.29999999999995,385.56 L279.5,385.56 L276.4,380.755 Z" fill="#F59A57" stroke="#555" stroke-width="0.3"/>
<text x="287.30" y="386.30" font-size="7.2" text-anchor="start" fill="#000" >3M Zn(OTF)<tspan font-size="5" dy="2">2</tspan></text>
<circle cx="276.4" cy="396.0" r="2.55" fill="#111"/>
<path d="M276.4,393.45 A2.55,2.55 0 0 0 276.4,398.55 Z" fill="#F4F11A"/>
<text x="287.30" y="398.60" font-size="7.2" text-anchor="start" fill="#000" >4M NH<tspan font-size="5" dy="2">4</tspan><tspan dy="-2">Cl and 2M KCl</tspan></text>
<circle cx="276.4" cy="408.0" r="2.6" fill="#8DCBA8" stroke="#666" stroke-width="0.4"/>
<text x="287.30" y="410.60" font-size="7.2" text-anchor="start" fill="#000" >PAM hydrogel and 1M Zn(OTF)<tspan font-size="5" dy="2">2</tspan></text>
<path d="M273.4,421.1 L279.4,421.1 L276.4,416.45 Z" fill="#6B6B6B" stroke="#555" stroke-width="0.3"/>
<text x="287.30" y="421.90" font-size="7.2" text-anchor="start" fill="#000" >1M Zn(AC) and 1M Zn(OTF)<tspan font-size="5" dy="2">2</tspan></text>
<path d="M273.29999999999995,431.5 L278.57,428.4 L278.57,434.6 Z" fill="#6EC1F0"/>
<path d="M276.7,429.702 L278.57,428.4 L278.57,434.6 L276.7,433.298 Z" fill="#111"/>
<text x="287.30" y="434.10" font-size="7.2" text-anchor="start" fill="#000" >1m Zn(AC)<tspan font-size="5" dy="2">2</tspan></text>
<rect x="274.09999999999997" y="440.4" width="4.6" height="4.6" fill="#111"/>
<rect x="274.09999999999997" y="441.55" width="4.6" height="1.38" fill="#D8C83A"/>
<text x="287.30" y="445.30" font-size="7.2" text-anchor="start" fill="#000" >Agar-PVA/GO gel electrolyte.</text>
<path d="M276.4,449.9 L279.2,452.7 L276.4,455.5 L273.59999999999997,452.7 Z" fill="#3A7CC4" stroke="#335" stroke-width="0.3"/>
<text x="287.30" y="455.30" font-size="7.2" text-anchor="start" fill="#000" >PBS-Neutral electrolyte</text>
<circle cx="276.4" cy="463.3" r="2.6" fill="#E69CB0" stroke="#666" stroke-width="0.4"/>
<text x="287.30" y="465.90" font-size="7.2" text-anchor="start" fill="#000" >1m Zn(Ac)<tspan font-size="5" dy="2">2</tspan><tspan dy="-2"> with Zinc gluconate</tspan></text>
<path d="M276.40,471.30 L279.16,473.30 L278.10,476.55 L274.70,476.55 L273.64,473.30 Z" fill="#F8A521" stroke="#a60" stroke-width="0.3"/>
<text x="287.30" y="476.80" font-size="7.2" text-anchor="start" fill="#000" >Polyacrylamide-sodium citric</text>
<text x="430.30" y="343.80" font-size="14" text-anchor="start" fill="#000" >f</text>
<path d="M503.50,416.40 L509.90,420.96 L507.46,428.34 L499.54,428.34 L497.10,420.96 Z" fill="none" stroke="#8a8a8a" stroke-width="0.7"/>
<path d="M503.50,405.26 L520.71,417.52 L514.14,437.35 L492.86,437.35 L486.29,417.52 Z" fill="none" stroke="#8a8a8a" stroke-width="0.7"/>
<path d="M503.50,394.12 L531.52,414.08 L520.81,446.36 L486.19,446.36 L475.48,414.08 Z" fill="none" stroke="#8a8a8a" stroke-width="0.7"/>
<path d="M503.50,382.98 L542.32,410.63 L527.49,455.38 L479.51,455.38 L464.68,410.63 Z" fill="none" stroke="#8a8a8a" stroke-width="0.7"/>
<path d="M503.50,371.84 L553.13,407.19 L534.17,464.39 L472.83,464.39 L453.87,407.19 Z" fill="none" stroke="#8a8a8a" stroke-width="0.7"/>
<path d="M503.50,360.70 L563.94,403.75 L540.85,473.40 L466.15,473.40 L443.06,403.75 Z" fill="none" stroke="#8a8a8a" stroke-width="0.7"/>
<path d="M503.50,360.70 L563.94,403.75 L540.85,473.40 L474.50,462.14 L454.95,407.53 Z" fill="#FF7071" fill-opacity="0.88" stroke="#E8202A" stroke-width="0.7" stroke-linejoin="round"/>
<circle cx="503.50" cy="360.70" r="1.15" fill="#E8202A"/>
<circle cx="563.94" cy="403.75" r="1.15" fill="#E8202A"/>
<circle cx="540.85" cy="473.40" r="1.15" fill="#E8202A"/>
<circle cx="474.50" cy="462.14" r="1.15" fill="#E8202A"/>
<circle cx="454.95" cy="407.53" r="1.15" fill="#E8202A"/>
<path d="M503.50,360.70 L558.53,405.47 L507.46,428.34 L482.51,451.32 L443.06,403.75 Z" fill="#3073BC" fill-opacity="0.82" stroke="#2F6AA8" stroke-width="0.7" stroke-linejoin="round"/>
<circle cx="503.50" cy="360.70" r="1.15" fill="#2F7FE0"/>
<circle cx="558.53" cy="405.47" r="1.15" fill="#2F7FE0"/>
<circle cx="482.51" cy="451.32" r="1.15" fill="#2F7FE0"/>
<circle cx="443.06" cy="403.75" r="1.15" fill="#2F7FE0"/>
<line x1="503.50" y1="416.40" x2="503.50" y2="360.70" stroke="#000" stroke-width="0.8" stroke-opacity="0.4"/>
<line x1="509.90" y1="420.96" x2="563.94" y2="403.75" stroke="#000" stroke-width="0.8" stroke-opacity="0.4"/>
<line x1="507.46" y1="428.34" x2="540.85" y2="473.40" stroke="#000" stroke-width="0.8" stroke-opacity="0.4"/>
<line x1="499.54" y1="428.34" x2="466.15" y2="473.40" stroke="#000" stroke-width="0.8" stroke-opacity="0.4"/>
<line x1="497.10" y1="420.96" x2="443.06" y2="403.75" stroke="#000" stroke-width="0.8" stroke-opacity="0.4"/>
<path d="M503.50,416.40 L515.31,419.24 L520.81,446.36 L486.19,446.36 L463.60,410.29 Z" fill="#F89E32" fill-opacity="1.0" stroke="#F39025" stroke-width="0.6" stroke-linejoin="round"/>
<circle cx="515.31" cy="419.24" r="1.15" fill="#F08A1C"/>
<circle cx="520.81" cy="446.36" r="1.15" fill="#F08A1C"/>
<circle cx="486.19" cy="446.36" r="1.15" fill="#F08A1C"/>
<circle cx="463.60" cy="410.29" r="1.15" fill="#F08A1C"/>
<path d="M503.50,416.40 L509.90,420.96 L507.46,428.34 L499.54,428.34 L497.10,420.96 Z" fill="none" stroke="#8c8c8c" stroke-opacity="0.9" stroke-width="0.75"/>
<path d="M503.50,405.26 L520.71,417.52 L514.14,437.35 L492.86,437.35 L486.29,417.52 Z" fill="none" stroke="#8c8c8c" stroke-opacity="0.9" stroke-width="0.75"/>
<path d="M503.50,394.12 L531.52,414.08 L520.81,446.36 L486.19,446.36 L475.48,414.08 Z" fill="none" stroke="#8c8c8c" stroke-opacity="0.9" stroke-width="0.75"/>
<path d="M503.50,382.98 L542.32,410.63 L527.49,455.38 L479.51,455.38 L464.68,410.63 Z" fill="none" stroke="#8c8c8c" stroke-opacity="0.9" stroke-width="0.75"/>
<path d="M503.50,371.84 L553.13,407.19 L534.17,464.39 L472.83,464.39 L453.87,407.19 Z" fill="none" stroke="#8c8c8c" stroke-opacity="0.9" stroke-width="0.75"/>
<path d="M503.50,360.70 L563.94,403.75 L540.85,473.40 L466.15,473.40 L443.06,403.75 Z" fill="none" stroke="#8c8c8c" stroke-opacity="0.9" stroke-width="0.75"/>
<text x="505.10" y="418.40" font-size="5.6" text-anchor="start" fill="#6e7888" >0.0</text>
<text x="505.10" y="407.26" font-size="5.6" text-anchor="start" fill="#6e7888" >0.2</text>
<text x="505.10" y="396.12" font-size="5.6" text-anchor="start" fill="#6e7888" >0.4</text>
<text x="505.10" y="384.98" font-size="5.6" text-anchor="start" fill="#6e7888" >0.6</text>
<text x="505.10" y="373.84" font-size="5.6" text-anchor="start" fill="#6e7888" >0.8</text>
<text x="505.10" y="362.70" font-size="5.6" text-anchor="start" fill="#111" >1.0</text>
<text x="494.80" y="354.30" font-size="9.5" text-anchor="start" fill="#000" >i</text>
<text x="571.00" y="403.40" font-size="9.5" text-anchor="start" fill="#000" >ii</text>
<text x="544.10" y="485.90" font-size="9.5" text-anchor="start" fill="#000" >iii</text>
<text x="455.40" y="486.20" font-size="9.5" text-anchor="start" fill="#000" >iv</text>
<text x="432.00" y="404.20" font-size="9.5" text-anchor="start" fill="#000" >v</text>
<rect x="590.1" y="358.6" width="16.8" height="8.4" fill="#4F8BC8" stroke="#3a70a8" stroke-width="0.5"/>
<rect x="590.1" y="376.5" width="16.8" height="8.2" fill="#FF7F86" stroke="#e06068" stroke-width="0.5"/>
<rect x="590.1" y="393.3" width="16.8" height="8.2" fill="#F99D35" stroke="#d07c20" stroke-width="0.5"/>
<text x="608.90" y="365.60" font-size="7.7" text-anchor="start" fill="#000" >ZN<tspan font-size="5.24" dy="2.31">3</tspan><tspan dy="-2.31">A</tspan><tspan font-size="5.24" dy="2.31">5</tspan><tspan dy="-2.31">·10H</tspan><tspan font-size="5.24" dy="2.31">2</tspan><tspan dy="-2.31">O-EE</tspan></text>
<text x="608.90" y="383.40" font-size="7.7" text-anchor="start" fill="#000" >6M KOH</text>
<text x="608.90" y="400.20" font-size="7.7" text-anchor="start" fill="#000" >3M Zn(OTF)<tspan font-size="5" dy="2">2</tspan></text>
<text x="589.60" y="421.90" font-size="8.9" text-anchor="start" fill="#000" >i</text>
<text x="604.50" y="421.90" font-size="8.9" text-anchor="start" fill="#000" >-</text>
<text x="620.20" y="421.90" font-size="8.9" text-anchor="start" fill="#000" >Affordability</text>
<text x="589.60" y="434.80" font-size="8.9" text-anchor="start" fill="#000" >ii</text>
<text x="604.50" y="434.80" font-size="8.9" text-anchor="start" fill="#000" >-</text>
<text x="620.20" y="434.80" font-size="8.9" text-anchor="start" fill="#000" >Sustainability</text>
<text x="589.60" y="447.70" font-size="8.9" text-anchor="start" fill="#000" >iii</text>
<text x="604.50" y="447.70" font-size="8.9" text-anchor="start" fill="#000" >-</text>
<text x="620.20" y="447.70" font-size="8.9" text-anchor="start" fill="#000" >Lifetime</text>
<text x="589.60" y="460.60" font-size="8.9" text-anchor="start" fill="#000" >iv</text>
<text x="604.50" y="460.60" font-size="8.9" text-anchor="start" fill="#000" >-</text>
<text x="620.20" y="460.60" font-size="8.9" text-anchor="start" fill="#000" >Safety</text>
<text x="589.60" y="473.50" font-size="8.9" text-anchor="start" fill="#000" >v</text>
<text x="604.50" y="473.50" font-size="8.9" text-anchor="start" fill="#000" >-</text>
<text x="620.20" y="473.50" font-size="8.9" text-anchor="start" fill="#000" >Kinetic</text>
</svg></body></html>
